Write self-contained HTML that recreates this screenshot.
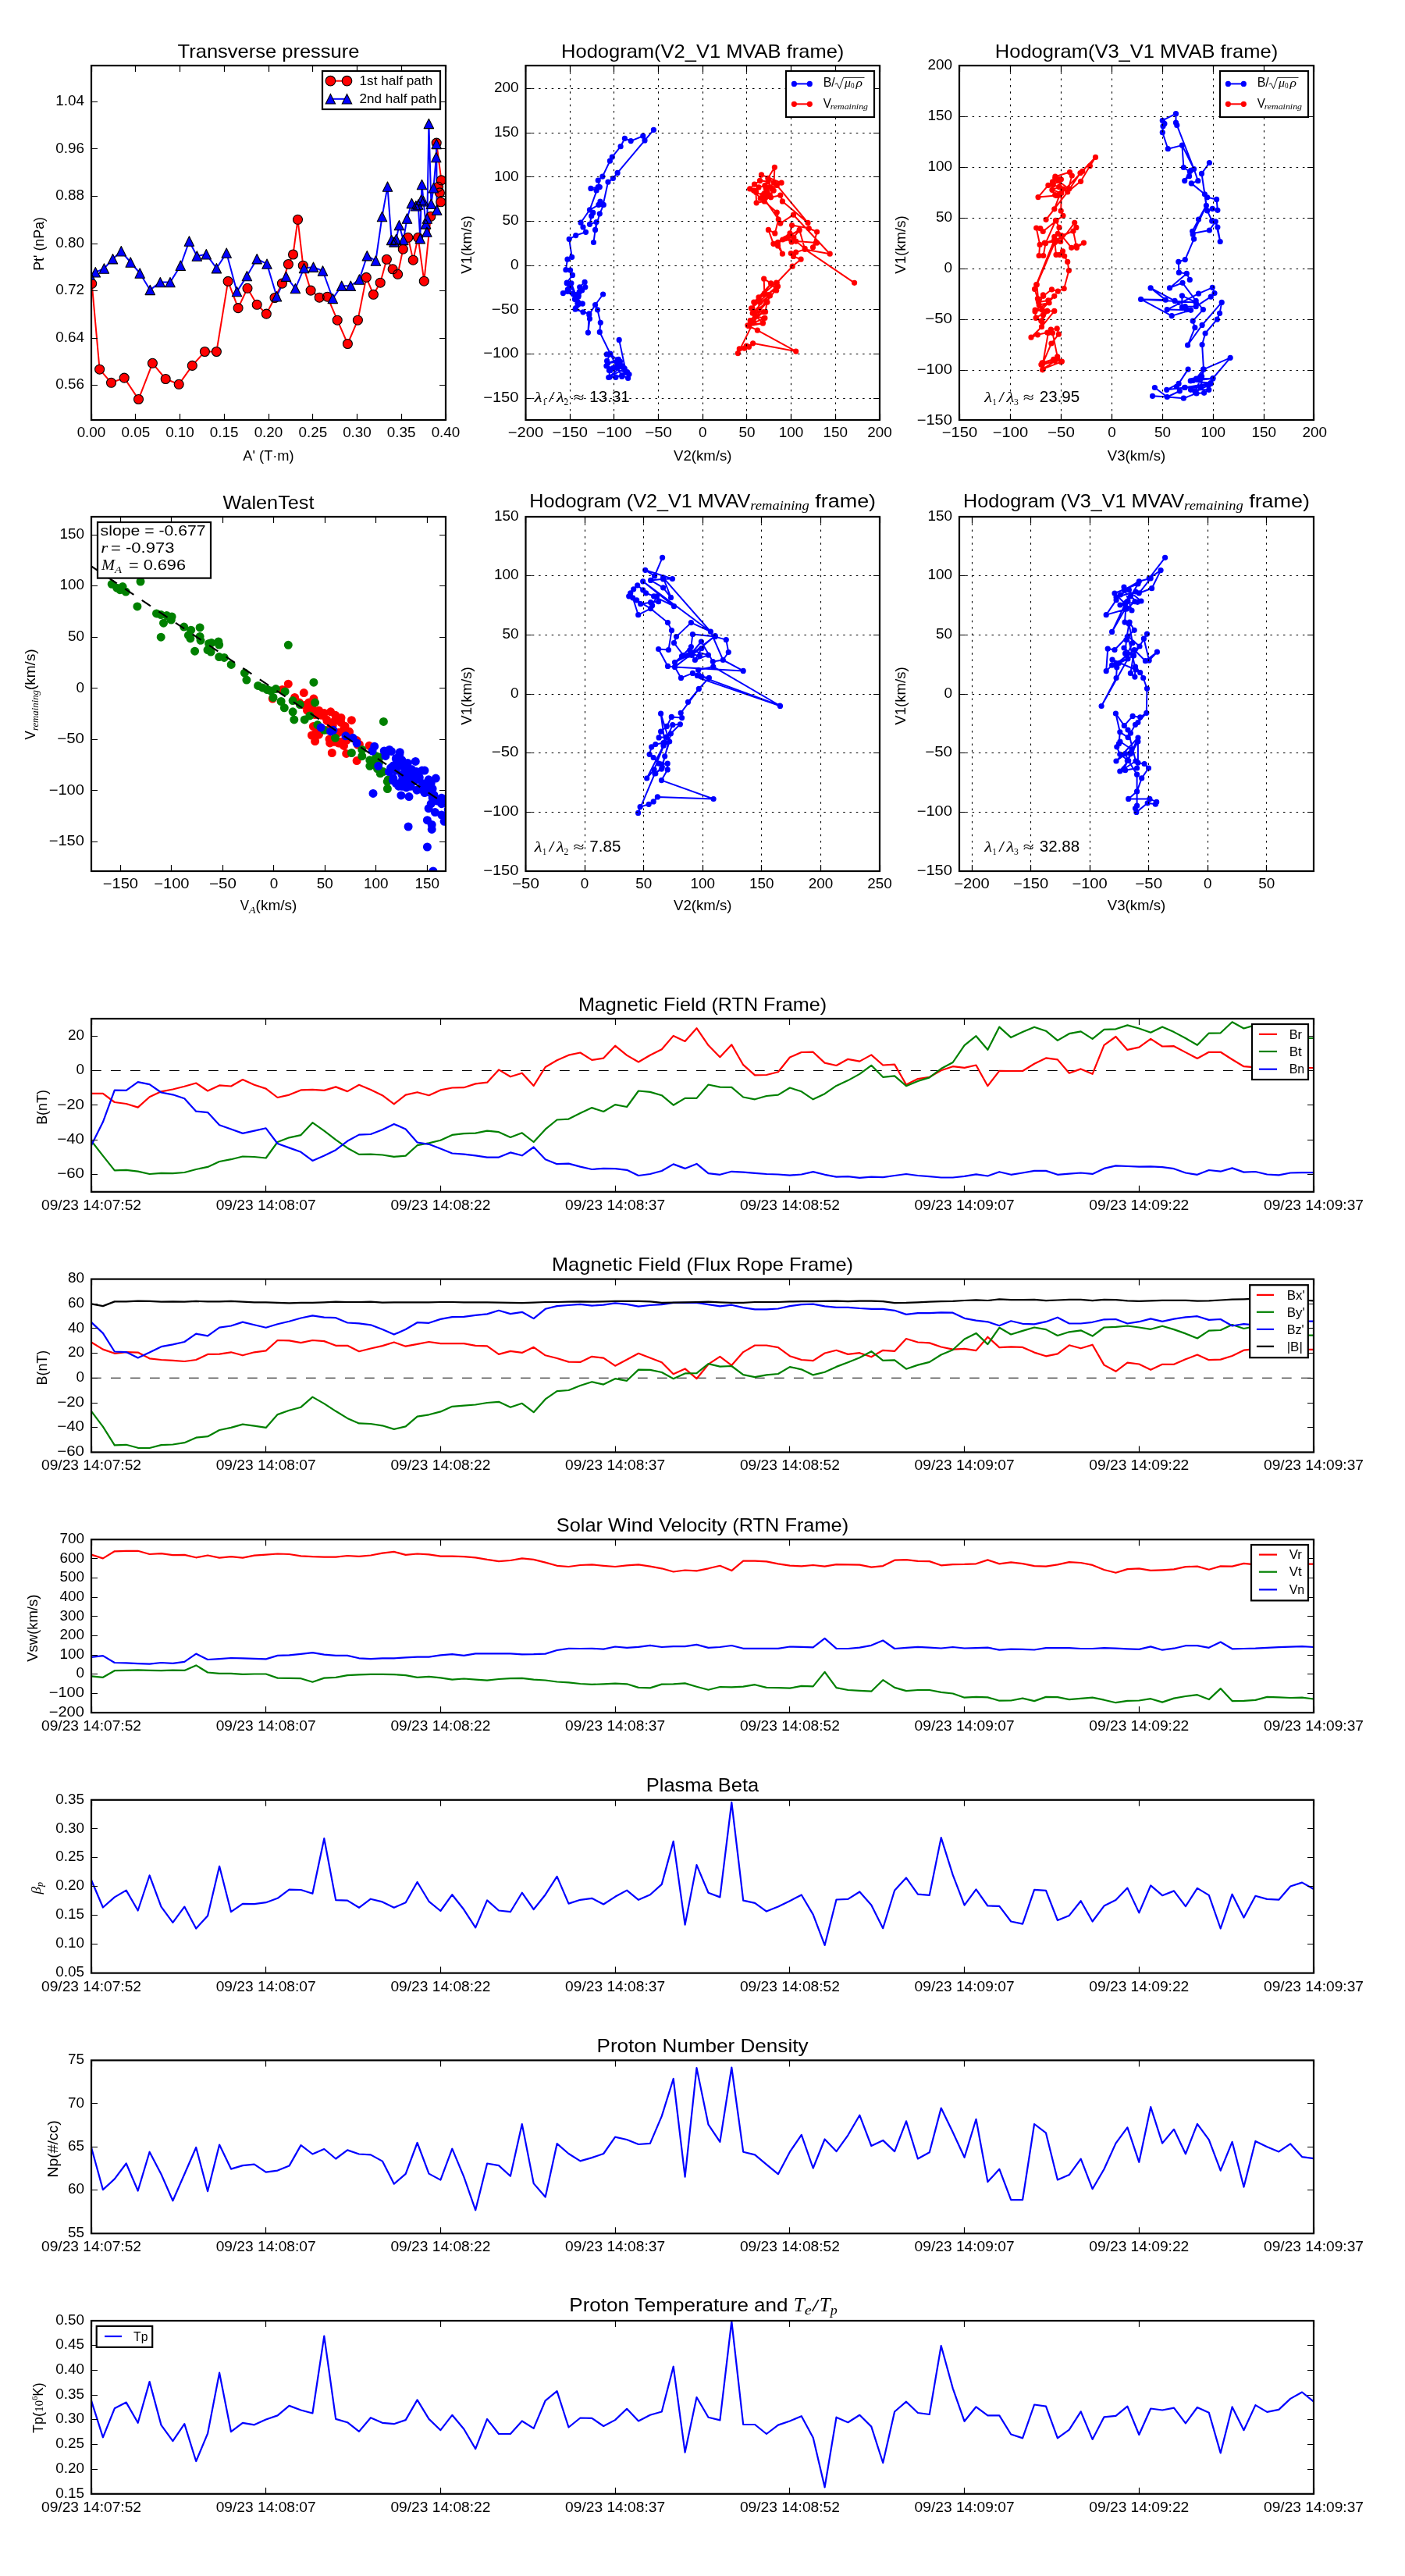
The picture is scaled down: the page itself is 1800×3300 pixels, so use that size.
<!DOCTYPE html>
<html><head><meta charset="utf-8"><style>html,body{margin:0;padding:0;background:#fff;}svg{display:block;will-change:transform}
</style></head><body>
<svg width="1800" height="3300" viewBox="0 0 1800 3300" font-family="Liberation Sans, sans-serif">
<rect width="1800" height="3300" fill="#fff"/>
<g stroke-linejoin="round" stroke-linecap="butt"><path d="M117 1371.5H1683" stroke="#000" stroke-width="1.1" stroke-dasharray="12.7 12.3" fill="none"/><path d="M117.0 1400.9 131.9 1400.9 146.8 1412.0 161.7 1414.0 176.7 1418.6 191.6 1405.2 206.5 1398.3 221.4 1395.5 236.3 1391.8 251.2 1387.5 266.1 1397.5 281.1 1390.4 296.0 1391.5 310.9 1383.0 325.8 1389.8 340.7 1394.6 355.6 1406.0 370.5 1402.6 385.5 1396.4 400.4 1395.8 415.3 1396.9 430.2 1392.4 445.1 1398.1 460.0 1389.8 474.9 1396.1 489.9 1403.2 504.8 1414.3 519.7 1402.6 534.6 1399.2 549.5 1403.2 564.4 1396.4 579.3 1393.5 594.3 1393.2 609.2 1388.4 624.1 1386.7 639.0 1370.4 653.9 1379.3 668.8 1374.7 683.7 1390.9 698.7 1367.0 713.6 1358.2 728.5 1351.7 743.4 1348.5 758.3 1357.9 773.2 1355.6 788.1 1339.7 803.1 1351.9 818.0 1360.5 832.9 1351.7 847.8 1344.3 862.7 1326.9 877.6 1334.0 892.5 1317.2 907.5 1339.1 922.4 1354.2 937.3 1338.3 952.2 1364.2 967.1 1377.3 982.0 1377.0 996.9 1373.3 1011.9 1354.5 1026.8 1348.0 1041.7 1347.7 1056.6 1361.6 1071.5 1365.0 1086.4 1356.8 1101.3 1359.6 1116.3 1351.4 1131.2 1364.5 1146.1 1363.6 1161.0 1389.5 1175.9 1382.1 1190.8 1379.8 1205.7 1371.3 1220.7 1366.2 1235.6 1367.9 1250.5 1364.5 1265.4 1391.2 1280.3 1371.8 1295.2 1372.0 1310.1 1372.0 1325.1 1362.7 1340.0 1355.4 1354.9 1357.4 1369.8 1374.7 1384.7 1369.4 1399.6 1375.8 1414.5 1338.8 1429.5 1328.0 1444.4 1344.9 1459.3 1341.7 1474.2 1330.9 1489.1 1340.5 1504.0 1340.2 1518.9 1348.1 1533.9 1356.0 1548.8 1347.8 1563.7 1347.8 1578.6 1357.2 1593.5 1366.2 1608.4 1367.4 1623.3 1368.0 1638.3 1369.4 1653.2 1368.0 1668.1 1368.0 1683.0 1368.0" fill="none" stroke="#ff0000" stroke-width="2.2"/><path d="M117.0 1461.5 131.9 1480.6 146.8 1499.4 161.7 1498.8 176.7 1500.6 191.6 1504.0 206.5 1502.8 221.4 1503.1 236.3 1502.0 251.2 1498.0 266.1 1494.9 281.1 1488.0 296.0 1485.2 310.9 1481.5 325.8 1482.0 340.7 1483.5 355.6 1463.0 370.5 1457.3 385.5 1454.1 400.4 1438.2 415.3 1448.7 430.2 1460.1 445.1 1470.7 460.0 1478.9 474.9 1478.6 489.9 1479.5 504.8 1481.8 519.7 1480.6 534.6 1467.2 549.5 1464.4 564.4 1460.7 579.3 1453.9 594.3 1452.2 609.2 1451.6 624.1 1448.7 639.0 1450.2 653.9 1457.0 668.8 1451.3 683.7 1463.0 698.7 1446.7 713.6 1434.5 728.5 1433.6 743.4 1426.0 758.3 1419.1 773.2 1424.0 788.1 1415.1 803.1 1418.0 818.0 1397.5 832.9 1398.9 847.8 1403.2 862.7 1415.7 877.6 1406.9 892.5 1406.9 907.5 1389.5 922.4 1392.7 937.3 1392.9 952.2 1405.5 967.1 1408.3 982.0 1404.0 996.9 1402.6 1011.9 1393.5 1026.8 1398.3 1041.7 1408.3 1056.6 1401.2 1071.5 1390.9 1086.4 1384.1 1101.3 1375.9 1116.3 1364.8 1131.2 1379.8 1146.1 1378.4 1161.0 1391.2 1175.9 1385.0 1190.8 1380.4 1205.7 1369.0 1220.7 1361.0 1235.6 1339.1 1250.5 1327.2 1265.4 1344.8 1280.3 1315.6 1295.2 1329.1 1310.1 1322.1 1325.1 1315.7 1340.0 1320.7 1354.9 1332.9 1369.8 1324.2 1384.7 1321.3 1399.6 1330.9 1414.5 1318.9 1429.5 1318.3 1444.4 1313.4 1459.3 1317.5 1474.2 1322.7 1489.1 1315.4 1504.0 1322.1 1518.9 1330.0 1533.9 1338.8 1548.8 1323.6 1563.7 1323.3 1578.6 1309.3 1593.5 1317.5 1608.4 1313.1 1623.3 1318.3 1638.3 1322.7 1653.2 1327.1 1668.1 1330.0 1683.0 1330.0" fill="none" stroke="#008000" stroke-width="2.2"/><path d="M117.0 1467.2 131.9 1437.3 146.8 1396.6 161.7 1396.9 176.7 1386.1 191.6 1389.2 206.5 1399.5 221.4 1402.3 236.3 1407.2 251.2 1423.7 266.1 1425.1 281.1 1441.3 296.0 1446.5 310.9 1451.9 325.8 1448.7 340.7 1445.3 355.6 1465.0 370.5 1470.4 385.5 1475.8 400.4 1486.9 415.3 1480.6 430.2 1473.2 445.1 1461.8 460.0 1453.6 474.9 1453.0 489.9 1447.3 504.8 1439.9 519.7 1446.5 534.6 1463.5 549.5 1465.8 564.4 1471.5 579.3 1477.5 594.3 1478.6 609.2 1480.3 624.1 1482.6 639.0 1482.6 653.9 1476.4 668.8 1480.3 683.7 1469.5 698.7 1485.2 713.6 1491.2 728.5 1490.6 743.4 1494.6 758.3 1498.0 773.2 1496.9 788.1 1497.1 803.1 1498.8 818.0 1506.0 832.9 1504.0 847.8 1500.0 862.7 1491.4 877.6 1496.9 892.5 1490.9 907.5 1503.1 922.4 1504.8 937.3 1500.8 952.2 1501.7 967.1 1502.8 982.0 1504.0 996.9 1504.5 1011.9 1505.7 1026.8 1504.5 1041.7 1501.1 1056.6 1504.8 1071.5 1507.7 1086.4 1507.1 1101.3 1508.8 1116.3 1507.7 1131.2 1508.2 1146.1 1506.0 1161.0 1504.0 1175.9 1506.0 1190.8 1507.1 1205.7 1508.5 1220.7 1508.5 1235.6 1506.8 1250.5 1504.3 1265.4 1506.5 1280.3 1501.2 1295.2 1504.8 1310.1 1502.5 1325.1 1499.9 1340.0 1499.9 1354.9 1504.8 1369.8 1503.6 1384.7 1502.5 1399.6 1503.9 1414.5 1496.9 1429.5 1493.4 1444.4 1494.0 1459.3 1494.6 1474.2 1494.3 1489.1 1495.2 1504.0 1497.2 1518.9 1502.5 1533.9 1504.8 1548.8 1499.0 1563.7 1500.7 1578.6 1496.4 1593.5 1501.6 1608.4 1501.0 1623.3 1504.5 1638.3 1505.4 1653.2 1502.5 1668.1 1502.2 1683.0 1502.2" fill="none" stroke="#0000ff" stroke-width="2.2"/><path d="M117 1765.3H1683" stroke="#000" stroke-width="1.1" stroke-dasharray="12.7 12.3" fill="none"/><path d="M117.0 1719.5 131.9 1728.6 146.8 1733.8 161.7 1732.1 176.7 1732.6 191.6 1740.3 206.5 1742.0 221.4 1742.9 236.3 1744.0 251.2 1742.0 266.1 1734.9 281.1 1734.6 296.0 1732.3 310.9 1736.3 325.8 1732.3 340.7 1730.4 355.6 1717.0 370.5 1717.3 385.5 1720.1 400.4 1717.0 415.3 1718.1 430.2 1723.8 445.1 1723.8 460.0 1731.2 474.9 1727.5 489.9 1724.1 504.8 1719.5 519.7 1724.7 534.6 1721.8 549.5 1719.0 564.4 1721.2 579.3 1721.2 594.3 1721.2 609.2 1723.8 624.1 1724.4 639.0 1734.9 653.9 1730.9 668.8 1732.9 683.7 1725.8 698.7 1736.3 713.6 1740.0 728.5 1744.6 743.4 1744.9 758.3 1737.8 773.2 1739.7 788.1 1749.7 803.1 1741.7 818.0 1733.8 832.9 1739.5 847.8 1745.2 862.7 1760.2 877.6 1753.4 892.5 1766.2 907.5 1747.7 922.4 1737.8 937.3 1749.1 952.2 1732.1 967.1 1723.5 982.0 1723.5 996.9 1726.1 1011.9 1737.2 1026.8 1742.0 1041.7 1743.2 1056.6 1733.5 1071.5 1729.8 1086.4 1734.9 1101.3 1733.2 1116.3 1738.3 1131.2 1729.8 1146.1 1730.9 1161.0 1715.0 1175.9 1719.5 1190.8 1720.4 1205.7 1725.5 1220.7 1728.6 1235.6 1727.8 1250.5 1730.1 1265.4 1712.7 1280.3 1726.1 1295.2 1725.3 1310.1 1725.9 1325.1 1732.6 1340.0 1737.3 1354.9 1734.3 1369.8 1723.3 1384.7 1727.3 1399.6 1722.7 1414.5 1748.6 1429.5 1756.8 1444.4 1745.7 1459.3 1747.5 1474.2 1754.8 1489.1 1747.8 1504.0 1747.8 1518.9 1741.3 1533.9 1735.5 1548.8 1742.2 1563.7 1741.6 1578.6 1737.0 1593.5 1729.7 1608.4 1728.2 1623.3 1728.2 1638.3 1728.8 1653.2 1728.8 1668.1 1728.8 1683.0 1728.8" fill="none" stroke="#ff0000" stroke-width="2.2"/><path d="M117.0 1807.8 131.9 1827.7 146.8 1851.3 161.7 1850.8 176.7 1854.8 191.6 1855.0 206.5 1851.1 221.4 1850.5 236.3 1848.2 251.2 1841.7 266.1 1840.2 281.1 1832.0 296.0 1828.9 310.9 1824.6 325.8 1826.6 340.7 1828.9 355.6 1812.1 370.5 1806.7 385.5 1802.7 400.4 1789.6 415.3 1798.1 430.2 1807.8 445.1 1816.9 460.0 1823.4 474.9 1824.0 489.9 1826.3 504.8 1830.9 519.7 1827.4 534.6 1814.6 549.5 1812.3 564.4 1808.4 579.3 1801.8 594.3 1800.7 609.2 1799.5 624.1 1797.0 639.0 1795.8 653.9 1802.7 668.8 1797.8 683.7 1809.2 698.7 1792.4 713.6 1782.2 728.5 1781.0 743.4 1775.0 758.3 1770.2 773.2 1773.6 788.1 1766.2 803.1 1768.8 818.0 1754.6 832.9 1754.8 847.8 1758.0 862.7 1766.2 877.6 1759.4 892.5 1759.1 907.5 1747.1 922.4 1750.6 937.3 1750.0 952.2 1761.1 967.1 1764.2 982.0 1761.4 996.9 1760.0 1011.9 1751.1 1026.8 1754.3 1041.7 1761.4 1056.6 1757.7 1071.5 1750.9 1086.4 1745.2 1101.3 1739.2 1116.3 1731.2 1131.2 1742.9 1146.1 1742.3 1161.0 1753.7 1175.9 1748.6 1190.8 1744.9 1205.7 1735.5 1220.7 1729.2 1235.6 1715.5 1250.5 1707.9 1265.4 1722.1 1280.3 1700.8 1295.2 1709.5 1310.1 1704.9 1325.1 1700.5 1340.0 1703.1 1354.9 1711.0 1369.8 1706.3 1384.7 1704.3 1399.6 1711.6 1414.5 1700.5 1429.5 1699.9 1444.4 1698.5 1459.3 1700.5 1474.2 1702.8 1489.1 1698.7 1504.0 1703.1 1518.9 1708.4 1533.9 1714.5 1548.8 1704.6 1563.7 1704.0 1578.6 1697.0 1593.5 1702.0 1608.4 1699.0 1623.3 1702.0 1638.3 1704.9 1653.2 1707.8 1668.1 1710.7 1683.0 1710.7" fill="none" stroke="#008000" stroke-width="2.2"/><path d="M117.0 1693.9 131.9 1707.9 146.8 1731.5 161.7 1732.1 176.7 1739.5 191.6 1732.6 206.5 1725.2 221.4 1722.4 236.3 1719.0 251.2 1708.7 266.1 1711.3 281.1 1700.7 296.0 1698.5 310.9 1693.6 325.8 1697.3 340.7 1700.7 355.6 1696.2 370.5 1692.8 385.5 1688.5 400.4 1685.4 415.3 1687.6 430.2 1688.2 445.1 1694.5 460.0 1695.3 474.9 1697.3 489.9 1703.0 504.8 1709.6 519.7 1703.0 534.6 1694.2 549.5 1694.8 564.4 1689.9 579.3 1687.1 594.3 1686.8 609.2 1684.8 624.1 1683.4 639.0 1678.8 653.9 1683.1 668.8 1680.8 683.7 1689.1 698.7 1676.8 713.6 1673.1 728.5 1672.0 743.4 1670.9 758.3 1672.6 773.2 1671.7 788.1 1669.4 803.1 1670.9 818.0 1673.7 832.9 1672.0 847.8 1671.1 862.7 1668.9 877.6 1668.9 892.5 1668.9 907.5 1671.1 922.4 1673.4 937.3 1671.7 952.2 1675.1 967.1 1677.4 982.0 1677.4 996.9 1676.5 1011.9 1673.1 1026.8 1671.1 1041.7 1670.6 1056.6 1673.4 1071.5 1674.8 1086.4 1674.8 1101.3 1676.0 1116.3 1676.8 1131.2 1676.8 1146.1 1678.8 1161.0 1683.9 1175.9 1682.2 1190.8 1682.2 1205.7 1681.4 1220.7 1681.7 1235.6 1688.8 1250.5 1691.6 1265.4 1693.3 1280.3 1698.2 1295.2 1692.3 1310.1 1695.8 1325.1 1696.4 1340.0 1693.2 1354.9 1687.7 1369.8 1695.5 1384.7 1695.5 1399.6 1693.8 1414.5 1690.3 1429.5 1690.0 1444.4 1695.5 1459.3 1693.2 1474.2 1689.4 1489.1 1692.9 1504.0 1689.7 1518.9 1687.4 1533.9 1686.2 1548.8 1690.9 1563.7 1690.0 1578.6 1698.5 1593.5 1696.1 1608.4 1697.6 1623.3 1696.1 1638.3 1694.7 1653.2 1693.2 1668.1 1692.6 1683.0 1692.6" fill="none" stroke="#0000ff" stroke-width="2.2"/><path d="M117.0 1670.3 131.9 1673.1 146.8 1667.4 161.7 1667.4 176.7 1666.6 191.6 1666.9 206.5 1667.7 221.4 1667.4 236.3 1667.7 251.2 1666.9 266.1 1667.4 281.1 1667.4 296.0 1666.9 310.9 1667.7 325.8 1668.3 340.7 1668.3 355.6 1668.9 370.5 1669.4 385.5 1668.9 400.4 1668.9 415.3 1668.3 430.2 1667.7 445.1 1668.0 460.0 1668.0 474.9 1667.7 489.9 1668.6 504.8 1668.3 519.7 1668.3 534.6 1668.3 549.5 1668.3 564.4 1668.0 579.3 1668.0 594.3 1668.3 609.2 1668.3 624.1 1668.3 639.0 1668.6 653.9 1668.9 668.8 1669.1 683.7 1668.6 698.7 1668.0 713.6 1668.0 728.5 1667.7 743.4 1667.4 758.3 1667.7 773.2 1667.4 788.1 1666.9 803.1 1666.9 818.0 1666.9 832.9 1667.4 847.8 1668.9 862.7 1668.6 877.6 1668.3 892.5 1668.0 907.5 1667.7 922.4 1668.3 937.3 1668.9 952.2 1668.9 967.1 1668.0 982.0 1668.0 996.9 1668.0 1011.9 1667.4 1026.8 1667.1 1041.7 1667.1 1056.6 1666.9 1071.5 1666.6 1086.4 1667.1 1101.3 1666.6 1116.3 1666.6 1131.2 1667.1 1146.1 1669.1 1161.0 1668.9 1175.9 1668.3 1190.8 1667.7 1205.7 1667.1 1220.7 1666.9 1235.6 1666.0 1250.5 1665.4 1265.4 1666.0 1280.3 1664.4 1295.2 1665.2 1310.1 1665.2 1325.1 1664.9 1340.0 1666.1 1354.9 1665.5 1369.8 1664.9 1384.7 1664.9 1399.6 1666.1 1414.5 1664.9 1429.5 1665.2 1444.4 1666.4 1459.3 1666.9 1474.2 1666.4 1489.1 1665.8 1504.0 1665.8 1518.9 1665.8 1533.9 1666.6 1548.8 1666.4 1563.7 1665.5 1578.6 1664.6 1593.5 1664.3 1608.4 1663.7 1623.3 1663.7 1638.3 1663.7 1653.2 1663.4 1668.1 1665.5 1683.0 1666.4" fill="none" stroke="#000000" stroke-width="2.2"/><path d="M117.0 1991.6 131.9 1996.4 146.8 1987.3 161.7 1986.8 176.7 1986.8 191.6 1991.0 206.5 1990.2 221.4 1992.2 236.3 1991.9 251.2 1995.3 266.1 1992.5 281.1 1995.6 296.0 1994.2 310.9 1995.6 325.8 1992.7 340.7 1991.6 355.6 1990.5 370.5 1991.0 385.5 1993.3 400.4 1994.2 415.3 1994.7 430.2 1994.7 445.1 1993.0 460.0 1993.9 474.9 1992.5 489.9 1989.6 504.8 1987.9 519.7 1991.9 534.6 1990.5 549.5 1991.3 564.4 1993.6 579.3 1993.6 594.3 1994.2 609.2 1995.3 624.1 1997.9 639.0 2000.1 653.9 1999.0 668.8 1996.4 683.7 1997.9 698.7 2001.6 713.6 2005.8 728.5 2007.0 743.4 2005.0 758.3 2004.4 773.2 2005.8 788.1 2007.0 803.1 2005.3 818.0 2004.4 832.9 2006.7 847.8 2009.3 862.7 2013.5 877.6 2011.5 892.5 2012.4 907.5 2009.3 922.4 2005.8 937.3 2012.1 952.2 1999.6 967.1 1999.6 982.0 2000.4 996.9 2003.3 1011.9 2005.6 1026.8 2006.4 1041.7 2005.0 1056.6 2006.7 1071.5 2004.1 1086.4 2004.4 1101.3 2004.7 1116.3 2007.6 1131.2 2006.1 1146.1 1998.7 1161.0 1998.2 1175.9 1999.9 1190.8 2000.1 1205.7 2005.3 1220.7 2004.1 1235.6 2003.9 1250.5 2003.3 1265.4 1998.4 1280.3 2003.4 1295.2 2001.4 1310.1 2003.1 1325.1 2006.1 1340.0 2006.6 1354.9 2004.3 1369.8 2001.1 1384.7 2002.0 1399.6 2004.9 1414.5 2011.0 1429.5 2014.8 1444.4 2010.1 1459.3 2009.3 1474.2 2011.9 1489.1 2011.3 1504.0 2010.4 1518.9 2007.2 1533.9 2006.6 1548.8 2010.7 1563.7 2006.4 1578.6 2006.6 1593.5 2002.9 1608.4 2004.3 1623.3 2004.3 1638.3 2004.3 1653.2 2004.3 1668.1 2003.7 1683.0 2003.7" fill="none" stroke="#ff0000" stroke-width="2.2"/><path d="M117.0 2147.3 131.9 2148.8 146.8 2140.2 161.7 2139.9 176.7 2139.4 191.6 2139.9 206.5 2140.2 221.4 2139.7 236.3 2139.9 251.2 2133.4 266.1 2142.5 281.1 2143.9 296.0 2143.9 310.9 2144.8 325.8 2144.5 340.7 2144.5 355.6 2149.6 370.5 2149.9 385.5 2150.2 400.4 2154.7 415.3 2149.6 430.2 2148.8 445.1 2146.2 460.0 2145.3 474.9 2144.8 489.9 2144.8 504.8 2145.1 519.7 2146.2 534.6 2148.8 549.5 2147.9 564.4 2149.3 579.3 2151.6 594.3 2150.5 609.2 2151.6 624.1 2152.7 639.0 2151.0 653.9 2150.2 668.8 2149.9 683.7 2151.6 698.7 2152.5 713.6 2154.5 728.5 2155.3 743.4 2157.0 758.3 2157.9 773.2 2157.3 788.1 2156.7 803.1 2157.3 818.0 2161.9 832.9 2162.4 847.8 2157.6 862.7 2157.3 877.6 2156.4 892.5 2160.7 907.5 2164.7 922.4 2161.0 937.3 2161.3 952.2 2160.7 967.1 2158.2 982.0 2161.9 996.9 2162.1 1011.9 2162.7 1026.8 2159.9 1041.7 2160.4 1056.6 2141.9 1071.5 2162.1 1086.4 2165.0 1101.3 2165.8 1116.3 2166.7 1131.2 2152.2 1146.1 2161.9 1161.0 2166.1 1175.9 2165.0 1190.8 2165.0 1205.7 2167.8 1220.7 2169.5 1235.6 2174.7 1250.5 2173.8 1265.4 2174.4 1280.3 2178.7 1295.2 2178.5 1310.1 2175.6 1325.1 2179.1 1340.0 2173.9 1354.9 2174.1 1369.8 2177.1 1384.7 2175.9 1399.6 2174.7 1414.5 2177.7 1429.5 2181.2 1444.4 2178.8 1459.3 2178.5 1474.2 2176.2 1489.1 2180.6 1504.0 2175.6 1518.9 2173.0 1533.9 2171.2 1548.8 2177.1 1563.7 2163.1 1578.6 2179.1 1593.5 2178.8 1608.4 2177.9 1623.3 2173.9 1638.3 2174.4 1653.2 2175.0 1668.1 2174.7 1683.0 2176.5" fill="none" stroke="#008000" stroke-width="2.2"/><path d="M117.0 2122.9 131.9 2121.1 146.8 2130.0 161.7 2130.3 176.7 2131.1 191.6 2131.7 206.5 2130.0 221.4 2130.8 236.3 2128.8 251.2 2118.6 266.1 2126.0 281.1 2125.1 296.0 2124.0 310.9 2124.3 325.8 2124.8 340.7 2125.4 355.6 2120.9 370.5 2120.3 385.5 2118.9 400.4 2117.2 415.3 2119.7 430.2 2120.9 445.1 2120.9 460.0 2124.3 474.9 2125.1 489.9 2124.3 504.8 2124.3 519.7 2123.4 534.6 2122.6 549.5 2122.6 564.4 2120.3 579.3 2119.2 594.3 2120.9 609.2 2118.3 624.1 2118.3 639.0 2118.3 653.9 2118.3 668.8 2119.4 683.7 2119.2 698.7 2118.6 713.6 2114.0 728.5 2111.8 743.4 2112.0 758.3 2111.8 773.2 2112.6 788.1 2109.5 803.1 2110.9 818.0 2109.8 832.9 2107.8 847.8 2110.0 862.7 2109.2 877.6 2109.2 892.5 2106.9 907.5 2110.9 922.4 2110.0 937.3 2108.0 952.2 2111.8 967.1 2111.8 982.0 2111.8 996.9 2111.8 1011.9 2109.5 1026.8 2109.8 1041.7 2110.3 1056.6 2098.9 1071.5 2111.8 1086.4 2112.0 1101.3 2110.6 1116.3 2107.8 1131.2 2101.5 1146.1 2112.0 1161.0 2110.9 1175.9 2109.8 1190.8 2110.6 1205.7 2111.5 1220.7 2110.0 1235.6 2111.5 1250.5 2111.2 1265.4 2110.6 1280.3 2113.6 1295.2 2112.6 1310.1 2112.9 1325.1 2113.5 1340.0 2111.1 1354.9 2111.1 1369.8 2111.1 1384.7 2112.0 1399.6 2112.0 1414.5 2111.1 1429.5 2111.7 1444.4 2112.3 1459.3 2112.9 1474.2 2109.4 1489.1 2113.7 1504.0 2111.7 1518.9 2108.2 1533.9 2108.2 1548.8 2110.8 1563.7 2103.5 1578.6 2112.3 1593.5 2112.0 1608.4 2111.7 1623.3 2110.8 1638.3 2110.2 1653.2 2109.7 1668.1 2109.1 1683.0 2110.0" fill="none" stroke="#0000ff" stroke-width="2.2"/><path d="M117.0 2408.5 131.9 2443.5 146.8 2430.4 161.7 2421.6 176.7 2447.5 191.6 2402.5 206.5 2442.6 221.4 2462.8 236.3 2442.6 251.2 2470.5 266.1 2454.3 281.1 2390.8 296.0 2449.2 310.9 2438.9 325.8 2439.2 340.7 2437.2 355.6 2431.8 370.5 2420.7 385.5 2421.0 400.4 2425.8 415.3 2355.2 430.2 2434.1 445.1 2434.6 460.0 2443.8 474.9 2432.7 489.9 2436.4 504.8 2443.8 519.7 2437.2 534.6 2411.0 549.5 2435.8 564.4 2448.0 579.3 2427.2 594.3 2446.3 609.2 2469.4 624.1 2434.4 639.0 2447.5 653.9 2449.2 668.8 2424.7 683.7 2446.0 698.7 2427.2 713.6 2403.9 728.5 2438.6 743.4 2433.8 758.3 2431.8 773.2 2439.5 788.1 2429.8 803.1 2421.6 818.0 2433.8 832.9 2427.2 847.8 2413.9 862.7 2358.9 877.6 2465.7 892.5 2389.1 907.5 2424.7 922.4 2430.4 937.3 2308.8 952.2 2434.6 967.1 2437.8 982.0 2448.6 996.9 2442.6 1011.9 2435.2 1026.8 2427.5 1041.7 2452.6 1056.6 2491.9 1071.5 2433.5 1086.4 2432.9 1101.3 2423.5 1116.3 2440.6 1131.2 2470.2 1146.1 2421.8 1161.0 2405.6 1175.9 2426.7 1190.8 2427.8 1205.7 2354.1 1220.7 2401.9 1235.6 2440.6 1250.5 2420.4 1265.4 2441.5 1280.3 2441.8 1295.2 2461.5 1310.1 2464.7 1325.1 2420.9 1340.0 2421.8 1354.9 2460.0 1369.8 2453.9 1384.7 2435.2 1399.6 2461.5 1414.5 2441.6 1429.5 2434.0 1444.4 2418.6 1459.3 2450.4 1474.2 2415.4 1489.1 2428.2 1504.0 2422.4 1518.9 2442.2 1533.9 2418.9 1548.8 2427.9 1563.7 2470.5 1578.6 2426.7 1593.5 2456.5 1608.4 2428.8 1623.3 2432.9 1638.3 2433.7 1653.2 2416.5 1668.1 2411.6 1683.0 2420.0" fill="none" stroke="#0000ff" stroke-width="2.2"/><path d="M117.0 2751.0 131.9 2805.1 146.8 2791.4 161.7 2771.5 176.7 2806.5 191.6 2756.7 206.5 2785.2 221.4 2819.3 236.3 2785.2 251.2 2751.0 266.1 2807.1 281.1 2747.6 296.0 2778.6 310.9 2774.1 325.8 2772.6 340.7 2782.6 355.6 2780.6 370.5 2774.6 385.5 2748.1 400.4 2759.5 415.3 2753.0 430.2 2765.5 445.1 2754.4 460.0 2759.5 474.9 2760.4 489.9 2768.6 504.8 2797.7 519.7 2784.9 534.6 2745.0 549.5 2784.6 564.4 2792.6 579.3 2752.7 594.3 2788.6 609.2 2831.3 624.1 2771.5 639.0 2774.1 653.9 2787.7 668.8 2721.1 683.7 2797.1 698.7 2814.5 713.6 2746.2 728.5 2759.0 743.4 2768.4 758.3 2764.1 773.2 2759.0 788.1 2737.6 803.1 2741.0 818.0 2747.0 832.9 2745.9 847.8 2710.9 862.7 2663.0 877.6 2788.6 892.5 2649.1 907.5 2721.7 922.4 2743.9 937.3 2648.5 952.2 2756.7 967.1 2760.4 982.0 2772.9 996.9 2785.2 1011.9 2756.7 1026.8 2734.8 1041.7 2777.5 1056.6 2740.5 1071.5 2756.1 1086.4 2735.3 1101.3 2709.7 1116.3 2749.0 1131.2 2741.9 1146.1 2756.1 1161.0 2717.4 1175.9 2765.5 1190.8 2757.3 1205.7 2700.6 1220.7 2731.6 1235.6 2763.8 1250.5 2714.8 1265.4 2795.1 1280.3 2778.7 1295.2 2818.2 1310.1 2818.2 1325.1 2721.0 1340.0 2732.4 1354.9 2792.5 1369.8 2786.1 1384.7 2765.7 1399.6 2804.2 1414.5 2778.8 1429.5 2745.6 1444.4 2725.4 1459.3 2769.8 1474.2 2699.2 1489.1 2745.6 1504.0 2727.8 1518.9 2759.3 1533.9 2720.8 1548.8 2741.2 1563.7 2780.6 1578.6 2743.8 1593.5 2801.6 1608.4 2742.9 1623.3 2750.2 1638.3 2756.4 1653.2 2746.4 1668.1 2763.1 1683.0 2765.1" fill="none" stroke="#0000ff" stroke-width="2.2"/><path d="M117.0 3075.3 131.9 3122.3 146.8 3085.3 161.7 3077.6 176.7 3103.8 191.6 3051.1 206.5 3106.6 221.4 3127.1 236.3 3105.2 251.2 3153.0 266.1 3117.4 281.1 3039.7 296.0 3115.2 310.9 3103.8 325.8 3106.3 340.7 3099.5 355.6 3094.4 370.5 3081.9 385.5 3087.5 400.4 3091.5 415.3 2992.7 430.2 3098.9 445.1 3103.2 460.0 3114.9 474.9 3097.2 489.9 3103.8 504.8 3105.2 519.7 3100.1 534.6 3074.4 549.5 3098.9 564.4 3113.2 579.3 3093.8 594.3 3111.7 609.2 3137.1 624.1 3098.9 639.0 3118.0 653.9 3118.0 668.8 3101.5 683.7 3110.9 698.7 3075.3 713.6 3063.1 728.5 3109.5 743.4 3097.5 758.3 3097.8 773.2 3108.0 788.1 3100.1 803.1 3085.8 818.0 3101.5 832.9 3093.8 847.8 3089.5 862.7 3031.7 877.6 3141.6 892.5 3071.0 907.5 3096.7 922.4 3100.4 937.3 2973.7 952.2 3106.0 967.1 3106.0 982.0 3118.0 996.9 3106.6 1011.9 3101.5 1026.8 3095.2 1041.7 3122.8 1056.6 3186.3 1071.5 3096.7 1086.4 3103.2 1101.3 3093.8 1116.3 3108.6 1131.2 3155.0 1146.1 3089.5 1161.0 3076.7 1175.9 3091.0 1190.8 3093.0 1205.7 3005.0 1220.7 3059.6 1235.6 3101.8 1250.5 3083.3 1265.4 3094.4 1280.3 3094.3 1295.2 3118.5 1310.1 3123.4 1325.1 3080.5 1340.0 3082.6 1354.9 3123.4 1369.8 3112.6 1384.7 3089.3 1399.6 3124.9 1414.5 3096.3 1429.5 3094.8 1444.4 3082.6 1459.3 3119.0 1474.2 3085.5 1489.1 3087.5 1504.0 3084.6 1518.9 3104.4 1533.9 3084.0 1548.8 3090.7 1563.7 3142.4 1578.6 3083.4 1593.5 3113.2 1608.4 3081.1 1623.3 3089.9 1638.3 3086.9 1653.2 3072.9 1668.1 3064.5 1683.0 3076.7" fill="none" stroke="#0000ff" stroke-width="2.2"/><clipPath id="cA"><rect x="117" y="84" width="454" height="454"/></clipPath><g clip-path="url(#cA)"><path d="M117.7 363.3 127.6 473.2 142.5 490.3 159.2 484.1 177.5 511.5 195.4 465.3 212.2 485.5 229.2 492.3 246.3 468.4 262.4 450.5 277.4 450.5 292.1 360.4 305.1 394.6 317.0 369.3 329.2 390.3 341.3 402.1 352.0 381.5 361.4 363.1 369.4 338.5 375.5 326.0 381.5 281.3 388.3 340.2 398.1 372.1 409.2 381.2 419.4 380.2 432.2 410.2 445.4 440.5 458.4 410.2 469.3 355.4 478.4 377.3 487.2 362.2 495.4 332.3 503.1 344.8 509.6 351.3 516.3 319.2 522.8 304.3 529.3 333.2 535.6 304.3 543.3 360.2 551.8 277.3 564.8 258.8 563.4 246.9 561.6 239.3 565.4 230.9 559.2 183.1" fill="none" stroke="#ff0000" stroke-width="2.0"/><path d="M115.0 352.0 122.3 348.8 133.4 344.0 144.5 331.7 155.3 321.8 167.2 336.0 179.2 350.0 192.3 371.4 205.3 361.6 218.0 361.6 231.3 340.3 242.4 309.0 252.3 328.0 264.3 325.8 277.4 343.7 290.2 324.1 303.5 373.6 316.4 353.6 329.2 331.7 342.0 338.1 354.5 379.8 366.5 354.2 378.4 369.6 389.5 343.6 401.5 342.2 413.5 347.0 426.3 382.4 437.7 366.2 449.3 366.2 460.4 358.0 470.3 327.7 481.4 334.0 489.5 277.5 496.5 239.1 501.6 307.4 505.0 309.9 507.6 306.5 511.4 288.6 516.8 307.4 521.5 280.0 527.4 260.4 532.8 263.8 535.8 262.1 538.3 305.7 539.6 256.1 540.5 236.5 542.6 257.8 545.6 286.9 546.9 297.1 547.3 280.0 549.4 158.4 552.4 261.3 555.4 240.8 558.8 201.5 559.2 184.4 559.7 269.0" fill="none" stroke="#0000ff" stroke-width="2.0"/><path d="M111.7 363.3a6.0 6.0 0 1 0 12.0 0a6.0 6.0 0 1 0 -12.0 0M121.6 473.2a6.0 6.0 0 1 0 12.0 0a6.0 6.0 0 1 0 -12.0 0M136.5 490.3a6.0 6.0 0 1 0 12.0 0a6.0 6.0 0 1 0 -12.0 0M153.2 484.1a6.0 6.0 0 1 0 12.0 0a6.0 6.0 0 1 0 -12.0 0M171.5 511.5a6.0 6.0 0 1 0 12.0 0a6.0 6.0 0 1 0 -12.0 0M189.4 465.3a6.0 6.0 0 1 0 12.0 0a6.0 6.0 0 1 0 -12.0 0M206.2 485.5a6.0 6.0 0 1 0 12.0 0a6.0 6.0 0 1 0 -12.0 0M223.2 492.3a6.0 6.0 0 1 0 12.0 0a6.0 6.0 0 1 0 -12.0 0M240.3 468.4a6.0 6.0 0 1 0 12.0 0a6.0 6.0 0 1 0 -12.0 0M256.4 450.5a6.0 6.0 0 1 0 12.0 0a6.0 6.0 0 1 0 -12.0 0M271.4 450.5a6.0 6.0 0 1 0 12.0 0a6.0 6.0 0 1 0 -12.0 0M286.1 360.4a6.0 6.0 0 1 0 12.0 0a6.0 6.0 0 1 0 -12.0 0M299.1 394.6a6.0 6.0 0 1 0 12.0 0a6.0 6.0 0 1 0 -12.0 0M311.0 369.3a6.0 6.0 0 1 0 12.0 0a6.0 6.0 0 1 0 -12.0 0M323.2 390.3a6.0 6.0 0 1 0 12.0 0a6.0 6.0 0 1 0 -12.0 0M335.3 402.1a6.0 6.0 0 1 0 12.0 0a6.0 6.0 0 1 0 -12.0 0M346.0 381.5a6.0 6.0 0 1 0 12.0 0a6.0 6.0 0 1 0 -12.0 0M355.4 363.1a6.0 6.0 0 1 0 12.0 0a6.0 6.0 0 1 0 -12.0 0M363.4 338.5a6.0 6.0 0 1 0 12.0 0a6.0 6.0 0 1 0 -12.0 0M369.5 326.0a6.0 6.0 0 1 0 12.0 0a6.0 6.0 0 1 0 -12.0 0M375.5 281.3a6.0 6.0 0 1 0 12.0 0a6.0 6.0 0 1 0 -12.0 0M382.3 340.2a6.0 6.0 0 1 0 12.0 0a6.0 6.0 0 1 0 -12.0 0M392.1 372.1a6.0 6.0 0 1 0 12.0 0a6.0 6.0 0 1 0 -12.0 0M403.2 381.2a6.0 6.0 0 1 0 12.0 0a6.0 6.0 0 1 0 -12.0 0M413.4 380.2a6.0 6.0 0 1 0 12.0 0a6.0 6.0 0 1 0 -12.0 0M426.2 410.2a6.0 6.0 0 1 0 12.0 0a6.0 6.0 0 1 0 -12.0 0M439.4 440.5a6.0 6.0 0 1 0 12.0 0a6.0 6.0 0 1 0 -12.0 0M452.4 410.2a6.0 6.0 0 1 0 12.0 0a6.0 6.0 0 1 0 -12.0 0M463.3 355.4a6.0 6.0 0 1 0 12.0 0a6.0 6.0 0 1 0 -12.0 0M472.4 377.3a6.0 6.0 0 1 0 12.0 0a6.0 6.0 0 1 0 -12.0 0M481.2 362.2a6.0 6.0 0 1 0 12.0 0a6.0 6.0 0 1 0 -12.0 0M489.4 332.3a6.0 6.0 0 1 0 12.0 0a6.0 6.0 0 1 0 -12.0 0M497.1 344.8a6.0 6.0 0 1 0 12.0 0a6.0 6.0 0 1 0 -12.0 0M503.6 351.3a6.0 6.0 0 1 0 12.0 0a6.0 6.0 0 1 0 -12.0 0M510.3 319.2a6.0 6.0 0 1 0 12.0 0a6.0 6.0 0 1 0 -12.0 0M516.8 304.3a6.0 6.0 0 1 0 12.0 0a6.0 6.0 0 1 0 -12.0 0M523.3 333.2a6.0 6.0 0 1 0 12.0 0a6.0 6.0 0 1 0 -12.0 0M529.6 304.3a6.0 6.0 0 1 0 12.0 0a6.0 6.0 0 1 0 -12.0 0M537.3 360.2a6.0 6.0 0 1 0 12.0 0a6.0 6.0 0 1 0 -12.0 0M545.8 277.3a6.0 6.0 0 1 0 12.0 0a6.0 6.0 0 1 0 -12.0 0M558.8 258.8a6.0 6.0 0 1 0 12.0 0a6.0 6.0 0 1 0 -12.0 0M557.4 246.9a6.0 6.0 0 1 0 12.0 0a6.0 6.0 0 1 0 -12.0 0M555.6 239.3a6.0 6.0 0 1 0 12.0 0a6.0 6.0 0 1 0 -12.0 0M559.4 230.9a6.0 6.0 0 1 0 12.0 0a6.0 6.0 0 1 0 -12.0 0M553.2 183.1a6.0 6.0 0 1 0 12.0 0a6.0 6.0 0 1 0 -12.0 0" fill="#ff0000" stroke="#000" stroke-width="1.1"/><path d="M115.0 345.8L108.8 358.2L121.2 358.2ZM122.3 342.6L116.1 355.0L128.5 355.0ZM133.4 337.8L127.2 350.2L139.6 350.2ZM144.5 325.5L138.3 337.9L150.7 337.9ZM155.3 315.6L149.1 328.0L161.5 328.0ZM167.2 329.8L161.0 342.2L173.4 342.2ZM179.2 343.8L173.0 356.2L185.4 356.2ZM192.3 365.2L186.1 377.6L198.5 377.6ZM205.3 355.4L199.1 367.8L211.5 367.8ZM218.0 355.4L211.8 367.8L224.2 367.8ZM231.3 334.1L225.1 346.5L237.5 346.5ZM242.4 302.8L236.2 315.2L248.6 315.2ZM252.3 321.8L246.1 334.2L258.5 334.2ZM264.3 319.6L258.1 332.0L270.5 332.0ZM277.4 337.5L271.2 349.9L283.6 349.9ZM290.2 317.9L284.0 330.3L296.4 330.3ZM303.5 367.4L297.3 379.8L309.7 379.8ZM316.4 347.4L310.2 359.8L322.6 359.8ZM329.2 325.5L323.0 337.9L335.4 337.9ZM342.0 331.9L335.8 344.3L348.2 344.3ZM354.5 373.6L348.3 386.0L360.7 386.0ZM366.5 348.0L360.3 360.4L372.7 360.4ZM378.4 363.4L372.2 375.8L384.6 375.8ZM389.5 337.4L383.3 349.8L395.7 349.8ZM401.5 336.0L395.3 348.4L407.7 348.4ZM413.5 340.8L407.3 353.2L419.7 353.2ZM426.3 376.2L420.1 388.6L432.5 388.6ZM437.7 360.0L431.5 372.4L443.9 372.4ZM449.3 360.0L443.1 372.4L455.5 372.4ZM460.4 351.8L454.2 364.2L466.6 364.2ZM470.3 321.5L464.1 333.9L476.5 333.9ZM481.4 327.8L475.2 340.2L487.6 340.2ZM489.5 271.3L483.3 283.7L495.7 283.7ZM496.5 232.9L490.3 245.3L502.7 245.3ZM501.6 301.2L495.4 313.6L507.8 313.6ZM505.0 303.7L498.8 316.1L511.2 316.1ZM507.6 300.3L501.4 312.7L513.8 312.7ZM511.4 282.4L505.2 294.8L517.6 294.8ZM516.8 301.2L510.6 313.6L523.0 313.6ZM521.5 273.8L515.3 286.2L527.7 286.2ZM527.4 254.2L521.2 266.6L533.6 266.6ZM532.8 257.6L526.6 270.0L539.0 270.0ZM535.8 255.9L529.6 268.3L542.0 268.3ZM538.3 299.5L532.1 311.9L544.5 311.9ZM539.6 249.9L533.4 262.3L545.8 262.3ZM540.5 230.3L534.3 242.7L546.7 242.7ZM542.6 251.6L536.4 264.0L548.8 264.0ZM545.6 280.7L539.4 293.1L551.8 293.1ZM546.9 290.9L540.7 303.3L553.1 303.3ZM547.3 273.8L541.1 286.2L553.5 286.2ZM549.4 152.2L543.2 164.6L555.6 164.6ZM552.4 255.1L546.2 267.5L558.6 267.5ZM555.4 234.6L549.2 247.0L561.6 247.0ZM558.8 195.3L552.6 207.7L565.0 207.7ZM559.2 178.2L553.0 190.6L565.4 190.6ZM559.7 262.8L553.5 275.2L565.9 275.2Z" fill="#0000ff" stroke="#000" stroke-width="1.1"/></g><path d="M793.2 435.4 801.8 475.9 806.0 479.5 804.6 484.5 796.8 480.9 789.0 483.1 781.1 483.1 780.4 474.5 791.1 466.0 792.5 460.3 799.6 471.7 802.5 477.4 785.4 471.7 776.9 468.8 777.6 462.4 781.9 453.2 768.3 425.4 769.3 413.3 765.5 396.9 762.6 390.5 772.6 377.0 762.6 390.5 754.8 403.3 755.5 408.3 753.4 426.1 754.8 401.9 747.0 399.8 737.0 396.2 746.3 389.1 739.9 388.4 741.3 379.1 745.6 372.0 749.8 367.8 749.1 361.4 742.7 367.8 737.0 382.0 727.0 373.5 721.4 375.6 729.9 367.8 726.3 362.1 733.5 352.4 730.6 346.1 724.9 345.7 727.0 332.2 732.7 329.3 729.2 306.3 737.7 301.6 750.5 297.3 747.0 290.9 744.1 285.2 755.5 268.8 759.8 272.4 757.7 276.7 755.5 287.3 764.1 284.5 762.6 294.4 760.5 310.5 762.6 294.4 768.3 273.8 773.3 262.4 769.0 258.1 766.9 262.4 755.5 268.8 766.2 239.6 756.9 241.4 764.1 243.9 768.3 239.6 766.2 231.1 771.9 226.1 781.4 206.2 784.3 201.2 795.1 187.7 800.4 177.3 808.2 180.6 823.8 174.2 826.0 179.9 837.4 166.3 791.1 221.4 785.4 228.5 779.0 233.2 772.6 262.4" fill="none" stroke="#0000ff" stroke-width="2.0"/><path d="M777.4 453.9 782.0 453.9 791.1 460.7 778.6 465.3 794.5 463.0 782.0 474.4 796.8 468.7 779.7 483.5 800.2 472.1 786.6 471.0 788.8 483.5 803.6 476.7 796.8 482.4 791.1 471.0 782.0 453.9" fill="none" stroke="#0000ff" stroke-width="2.0"/><path d="M727.3 370.8 737.6 377.6 731.9 362.8 741.0 387.8 734.2 376.4 745.6 389.0 737.6 394.7 741.0 379.9 726.2 362.8 736.4 383.3 742.1 374.2" fill="none" stroke="#0000ff" stroke-width="2.0"/><path d="M789.6 435.4a3.6 3.6 0 1 0 7.2 0a3.6 3.6 0 1 0 -7.2 0M798.2 475.9a3.6 3.6 0 1 0 7.2 0a3.6 3.6 0 1 0 -7.2 0M802.4 479.5a3.6 3.6 0 1 0 7.2 0a3.6 3.6 0 1 0 -7.2 0M801.0 484.5a3.6 3.6 0 1 0 7.2 0a3.6 3.6 0 1 0 -7.2 0M793.2 480.9a3.6 3.6 0 1 0 7.2 0a3.6 3.6 0 1 0 -7.2 0M785.4 483.1a3.6 3.6 0 1 0 7.2 0a3.6 3.6 0 1 0 -7.2 0M777.5 483.1a3.6 3.6 0 1 0 7.2 0a3.6 3.6 0 1 0 -7.2 0M776.8 474.5a3.6 3.6 0 1 0 7.2 0a3.6 3.6 0 1 0 -7.2 0M787.5 466.0a3.6 3.6 0 1 0 7.2 0a3.6 3.6 0 1 0 -7.2 0M788.9 460.3a3.6 3.6 0 1 0 7.2 0a3.6 3.6 0 1 0 -7.2 0M796.0 471.7a3.6 3.6 0 1 0 7.2 0a3.6 3.6 0 1 0 -7.2 0M798.9 477.4a3.6 3.6 0 1 0 7.2 0a3.6 3.6 0 1 0 -7.2 0M781.8 471.7a3.6 3.6 0 1 0 7.2 0a3.6 3.6 0 1 0 -7.2 0M773.3 468.8a3.6 3.6 0 1 0 7.2 0a3.6 3.6 0 1 0 -7.2 0M774.0 462.4a3.6 3.6 0 1 0 7.2 0a3.6 3.6 0 1 0 -7.2 0M778.3 453.2a3.6 3.6 0 1 0 7.2 0a3.6 3.6 0 1 0 -7.2 0M764.7 425.4a3.6 3.6 0 1 0 7.2 0a3.6 3.6 0 1 0 -7.2 0M765.7 413.3a3.6 3.6 0 1 0 7.2 0a3.6 3.6 0 1 0 -7.2 0M761.9 396.9a3.6 3.6 0 1 0 7.2 0a3.6 3.6 0 1 0 -7.2 0M759.0 390.5a3.6 3.6 0 1 0 7.2 0a3.6 3.6 0 1 0 -7.2 0M769.0 377.0a3.6 3.6 0 1 0 7.2 0a3.6 3.6 0 1 0 -7.2 0M759.0 390.5a3.6 3.6 0 1 0 7.2 0a3.6 3.6 0 1 0 -7.2 0M751.2 403.3a3.6 3.6 0 1 0 7.2 0a3.6 3.6 0 1 0 -7.2 0M751.9 408.3a3.6 3.6 0 1 0 7.2 0a3.6 3.6 0 1 0 -7.2 0M749.8 426.1a3.6 3.6 0 1 0 7.2 0a3.6 3.6 0 1 0 -7.2 0M751.2 401.9a3.6 3.6 0 1 0 7.2 0a3.6 3.6 0 1 0 -7.2 0M743.4 399.8a3.6 3.6 0 1 0 7.2 0a3.6 3.6 0 1 0 -7.2 0M733.4 396.2a3.6 3.6 0 1 0 7.2 0a3.6 3.6 0 1 0 -7.2 0M742.7 389.1a3.6 3.6 0 1 0 7.2 0a3.6 3.6 0 1 0 -7.2 0M736.3 388.4a3.6 3.6 0 1 0 7.2 0a3.6 3.6 0 1 0 -7.2 0M737.7 379.1a3.6 3.6 0 1 0 7.2 0a3.6 3.6 0 1 0 -7.2 0M742.0 372.0a3.6 3.6 0 1 0 7.2 0a3.6 3.6 0 1 0 -7.2 0M746.2 367.8a3.6 3.6 0 1 0 7.2 0a3.6 3.6 0 1 0 -7.2 0M745.5 361.4a3.6 3.6 0 1 0 7.2 0a3.6 3.6 0 1 0 -7.2 0M739.1 367.8a3.6 3.6 0 1 0 7.2 0a3.6 3.6 0 1 0 -7.2 0M733.4 382.0a3.6 3.6 0 1 0 7.2 0a3.6 3.6 0 1 0 -7.2 0M723.4 373.5a3.6 3.6 0 1 0 7.2 0a3.6 3.6 0 1 0 -7.2 0M717.8 375.6a3.6 3.6 0 1 0 7.2 0a3.6 3.6 0 1 0 -7.2 0M726.3 367.8a3.6 3.6 0 1 0 7.2 0a3.6 3.6 0 1 0 -7.2 0M722.7 362.1a3.6 3.6 0 1 0 7.2 0a3.6 3.6 0 1 0 -7.2 0M729.9 352.4a3.6 3.6 0 1 0 7.2 0a3.6 3.6 0 1 0 -7.2 0M727.0 346.1a3.6 3.6 0 1 0 7.2 0a3.6 3.6 0 1 0 -7.2 0M721.3 345.7a3.6 3.6 0 1 0 7.2 0a3.6 3.6 0 1 0 -7.2 0M723.4 332.2a3.6 3.6 0 1 0 7.2 0a3.6 3.6 0 1 0 -7.2 0M729.1 329.3a3.6 3.6 0 1 0 7.2 0a3.6 3.6 0 1 0 -7.2 0M725.6 306.3a3.6 3.6 0 1 0 7.2 0a3.6 3.6 0 1 0 -7.2 0M734.1 301.6a3.6 3.6 0 1 0 7.2 0a3.6 3.6 0 1 0 -7.2 0M746.9 297.3a3.6 3.6 0 1 0 7.2 0a3.6 3.6 0 1 0 -7.2 0M743.4 290.9a3.6 3.6 0 1 0 7.2 0a3.6 3.6 0 1 0 -7.2 0M740.5 285.2a3.6 3.6 0 1 0 7.2 0a3.6 3.6 0 1 0 -7.2 0M751.9 268.8a3.6 3.6 0 1 0 7.2 0a3.6 3.6 0 1 0 -7.2 0M756.2 272.4a3.6 3.6 0 1 0 7.2 0a3.6 3.6 0 1 0 -7.2 0M754.1 276.7a3.6 3.6 0 1 0 7.2 0a3.6 3.6 0 1 0 -7.2 0M751.9 287.3a3.6 3.6 0 1 0 7.2 0a3.6 3.6 0 1 0 -7.2 0M760.5 284.5a3.6 3.6 0 1 0 7.2 0a3.6 3.6 0 1 0 -7.2 0M759.0 294.4a3.6 3.6 0 1 0 7.2 0a3.6 3.6 0 1 0 -7.2 0M756.9 310.5a3.6 3.6 0 1 0 7.2 0a3.6 3.6 0 1 0 -7.2 0M759.0 294.4a3.6 3.6 0 1 0 7.2 0a3.6 3.6 0 1 0 -7.2 0M764.7 273.8a3.6 3.6 0 1 0 7.2 0a3.6 3.6 0 1 0 -7.2 0M769.7 262.4a3.6 3.6 0 1 0 7.2 0a3.6 3.6 0 1 0 -7.2 0M765.4 258.1a3.6 3.6 0 1 0 7.2 0a3.6 3.6 0 1 0 -7.2 0M763.3 262.4a3.6 3.6 0 1 0 7.2 0a3.6 3.6 0 1 0 -7.2 0M751.9 268.8a3.6 3.6 0 1 0 7.2 0a3.6 3.6 0 1 0 -7.2 0M762.6 239.6a3.6 3.6 0 1 0 7.2 0a3.6 3.6 0 1 0 -7.2 0M753.3 241.4a3.6 3.6 0 1 0 7.2 0a3.6 3.6 0 1 0 -7.2 0M760.5 243.9a3.6 3.6 0 1 0 7.2 0a3.6 3.6 0 1 0 -7.2 0M764.7 239.6a3.6 3.6 0 1 0 7.2 0a3.6 3.6 0 1 0 -7.2 0M762.6 231.1a3.6 3.6 0 1 0 7.2 0a3.6 3.6 0 1 0 -7.2 0M768.3 226.1a3.6 3.6 0 1 0 7.2 0a3.6 3.6 0 1 0 -7.2 0M777.8 206.2a3.6 3.6 0 1 0 7.2 0a3.6 3.6 0 1 0 -7.2 0M780.7 201.2a3.6 3.6 0 1 0 7.2 0a3.6 3.6 0 1 0 -7.2 0M791.5 187.7a3.6 3.6 0 1 0 7.2 0a3.6 3.6 0 1 0 -7.2 0M796.8 177.3a3.6 3.6 0 1 0 7.2 0a3.6 3.6 0 1 0 -7.2 0M804.6 180.6a3.6 3.6 0 1 0 7.2 0a3.6 3.6 0 1 0 -7.2 0M820.2 174.2a3.6 3.6 0 1 0 7.2 0a3.6 3.6 0 1 0 -7.2 0M822.4 179.9a3.6 3.6 0 1 0 7.2 0a3.6 3.6 0 1 0 -7.2 0M833.8 166.3a3.6 3.6 0 1 0 7.2 0a3.6 3.6 0 1 0 -7.2 0M787.5 221.4a3.6 3.6 0 1 0 7.2 0a3.6 3.6 0 1 0 -7.2 0M781.8 228.5a3.6 3.6 0 1 0 7.2 0a3.6 3.6 0 1 0 -7.2 0M775.4 233.2a3.6 3.6 0 1 0 7.2 0a3.6 3.6 0 1 0 -7.2 0M769.0 262.4a3.6 3.6 0 1 0 7.2 0a3.6 3.6 0 1 0 -7.2 0M773.8 453.9a3.6 3.6 0 1 0 7.2 0a3.6 3.6 0 1 0 -7.2 0M778.4 453.9a3.6 3.6 0 1 0 7.2 0a3.6 3.6 0 1 0 -7.2 0M787.5 460.7a3.6 3.6 0 1 0 7.2 0a3.6 3.6 0 1 0 -7.2 0M775.0 465.3a3.6 3.6 0 1 0 7.2 0a3.6 3.6 0 1 0 -7.2 0M790.9 463.0a3.6 3.6 0 1 0 7.2 0a3.6 3.6 0 1 0 -7.2 0M778.4 474.4a3.6 3.6 0 1 0 7.2 0a3.6 3.6 0 1 0 -7.2 0M793.2 468.7a3.6 3.6 0 1 0 7.2 0a3.6 3.6 0 1 0 -7.2 0M776.1 483.5a3.6 3.6 0 1 0 7.2 0a3.6 3.6 0 1 0 -7.2 0M796.6 472.1a3.6 3.6 0 1 0 7.2 0a3.6 3.6 0 1 0 -7.2 0M783.0 471.0a3.6 3.6 0 1 0 7.2 0a3.6 3.6 0 1 0 -7.2 0M785.2 483.5a3.6 3.6 0 1 0 7.2 0a3.6 3.6 0 1 0 -7.2 0M800.0 476.7a3.6 3.6 0 1 0 7.2 0a3.6 3.6 0 1 0 -7.2 0M793.2 482.4a3.6 3.6 0 1 0 7.2 0a3.6 3.6 0 1 0 -7.2 0M787.5 471.0a3.6 3.6 0 1 0 7.2 0a3.6 3.6 0 1 0 -7.2 0M778.4 453.9a3.6 3.6 0 1 0 7.2 0a3.6 3.6 0 1 0 -7.2 0M723.7 370.8a3.6 3.6 0 1 0 7.2 0a3.6 3.6 0 1 0 -7.2 0M734.0 377.6a3.6 3.6 0 1 0 7.2 0a3.6 3.6 0 1 0 -7.2 0M728.3 362.8a3.6 3.6 0 1 0 7.2 0a3.6 3.6 0 1 0 -7.2 0M737.4 387.8a3.6 3.6 0 1 0 7.2 0a3.6 3.6 0 1 0 -7.2 0M730.6 376.4a3.6 3.6 0 1 0 7.2 0a3.6 3.6 0 1 0 -7.2 0M742.0 389.0a3.6 3.6 0 1 0 7.2 0a3.6 3.6 0 1 0 -7.2 0M734.0 394.7a3.6 3.6 0 1 0 7.2 0a3.6 3.6 0 1 0 -7.2 0M737.4 379.9a3.6 3.6 0 1 0 7.2 0a3.6 3.6 0 1 0 -7.2 0M722.6 362.8a3.6 3.6 0 1 0 7.2 0a3.6 3.6 0 1 0 -7.2 0M732.8 383.3a3.6 3.6 0 1 0 7.2 0a3.6 3.6 0 1 0 -7.2 0M738.5 374.2a3.6 3.6 0 1 0 7.2 0a3.6 3.6 0 1 0 -7.2 0" fill="#0000ff"/><path d="M1094.6 362.3 1031.2 319.4 1063.2 325.2 1016.5 275.2 999.8 286.1 997.3 281.0 995.3 272.0 979.3 257.9 969.1 259.8 968.4 245.1 960.7 241.9 966.5 236.1 973.6 231.6 975.5 223.9 1001.1 234.2 991.5 234.2 983.8 228.4 992.4 214.3 991.5 234.2 979.3 247.6 987.6 252.8 999.8 250.2 1002.4 257.9 1035.0 285.4 995.3 237.4 981.2 241.2 978.7 254.1 997.3 281.0 992.8 298.9 984.4 294.4 990.9 312.3 996.6 314.9 1002.4 325.2 996.6 310.4 1012.0 298.9 1014.6 288.6 1036.3 292.5 1046.6 297.0 1041.5 316.8 1046.6 311.1 1019.7 309.1 1006.9 305.3 1024.2 294.4 1031.2 319.4 1094.6 362.3 1031.2 319.4 1019.7 323.2 1013.3 324.5 1016.5 328.4 1026.1 332.2 1015.2 341.2 995.3 362.3 996.6 366.8 994.7 371.9 987.6 362.9 978.7 357.2 979.3 375.8 972.3 382.2 966.5 387.9 963.9 395.0 965.9 400.1 980.6 399.5 982.5 387.3 986.4 379.0 973.6 387.3 968.4 405.2 978.7 407.8 977.4 414.2 958.8 417.4 970.4 423.2 1019.7 450.1 964.6 439.8 959.5 444.3 956.3 443.0 953.7 446.2 947.3 446.9 945.4 452.6 965.2 412.9" fill="none" stroke="#ff0000" stroke-width="2.0"/><path d="M1002.7 307.0 1011.2 302.0 1024.1 294.9 1016.9 304.2 1006.3 305.6 1014.1 309.9 1019.8 309.1 1031.2 318.4" fill="none" stroke="#ff0000" stroke-width="2.0"/><path d="M960.6 242.0 968.5 246.3 977.0 249.8 982.7 246.3 989.8 242.7 985.6 239.9 979.9 237.7 972.0 239.9 965.6 244.1 974.2 254.1 981.3 252.7 986.3 249.8 991.2 244.1 984.1 232.7 973.5 231.3" fill="none" stroke="#ff0000" stroke-width="2.0"/><path d="M994.7 362.0 965.8 387.1 987.7 363.6 962.6 394.9 995.5 366.7 964.2 401.2 983.0 387.1 961.1 410.5 978.3 399.6 957.9 416.8 979.9 407.4 965.8 413.7 984.6 377.7 972.0 380.8 994.0 371.4 967.3 404.3 977.5 413.7 959.5 416.8" fill="none" stroke="#ff0000" stroke-width="2.0"/><path d="M1091.0 362.3a3.6 3.6 0 1 0 7.2 0a3.6 3.6 0 1 0 -7.2 0M1027.6 319.4a3.6 3.6 0 1 0 7.2 0a3.6 3.6 0 1 0 -7.2 0M1059.6 325.2a3.6 3.6 0 1 0 7.2 0a3.6 3.6 0 1 0 -7.2 0M1012.9 275.2a3.6 3.6 0 1 0 7.2 0a3.6 3.6 0 1 0 -7.2 0M996.2 286.1a3.6 3.6 0 1 0 7.2 0a3.6 3.6 0 1 0 -7.2 0M993.7 281.0a3.6 3.6 0 1 0 7.2 0a3.6 3.6 0 1 0 -7.2 0M991.7 272.0a3.6 3.6 0 1 0 7.2 0a3.6 3.6 0 1 0 -7.2 0M975.7 257.9a3.6 3.6 0 1 0 7.2 0a3.6 3.6 0 1 0 -7.2 0M965.5 259.8a3.6 3.6 0 1 0 7.2 0a3.6 3.6 0 1 0 -7.2 0M964.8 245.1a3.6 3.6 0 1 0 7.2 0a3.6 3.6 0 1 0 -7.2 0M957.1 241.9a3.6 3.6 0 1 0 7.2 0a3.6 3.6 0 1 0 -7.2 0M962.9 236.1a3.6 3.6 0 1 0 7.2 0a3.6 3.6 0 1 0 -7.2 0M970.0 231.6a3.6 3.6 0 1 0 7.2 0a3.6 3.6 0 1 0 -7.2 0M971.9 223.9a3.6 3.6 0 1 0 7.2 0a3.6 3.6 0 1 0 -7.2 0M997.5 234.2a3.6 3.6 0 1 0 7.2 0a3.6 3.6 0 1 0 -7.2 0M987.9 234.2a3.6 3.6 0 1 0 7.2 0a3.6 3.6 0 1 0 -7.2 0M980.2 228.4a3.6 3.6 0 1 0 7.2 0a3.6 3.6 0 1 0 -7.2 0M988.8 214.3a3.6 3.6 0 1 0 7.2 0a3.6 3.6 0 1 0 -7.2 0M987.9 234.2a3.6 3.6 0 1 0 7.2 0a3.6 3.6 0 1 0 -7.2 0M975.7 247.6a3.6 3.6 0 1 0 7.2 0a3.6 3.6 0 1 0 -7.2 0M984.0 252.8a3.6 3.6 0 1 0 7.2 0a3.6 3.6 0 1 0 -7.2 0M996.2 250.2a3.6 3.6 0 1 0 7.2 0a3.6 3.6 0 1 0 -7.2 0M998.8 257.9a3.6 3.6 0 1 0 7.2 0a3.6 3.6 0 1 0 -7.2 0M1031.4 285.4a3.6 3.6 0 1 0 7.2 0a3.6 3.6 0 1 0 -7.2 0M991.7 237.4a3.6 3.6 0 1 0 7.2 0a3.6 3.6 0 1 0 -7.2 0M977.6 241.2a3.6 3.6 0 1 0 7.2 0a3.6 3.6 0 1 0 -7.2 0M975.1 254.1a3.6 3.6 0 1 0 7.2 0a3.6 3.6 0 1 0 -7.2 0M993.7 281.0a3.6 3.6 0 1 0 7.2 0a3.6 3.6 0 1 0 -7.2 0M989.2 298.9a3.6 3.6 0 1 0 7.2 0a3.6 3.6 0 1 0 -7.2 0M980.8 294.4a3.6 3.6 0 1 0 7.2 0a3.6 3.6 0 1 0 -7.2 0M987.3 312.3a3.6 3.6 0 1 0 7.2 0a3.6 3.6 0 1 0 -7.2 0M993.0 314.9a3.6 3.6 0 1 0 7.2 0a3.6 3.6 0 1 0 -7.2 0M998.8 325.2a3.6 3.6 0 1 0 7.2 0a3.6 3.6 0 1 0 -7.2 0M993.0 310.4a3.6 3.6 0 1 0 7.2 0a3.6 3.6 0 1 0 -7.2 0M1008.4 298.9a3.6 3.6 0 1 0 7.2 0a3.6 3.6 0 1 0 -7.2 0M1011.0 288.6a3.6 3.6 0 1 0 7.2 0a3.6 3.6 0 1 0 -7.2 0M1032.7 292.5a3.6 3.6 0 1 0 7.2 0a3.6 3.6 0 1 0 -7.2 0M1043.0 297.0a3.6 3.6 0 1 0 7.2 0a3.6 3.6 0 1 0 -7.2 0M1037.9 316.8a3.6 3.6 0 1 0 7.2 0a3.6 3.6 0 1 0 -7.2 0M1043.0 311.1a3.6 3.6 0 1 0 7.2 0a3.6 3.6 0 1 0 -7.2 0M1016.1 309.1a3.6 3.6 0 1 0 7.2 0a3.6 3.6 0 1 0 -7.2 0M1003.3 305.3a3.6 3.6 0 1 0 7.2 0a3.6 3.6 0 1 0 -7.2 0M1020.6 294.4a3.6 3.6 0 1 0 7.2 0a3.6 3.6 0 1 0 -7.2 0M1027.6 319.4a3.6 3.6 0 1 0 7.2 0a3.6 3.6 0 1 0 -7.2 0M1091.0 362.3a3.6 3.6 0 1 0 7.2 0a3.6 3.6 0 1 0 -7.2 0M1027.6 319.4a3.6 3.6 0 1 0 7.2 0a3.6 3.6 0 1 0 -7.2 0M1016.1 323.2a3.6 3.6 0 1 0 7.2 0a3.6 3.6 0 1 0 -7.2 0M1009.7 324.5a3.6 3.6 0 1 0 7.2 0a3.6 3.6 0 1 0 -7.2 0M1012.9 328.4a3.6 3.6 0 1 0 7.2 0a3.6 3.6 0 1 0 -7.2 0M1022.5 332.2a3.6 3.6 0 1 0 7.2 0a3.6 3.6 0 1 0 -7.2 0M1011.6 341.2a3.6 3.6 0 1 0 7.2 0a3.6 3.6 0 1 0 -7.2 0M991.7 362.3a3.6 3.6 0 1 0 7.2 0a3.6 3.6 0 1 0 -7.2 0M993.0 366.8a3.6 3.6 0 1 0 7.2 0a3.6 3.6 0 1 0 -7.2 0M991.1 371.9a3.6 3.6 0 1 0 7.2 0a3.6 3.6 0 1 0 -7.2 0M984.0 362.9a3.6 3.6 0 1 0 7.2 0a3.6 3.6 0 1 0 -7.2 0M975.1 357.2a3.6 3.6 0 1 0 7.2 0a3.6 3.6 0 1 0 -7.2 0M975.7 375.8a3.6 3.6 0 1 0 7.2 0a3.6 3.6 0 1 0 -7.2 0M968.7 382.2a3.6 3.6 0 1 0 7.2 0a3.6 3.6 0 1 0 -7.2 0M962.9 387.9a3.6 3.6 0 1 0 7.2 0a3.6 3.6 0 1 0 -7.2 0M960.3 395.0a3.6 3.6 0 1 0 7.2 0a3.6 3.6 0 1 0 -7.2 0M962.3 400.1a3.6 3.6 0 1 0 7.2 0a3.6 3.6 0 1 0 -7.2 0M977.0 399.5a3.6 3.6 0 1 0 7.2 0a3.6 3.6 0 1 0 -7.2 0M978.9 387.3a3.6 3.6 0 1 0 7.2 0a3.6 3.6 0 1 0 -7.2 0M982.8 379.0a3.6 3.6 0 1 0 7.2 0a3.6 3.6 0 1 0 -7.2 0M970.0 387.3a3.6 3.6 0 1 0 7.2 0a3.6 3.6 0 1 0 -7.2 0M964.8 405.2a3.6 3.6 0 1 0 7.2 0a3.6 3.6 0 1 0 -7.2 0M975.1 407.8a3.6 3.6 0 1 0 7.2 0a3.6 3.6 0 1 0 -7.2 0M973.8 414.2a3.6 3.6 0 1 0 7.2 0a3.6 3.6 0 1 0 -7.2 0M955.2 417.4a3.6 3.6 0 1 0 7.2 0a3.6 3.6 0 1 0 -7.2 0M966.8 423.2a3.6 3.6 0 1 0 7.2 0a3.6 3.6 0 1 0 -7.2 0M1016.1 450.1a3.6 3.6 0 1 0 7.2 0a3.6 3.6 0 1 0 -7.2 0M961.0 439.8a3.6 3.6 0 1 0 7.2 0a3.6 3.6 0 1 0 -7.2 0M955.9 444.3a3.6 3.6 0 1 0 7.2 0a3.6 3.6 0 1 0 -7.2 0M952.7 443.0a3.6 3.6 0 1 0 7.2 0a3.6 3.6 0 1 0 -7.2 0M950.1 446.2a3.6 3.6 0 1 0 7.2 0a3.6 3.6 0 1 0 -7.2 0M943.7 446.9a3.6 3.6 0 1 0 7.2 0a3.6 3.6 0 1 0 -7.2 0M941.8 452.6a3.6 3.6 0 1 0 7.2 0a3.6 3.6 0 1 0 -7.2 0M961.6 412.9a3.6 3.6 0 1 0 7.2 0a3.6 3.6 0 1 0 -7.2 0M999.1 307.0a3.6 3.6 0 1 0 7.2 0a3.6 3.6 0 1 0 -7.2 0M1007.6 302.0a3.6 3.6 0 1 0 7.2 0a3.6 3.6 0 1 0 -7.2 0M1020.5 294.9a3.6 3.6 0 1 0 7.2 0a3.6 3.6 0 1 0 -7.2 0M1013.3 304.2a3.6 3.6 0 1 0 7.2 0a3.6 3.6 0 1 0 -7.2 0M1002.7 305.6a3.6 3.6 0 1 0 7.2 0a3.6 3.6 0 1 0 -7.2 0M1010.5 309.9a3.6 3.6 0 1 0 7.2 0a3.6 3.6 0 1 0 -7.2 0M1016.2 309.1a3.6 3.6 0 1 0 7.2 0a3.6 3.6 0 1 0 -7.2 0M1027.6 318.4a3.6 3.6 0 1 0 7.2 0a3.6 3.6 0 1 0 -7.2 0M957.0 242.0a3.6 3.6 0 1 0 7.2 0a3.6 3.6 0 1 0 -7.2 0M964.9 246.3a3.6 3.6 0 1 0 7.2 0a3.6 3.6 0 1 0 -7.2 0M973.4 249.8a3.6 3.6 0 1 0 7.2 0a3.6 3.6 0 1 0 -7.2 0M979.1 246.3a3.6 3.6 0 1 0 7.2 0a3.6 3.6 0 1 0 -7.2 0M986.2 242.7a3.6 3.6 0 1 0 7.2 0a3.6 3.6 0 1 0 -7.2 0M982.0 239.9a3.6 3.6 0 1 0 7.2 0a3.6 3.6 0 1 0 -7.2 0M976.3 237.7a3.6 3.6 0 1 0 7.2 0a3.6 3.6 0 1 0 -7.2 0M968.4 239.9a3.6 3.6 0 1 0 7.2 0a3.6 3.6 0 1 0 -7.2 0M962.0 244.1a3.6 3.6 0 1 0 7.2 0a3.6 3.6 0 1 0 -7.2 0M970.6 254.1a3.6 3.6 0 1 0 7.2 0a3.6 3.6 0 1 0 -7.2 0M977.7 252.7a3.6 3.6 0 1 0 7.2 0a3.6 3.6 0 1 0 -7.2 0M982.7 249.8a3.6 3.6 0 1 0 7.2 0a3.6 3.6 0 1 0 -7.2 0M987.6 244.1a3.6 3.6 0 1 0 7.2 0a3.6 3.6 0 1 0 -7.2 0M980.5 232.7a3.6 3.6 0 1 0 7.2 0a3.6 3.6 0 1 0 -7.2 0M969.9 231.3a3.6 3.6 0 1 0 7.2 0a3.6 3.6 0 1 0 -7.2 0M991.1 362.0a3.6 3.6 0 1 0 7.2 0a3.6 3.6 0 1 0 -7.2 0M962.2 387.1a3.6 3.6 0 1 0 7.2 0a3.6 3.6 0 1 0 -7.2 0M984.1 363.6a3.6 3.6 0 1 0 7.2 0a3.6 3.6 0 1 0 -7.2 0M959.0 394.9a3.6 3.6 0 1 0 7.2 0a3.6 3.6 0 1 0 -7.2 0M991.9 366.7a3.6 3.6 0 1 0 7.2 0a3.6 3.6 0 1 0 -7.2 0M960.6 401.2a3.6 3.6 0 1 0 7.2 0a3.6 3.6 0 1 0 -7.2 0M979.4 387.1a3.6 3.6 0 1 0 7.2 0a3.6 3.6 0 1 0 -7.2 0M957.5 410.5a3.6 3.6 0 1 0 7.2 0a3.6 3.6 0 1 0 -7.2 0M974.7 399.6a3.6 3.6 0 1 0 7.2 0a3.6 3.6 0 1 0 -7.2 0M954.3 416.8a3.6 3.6 0 1 0 7.2 0a3.6 3.6 0 1 0 -7.2 0M976.3 407.4a3.6 3.6 0 1 0 7.2 0a3.6 3.6 0 1 0 -7.2 0M962.2 413.7a3.6 3.6 0 1 0 7.2 0a3.6 3.6 0 1 0 -7.2 0M981.0 377.7a3.6 3.6 0 1 0 7.2 0a3.6 3.6 0 1 0 -7.2 0M968.4 380.8a3.6 3.6 0 1 0 7.2 0a3.6 3.6 0 1 0 -7.2 0M990.4 371.4a3.6 3.6 0 1 0 7.2 0a3.6 3.6 0 1 0 -7.2 0M963.7 404.3a3.6 3.6 0 1 0 7.2 0a3.6 3.6 0 1 0 -7.2 0M973.9 413.7a3.6 3.6 0 1 0 7.2 0a3.6 3.6 0 1 0 -7.2 0M955.9 416.8a3.6 3.6 0 1 0 7.2 0a3.6 3.6 0 1 0 -7.2 0" fill="#ff0000"/><path d="M1541.7 473.0 1532.5 485.1 1553.8 485.1 1525.3 487.9 1551.0 490.7 1518.2 496.4 1548.1 493.6 1531.0 502.1 1539.6 482.2 1538.1 496.4" fill="none" stroke="#0000ff" stroke-width="2.0"/><path d="M1538.1 473.0a3.6 3.6 0 1 0 7.2 0a3.6 3.6 0 1 0 -7.2 0M1528.9 485.1a3.6 3.6 0 1 0 7.2 0a3.6 3.6 0 1 0 -7.2 0M1550.2 485.1a3.6 3.6 0 1 0 7.2 0a3.6 3.6 0 1 0 -7.2 0M1521.7 487.9a3.6 3.6 0 1 0 7.2 0a3.6 3.6 0 1 0 -7.2 0M1547.4 490.7a3.6 3.6 0 1 0 7.2 0a3.6 3.6 0 1 0 -7.2 0M1514.6 496.4a3.6 3.6 0 1 0 7.2 0a3.6 3.6 0 1 0 -7.2 0M1544.5 493.6a3.6 3.6 0 1 0 7.2 0a3.6 3.6 0 1 0 -7.2 0M1527.4 502.1a3.6 3.6 0 1 0 7.2 0a3.6 3.6 0 1 0 -7.2 0M1536.0 482.2a3.6 3.6 0 1 0 7.2 0a3.6 3.6 0 1 0 -7.2 0M1534.5 496.4a3.6 3.6 0 1 0 7.2 0a3.6 3.6 0 1 0 -7.2 0" fill="#0000ff"/><path d="M1403.5 201.4 1396.4 212.6 1384.6 232.3 1367.7 245.9 1373.3 225.0 1370.5 220.5 1351.9 226.2 1357.5 229.5 1348.5 232.9 1342.9 237.4 1330.0 252.6 1353.0 250.4 1357.5 249.8 1350.8 267.8 1340.1 281.3 1367.7 245.9 1384.0 221.7 1403.5 201.4 1386.8 219.4 1359.8 247.5 1359.2 270.1 1362.0 276.3 1353.0 283.0 1336.2 296.5 1332.8 292.6 1327.7 292.0 1332.2 313.4 1331.1 327.5 1336.7 327.5 1339.5 311.7 1352.5 282.4 1357.0 291.4 1355.3 299.3 1350.8 303.3 1358.7 309.5 1376.7 285.3 1378.9 291.4 1375.0 296.0 1359.8 301.6 1372.7 317.3 1379.5 317.3 1388.5 311.1 1378.9 315.1 1375.0 296.0 1359.8 302.7 1352.5 309.5 1338.4 311.1 1350.8 307.2 1327.7 364.6 1325.5 370.3 1329.4 382.6 1336.7 379.3 1347.4 370.8 1355.3 373.1 1363.2 369.7 1369.4 346.6 1367.7 335.4 1363.7 328.0 1361.5 321.8 1357.5 326.3 1353.0 326.3 1351.4 310.6 1328.3 364.6 1330.5 387.1 1342.9 384.9 1350.8 379.3 1335.0 396.7 1326.0 399.0 1327.1 407.4 1335.0 411.9 1341.8 398.4 1350.8 398.4 1334.5 418.7 1321.0 432.2 1329.4 428.8 1341.8 426.0 1346.3 422.0 1354.2 420.9 1356.4 428.2 1346.9 440.0 1336.2 464.8 1342.9 426.5 1348.5 426.5 1354.7 456.9 1360.4 463.1 1349.7 460.3 1333.9 467.1 1335.6 473.8" fill="none" stroke="#ff0000" stroke-width="2.0"/><path d="M1351.7 227.9 1359.4 229.8 1349.2 236.9 1356.9 239.4 1347.9 243.3 1359.4 247.1 1351.7 249.7 1362.0 242.0 1355.6 231.7 1369.7 242.0" fill="none" stroke="#ff0000" stroke-width="2.0"/><path d="M1330.0 384.2 1336.4 377.8 1331.2 390.6 1344.1 388.0 1326.1 397.0 1335.1 397.0 1341.5 398.3 1327.4 407.2 1333.8 411.1 1336.4 403.4" fill="none" stroke="#ff0000" stroke-width="2.0"/><path d="M1335.1 464.9 1354.3 458.5 1359.4 463.6 1336.4 472.6 1351.7 462.3 1335.1 467.5" fill="none" stroke="#ff0000" stroke-width="2.0"/><path d="M1399.9 201.4a3.6 3.6 0 1 0 7.2 0a3.6 3.6 0 1 0 -7.2 0M1392.8 212.6a3.6 3.6 0 1 0 7.2 0a3.6 3.6 0 1 0 -7.2 0M1381.0 232.3a3.6 3.6 0 1 0 7.2 0a3.6 3.6 0 1 0 -7.2 0M1364.1 245.9a3.6 3.6 0 1 0 7.2 0a3.6 3.6 0 1 0 -7.2 0M1369.7 225.0a3.6 3.6 0 1 0 7.2 0a3.6 3.6 0 1 0 -7.2 0M1366.9 220.5a3.6 3.6 0 1 0 7.2 0a3.6 3.6 0 1 0 -7.2 0M1348.3 226.2a3.6 3.6 0 1 0 7.2 0a3.6 3.6 0 1 0 -7.2 0M1353.9 229.5a3.6 3.6 0 1 0 7.2 0a3.6 3.6 0 1 0 -7.2 0M1344.9 232.9a3.6 3.6 0 1 0 7.2 0a3.6 3.6 0 1 0 -7.2 0M1339.3 237.4a3.6 3.6 0 1 0 7.2 0a3.6 3.6 0 1 0 -7.2 0M1326.4 252.6a3.6 3.6 0 1 0 7.2 0a3.6 3.6 0 1 0 -7.2 0M1349.4 250.4a3.6 3.6 0 1 0 7.2 0a3.6 3.6 0 1 0 -7.2 0M1353.9 249.8a3.6 3.6 0 1 0 7.2 0a3.6 3.6 0 1 0 -7.2 0M1347.2 267.8a3.6 3.6 0 1 0 7.2 0a3.6 3.6 0 1 0 -7.2 0M1336.5 281.3a3.6 3.6 0 1 0 7.2 0a3.6 3.6 0 1 0 -7.2 0M1364.1 245.9a3.6 3.6 0 1 0 7.2 0a3.6 3.6 0 1 0 -7.2 0M1380.4 221.7a3.6 3.6 0 1 0 7.2 0a3.6 3.6 0 1 0 -7.2 0M1399.9 201.4a3.6 3.6 0 1 0 7.2 0a3.6 3.6 0 1 0 -7.2 0M1383.2 219.4a3.6 3.6 0 1 0 7.2 0a3.6 3.6 0 1 0 -7.2 0M1356.2 247.5a3.6 3.6 0 1 0 7.2 0a3.6 3.6 0 1 0 -7.2 0M1355.6 270.1a3.6 3.6 0 1 0 7.2 0a3.6 3.6 0 1 0 -7.2 0M1358.4 276.3a3.6 3.6 0 1 0 7.2 0a3.6 3.6 0 1 0 -7.2 0M1349.4 283.0a3.6 3.6 0 1 0 7.2 0a3.6 3.6 0 1 0 -7.2 0M1332.6 296.5a3.6 3.6 0 1 0 7.2 0a3.6 3.6 0 1 0 -7.2 0M1329.2 292.6a3.6 3.6 0 1 0 7.2 0a3.6 3.6 0 1 0 -7.2 0M1324.1 292.0a3.6 3.6 0 1 0 7.2 0a3.6 3.6 0 1 0 -7.2 0M1328.6 313.4a3.6 3.6 0 1 0 7.2 0a3.6 3.6 0 1 0 -7.2 0M1327.5 327.5a3.6 3.6 0 1 0 7.2 0a3.6 3.6 0 1 0 -7.2 0M1333.1 327.5a3.6 3.6 0 1 0 7.2 0a3.6 3.6 0 1 0 -7.2 0M1335.9 311.7a3.6 3.6 0 1 0 7.2 0a3.6 3.6 0 1 0 -7.2 0M1348.9 282.4a3.6 3.6 0 1 0 7.2 0a3.6 3.6 0 1 0 -7.2 0M1353.4 291.4a3.6 3.6 0 1 0 7.2 0a3.6 3.6 0 1 0 -7.2 0M1351.7 299.3a3.6 3.6 0 1 0 7.2 0a3.6 3.6 0 1 0 -7.2 0M1347.2 303.3a3.6 3.6 0 1 0 7.2 0a3.6 3.6 0 1 0 -7.2 0M1355.1 309.5a3.6 3.6 0 1 0 7.2 0a3.6 3.6 0 1 0 -7.2 0M1373.1 285.3a3.6 3.6 0 1 0 7.2 0a3.6 3.6 0 1 0 -7.2 0M1375.3 291.4a3.6 3.6 0 1 0 7.2 0a3.6 3.6 0 1 0 -7.2 0M1371.4 296.0a3.6 3.6 0 1 0 7.2 0a3.6 3.6 0 1 0 -7.2 0M1356.2 301.6a3.6 3.6 0 1 0 7.2 0a3.6 3.6 0 1 0 -7.2 0M1369.1 317.3a3.6 3.6 0 1 0 7.2 0a3.6 3.6 0 1 0 -7.2 0M1375.9 317.3a3.6 3.6 0 1 0 7.2 0a3.6 3.6 0 1 0 -7.2 0M1384.9 311.1a3.6 3.6 0 1 0 7.2 0a3.6 3.6 0 1 0 -7.2 0M1375.3 315.1a3.6 3.6 0 1 0 7.2 0a3.6 3.6 0 1 0 -7.2 0M1371.4 296.0a3.6 3.6 0 1 0 7.2 0a3.6 3.6 0 1 0 -7.2 0M1356.2 302.7a3.6 3.6 0 1 0 7.2 0a3.6 3.6 0 1 0 -7.2 0M1348.9 309.5a3.6 3.6 0 1 0 7.2 0a3.6 3.6 0 1 0 -7.2 0M1334.8 311.1a3.6 3.6 0 1 0 7.2 0a3.6 3.6 0 1 0 -7.2 0M1347.2 307.2a3.6 3.6 0 1 0 7.2 0a3.6 3.6 0 1 0 -7.2 0M1324.1 364.6a3.6 3.6 0 1 0 7.2 0a3.6 3.6 0 1 0 -7.2 0M1321.9 370.3a3.6 3.6 0 1 0 7.2 0a3.6 3.6 0 1 0 -7.2 0M1325.8 382.6a3.6 3.6 0 1 0 7.2 0a3.6 3.6 0 1 0 -7.2 0M1333.1 379.3a3.6 3.6 0 1 0 7.2 0a3.6 3.6 0 1 0 -7.2 0M1343.8 370.8a3.6 3.6 0 1 0 7.2 0a3.6 3.6 0 1 0 -7.2 0M1351.7 373.1a3.6 3.6 0 1 0 7.2 0a3.6 3.6 0 1 0 -7.2 0M1359.6 369.7a3.6 3.6 0 1 0 7.2 0a3.6 3.6 0 1 0 -7.2 0M1365.8 346.6a3.6 3.6 0 1 0 7.2 0a3.6 3.6 0 1 0 -7.2 0M1364.1 335.4a3.6 3.6 0 1 0 7.2 0a3.6 3.6 0 1 0 -7.2 0M1360.1 328.0a3.6 3.6 0 1 0 7.2 0a3.6 3.6 0 1 0 -7.2 0M1357.9 321.8a3.6 3.6 0 1 0 7.2 0a3.6 3.6 0 1 0 -7.2 0M1353.9 326.3a3.6 3.6 0 1 0 7.2 0a3.6 3.6 0 1 0 -7.2 0M1349.4 326.3a3.6 3.6 0 1 0 7.2 0a3.6 3.6 0 1 0 -7.2 0M1347.8 310.6a3.6 3.6 0 1 0 7.2 0a3.6 3.6 0 1 0 -7.2 0M1324.7 364.6a3.6 3.6 0 1 0 7.2 0a3.6 3.6 0 1 0 -7.2 0M1326.9 387.1a3.6 3.6 0 1 0 7.2 0a3.6 3.6 0 1 0 -7.2 0M1339.3 384.9a3.6 3.6 0 1 0 7.2 0a3.6 3.6 0 1 0 -7.2 0M1347.2 379.3a3.6 3.6 0 1 0 7.2 0a3.6 3.6 0 1 0 -7.2 0M1331.4 396.7a3.6 3.6 0 1 0 7.2 0a3.6 3.6 0 1 0 -7.2 0M1322.4 399.0a3.6 3.6 0 1 0 7.2 0a3.6 3.6 0 1 0 -7.2 0M1323.5 407.4a3.6 3.6 0 1 0 7.2 0a3.6 3.6 0 1 0 -7.2 0M1331.4 411.9a3.6 3.6 0 1 0 7.2 0a3.6 3.6 0 1 0 -7.2 0M1338.2 398.4a3.6 3.6 0 1 0 7.2 0a3.6 3.6 0 1 0 -7.2 0M1347.2 398.4a3.6 3.6 0 1 0 7.2 0a3.6 3.6 0 1 0 -7.2 0M1330.9 418.7a3.6 3.6 0 1 0 7.2 0a3.6 3.6 0 1 0 -7.2 0M1317.4 432.2a3.6 3.6 0 1 0 7.2 0a3.6 3.6 0 1 0 -7.2 0M1325.8 428.8a3.6 3.6 0 1 0 7.2 0a3.6 3.6 0 1 0 -7.2 0M1338.2 426.0a3.6 3.6 0 1 0 7.2 0a3.6 3.6 0 1 0 -7.2 0M1342.7 422.0a3.6 3.6 0 1 0 7.2 0a3.6 3.6 0 1 0 -7.2 0M1350.6 420.9a3.6 3.6 0 1 0 7.2 0a3.6 3.6 0 1 0 -7.2 0M1352.8 428.2a3.6 3.6 0 1 0 7.2 0a3.6 3.6 0 1 0 -7.2 0M1343.3 440.0a3.6 3.6 0 1 0 7.2 0a3.6 3.6 0 1 0 -7.2 0M1332.6 464.8a3.6 3.6 0 1 0 7.2 0a3.6 3.6 0 1 0 -7.2 0M1339.3 426.5a3.6 3.6 0 1 0 7.2 0a3.6 3.6 0 1 0 -7.2 0M1344.9 426.5a3.6 3.6 0 1 0 7.2 0a3.6 3.6 0 1 0 -7.2 0M1351.1 456.9a3.6 3.6 0 1 0 7.2 0a3.6 3.6 0 1 0 -7.2 0M1356.8 463.1a3.6 3.6 0 1 0 7.2 0a3.6 3.6 0 1 0 -7.2 0M1346.1 460.3a3.6 3.6 0 1 0 7.2 0a3.6 3.6 0 1 0 -7.2 0M1330.3 467.1a3.6 3.6 0 1 0 7.2 0a3.6 3.6 0 1 0 -7.2 0M1332.0 473.8a3.6 3.6 0 1 0 7.2 0a3.6 3.6 0 1 0 -7.2 0M1348.1 227.9a3.6 3.6 0 1 0 7.2 0a3.6 3.6 0 1 0 -7.2 0M1355.8 229.8a3.6 3.6 0 1 0 7.2 0a3.6 3.6 0 1 0 -7.2 0M1345.6 236.9a3.6 3.6 0 1 0 7.2 0a3.6 3.6 0 1 0 -7.2 0M1353.3 239.4a3.6 3.6 0 1 0 7.2 0a3.6 3.6 0 1 0 -7.2 0M1344.3 243.3a3.6 3.6 0 1 0 7.2 0a3.6 3.6 0 1 0 -7.2 0M1355.8 247.1a3.6 3.6 0 1 0 7.2 0a3.6 3.6 0 1 0 -7.2 0M1348.1 249.7a3.6 3.6 0 1 0 7.2 0a3.6 3.6 0 1 0 -7.2 0M1358.4 242.0a3.6 3.6 0 1 0 7.2 0a3.6 3.6 0 1 0 -7.2 0M1352.0 231.7a3.6 3.6 0 1 0 7.2 0a3.6 3.6 0 1 0 -7.2 0M1366.1 242.0a3.6 3.6 0 1 0 7.2 0a3.6 3.6 0 1 0 -7.2 0M1326.4 384.2a3.6 3.6 0 1 0 7.2 0a3.6 3.6 0 1 0 -7.2 0M1332.8 377.8a3.6 3.6 0 1 0 7.2 0a3.6 3.6 0 1 0 -7.2 0M1327.6 390.6a3.6 3.6 0 1 0 7.2 0a3.6 3.6 0 1 0 -7.2 0M1340.5 388.0a3.6 3.6 0 1 0 7.2 0a3.6 3.6 0 1 0 -7.2 0M1322.5 397.0a3.6 3.6 0 1 0 7.2 0a3.6 3.6 0 1 0 -7.2 0M1331.5 397.0a3.6 3.6 0 1 0 7.2 0a3.6 3.6 0 1 0 -7.2 0M1337.9 398.3a3.6 3.6 0 1 0 7.2 0a3.6 3.6 0 1 0 -7.2 0M1323.8 407.2a3.6 3.6 0 1 0 7.2 0a3.6 3.6 0 1 0 -7.2 0M1330.2 411.1a3.6 3.6 0 1 0 7.2 0a3.6 3.6 0 1 0 -7.2 0M1332.8 403.4a3.6 3.6 0 1 0 7.2 0a3.6 3.6 0 1 0 -7.2 0M1331.5 464.9a3.6 3.6 0 1 0 7.2 0a3.6 3.6 0 1 0 -7.2 0M1350.7 458.5a3.6 3.6 0 1 0 7.2 0a3.6 3.6 0 1 0 -7.2 0M1355.8 463.6a3.6 3.6 0 1 0 7.2 0a3.6 3.6 0 1 0 -7.2 0M1332.8 472.6a3.6 3.6 0 1 0 7.2 0a3.6 3.6 0 1 0 -7.2 0M1348.1 462.3a3.6 3.6 0 1 0 7.2 0a3.6 3.6 0 1 0 -7.2 0M1331.5 467.5a3.6 3.6 0 1 0 7.2 0a3.6 3.6 0 1 0 -7.2 0" fill="#ff0000"/><path d="M1496.3 190.7 1489.3 169.6 1490.0 161.7 1491.9 158.4 1489.3 154.4 1506.5 145.6 1506.5 157.1 1507.8 160.4 1529.6 216.5 1525.6 218.4 1523.6 225.7 1517.7 231.6 1524.3 219.8 1516.4 214.5 1514.4 186.1 1496.3 190.7 1514.4 186.1 1529.6 216.5 1534.8 231.6 1526.3 234.9 1543.4 248.8 1546.7 252.8 1558.6 255.4 1559.9 269.3 1553.3 267.3 1546.7 269.9 1545.4 263.3 1535.5 281.1 1527.6 296.3 1528.2 300.3 1545.4 263.3 1539.5 222.4 1549.4 208.5 1539.5 222.4 1546.7 269.9 1552.7 283.1 1557.3 283.8 1559.9 291.0 1563.2 309.5 1557.3 283.8 1549.4 295.0 1528.2 299.0 1529.6 306.2 1518.3 332.6 1509.8 335.3 1510.4 349.1 1520.3 350.4 1524.3 358.4 1520.3 350.4 1498.5 368.9 1515.0 362.3 1532.2 385.4 1541.4 396.6 1528.2 411.2 1530.9 419.7 1521.6 442.2 1540.1 416.4 1565.2 387.4 1562.6 401.3 1559.3 409.2 1544.1 427.0 1540.1 441.5 1542.0 473.1 1538.6 482.3 1528.3 487.4 1551.1 491.4 1554.0 484.5 1576.2 458.3 1542.0 473.1 1538.6 495.9 1517.5 496.5 1494.7 499.3 1510.1 491.4 1522.1 473.1 1510.1 491.4 1507.3 495.4 1511.3 501.0 1495.3 508.5 1479.4 496.5 1495.3 508.5 1476.5 507.3 1495.3 508.5 1516.4 510.2 1532.9 503.9 1542.6 503.3 1548.8 499.3 1525.5 499.3 1551.1 491.4" fill="none" stroke="#0000ff" stroke-width="2.0"/><path d="M1474.1 368.9 1493.3 384.1 1474.1 368.9 1505.1 385.4 1520.3 396.6 1525.6 397.3 1495.2 396.6 1535.5 376.2 1553.3 368.3 1556.0 375.5 1551.3 380.1 1532.2 392.7 1518.3 392.7 1514.4 394.0 1514.4 378.8 1532.2 387.4 1461.6 383.4 1493.3 384.1 1461.6 383.4 1501.2 404.6 1525.6 397.3" fill="none" stroke="#0000ff" stroke-width="2.0"/><path d="M1492.7 190.7a3.6 3.6 0 1 0 7.2 0a3.6 3.6 0 1 0 -7.2 0M1485.7 169.6a3.6 3.6 0 1 0 7.2 0a3.6 3.6 0 1 0 -7.2 0M1486.4 161.7a3.6 3.6 0 1 0 7.2 0a3.6 3.6 0 1 0 -7.2 0M1488.3 158.4a3.6 3.6 0 1 0 7.2 0a3.6 3.6 0 1 0 -7.2 0M1485.7 154.4a3.6 3.6 0 1 0 7.2 0a3.6 3.6 0 1 0 -7.2 0M1502.9 145.6a3.6 3.6 0 1 0 7.2 0a3.6 3.6 0 1 0 -7.2 0M1502.9 157.1a3.6 3.6 0 1 0 7.2 0a3.6 3.6 0 1 0 -7.2 0M1504.2 160.4a3.6 3.6 0 1 0 7.2 0a3.6 3.6 0 1 0 -7.2 0M1526.0 216.5a3.6 3.6 0 1 0 7.2 0a3.6 3.6 0 1 0 -7.2 0M1522.0 218.4a3.6 3.6 0 1 0 7.2 0a3.6 3.6 0 1 0 -7.2 0M1520.0 225.7a3.6 3.6 0 1 0 7.2 0a3.6 3.6 0 1 0 -7.2 0M1514.1 231.6a3.6 3.6 0 1 0 7.2 0a3.6 3.6 0 1 0 -7.2 0M1520.7 219.8a3.6 3.6 0 1 0 7.2 0a3.6 3.6 0 1 0 -7.2 0M1512.8 214.5a3.6 3.6 0 1 0 7.2 0a3.6 3.6 0 1 0 -7.2 0M1510.8 186.1a3.6 3.6 0 1 0 7.2 0a3.6 3.6 0 1 0 -7.2 0M1492.7 190.7a3.6 3.6 0 1 0 7.2 0a3.6 3.6 0 1 0 -7.2 0M1510.8 186.1a3.6 3.6 0 1 0 7.2 0a3.6 3.6 0 1 0 -7.2 0M1526.0 216.5a3.6 3.6 0 1 0 7.2 0a3.6 3.6 0 1 0 -7.2 0M1531.2 231.6a3.6 3.6 0 1 0 7.2 0a3.6 3.6 0 1 0 -7.2 0M1522.7 234.9a3.6 3.6 0 1 0 7.2 0a3.6 3.6 0 1 0 -7.2 0M1539.8 248.8a3.6 3.6 0 1 0 7.2 0a3.6 3.6 0 1 0 -7.2 0M1543.1 252.8a3.6 3.6 0 1 0 7.2 0a3.6 3.6 0 1 0 -7.2 0M1555.0 255.4a3.6 3.6 0 1 0 7.2 0a3.6 3.6 0 1 0 -7.2 0M1556.3 269.3a3.6 3.6 0 1 0 7.2 0a3.6 3.6 0 1 0 -7.2 0M1549.7 267.3a3.6 3.6 0 1 0 7.2 0a3.6 3.6 0 1 0 -7.2 0M1543.1 269.9a3.6 3.6 0 1 0 7.2 0a3.6 3.6 0 1 0 -7.2 0M1541.8 263.3a3.6 3.6 0 1 0 7.2 0a3.6 3.6 0 1 0 -7.2 0M1531.9 281.1a3.6 3.6 0 1 0 7.2 0a3.6 3.6 0 1 0 -7.2 0M1524.0 296.3a3.6 3.6 0 1 0 7.2 0a3.6 3.6 0 1 0 -7.2 0M1524.6 300.3a3.6 3.6 0 1 0 7.2 0a3.6 3.6 0 1 0 -7.2 0M1541.8 263.3a3.6 3.6 0 1 0 7.2 0a3.6 3.6 0 1 0 -7.2 0M1535.9 222.4a3.6 3.6 0 1 0 7.2 0a3.6 3.6 0 1 0 -7.2 0M1545.8 208.5a3.6 3.6 0 1 0 7.2 0a3.6 3.6 0 1 0 -7.2 0M1535.9 222.4a3.6 3.6 0 1 0 7.2 0a3.6 3.6 0 1 0 -7.2 0M1543.1 269.9a3.6 3.6 0 1 0 7.2 0a3.6 3.6 0 1 0 -7.2 0M1549.1 283.1a3.6 3.6 0 1 0 7.2 0a3.6 3.6 0 1 0 -7.2 0M1553.7 283.8a3.6 3.6 0 1 0 7.2 0a3.6 3.6 0 1 0 -7.2 0M1556.3 291.0a3.6 3.6 0 1 0 7.2 0a3.6 3.6 0 1 0 -7.2 0M1559.6 309.5a3.6 3.6 0 1 0 7.2 0a3.6 3.6 0 1 0 -7.2 0M1553.7 283.8a3.6 3.6 0 1 0 7.2 0a3.6 3.6 0 1 0 -7.2 0M1545.8 295.0a3.6 3.6 0 1 0 7.2 0a3.6 3.6 0 1 0 -7.2 0M1524.6 299.0a3.6 3.6 0 1 0 7.2 0a3.6 3.6 0 1 0 -7.2 0M1526.0 306.2a3.6 3.6 0 1 0 7.2 0a3.6 3.6 0 1 0 -7.2 0M1514.7 332.6a3.6 3.6 0 1 0 7.2 0a3.6 3.6 0 1 0 -7.2 0M1506.2 335.3a3.6 3.6 0 1 0 7.2 0a3.6 3.6 0 1 0 -7.2 0M1506.8 349.1a3.6 3.6 0 1 0 7.2 0a3.6 3.6 0 1 0 -7.2 0M1516.7 350.4a3.6 3.6 0 1 0 7.2 0a3.6 3.6 0 1 0 -7.2 0M1520.7 358.4a3.6 3.6 0 1 0 7.2 0a3.6 3.6 0 1 0 -7.2 0M1516.7 350.4a3.6 3.6 0 1 0 7.2 0a3.6 3.6 0 1 0 -7.2 0M1494.9 368.9a3.6 3.6 0 1 0 7.2 0a3.6 3.6 0 1 0 -7.2 0M1511.4 362.3a3.6 3.6 0 1 0 7.2 0a3.6 3.6 0 1 0 -7.2 0M1528.6 385.4a3.6 3.6 0 1 0 7.2 0a3.6 3.6 0 1 0 -7.2 0M1537.8 396.6a3.6 3.6 0 1 0 7.2 0a3.6 3.6 0 1 0 -7.2 0M1524.6 411.2a3.6 3.6 0 1 0 7.2 0a3.6 3.6 0 1 0 -7.2 0M1527.3 419.7a3.6 3.6 0 1 0 7.2 0a3.6 3.6 0 1 0 -7.2 0M1518.0 442.2a3.6 3.6 0 1 0 7.2 0a3.6 3.6 0 1 0 -7.2 0M1536.5 416.4a3.6 3.6 0 1 0 7.2 0a3.6 3.6 0 1 0 -7.2 0M1561.6 387.4a3.6 3.6 0 1 0 7.2 0a3.6 3.6 0 1 0 -7.2 0M1559.0 401.3a3.6 3.6 0 1 0 7.2 0a3.6 3.6 0 1 0 -7.2 0M1555.7 409.2a3.6 3.6 0 1 0 7.2 0a3.6 3.6 0 1 0 -7.2 0M1540.5 427.0a3.6 3.6 0 1 0 7.2 0a3.6 3.6 0 1 0 -7.2 0M1536.5 441.5a3.6 3.6 0 1 0 7.2 0a3.6 3.6 0 1 0 -7.2 0M1538.4 473.1a3.6 3.6 0 1 0 7.2 0a3.6 3.6 0 1 0 -7.2 0M1535.0 482.3a3.6 3.6 0 1 0 7.2 0a3.6 3.6 0 1 0 -7.2 0M1524.7 487.4a3.6 3.6 0 1 0 7.2 0a3.6 3.6 0 1 0 -7.2 0M1547.5 491.4a3.6 3.6 0 1 0 7.2 0a3.6 3.6 0 1 0 -7.2 0M1550.4 484.5a3.6 3.6 0 1 0 7.2 0a3.6 3.6 0 1 0 -7.2 0M1572.6 458.3a3.6 3.6 0 1 0 7.2 0a3.6 3.6 0 1 0 -7.2 0M1538.4 473.1a3.6 3.6 0 1 0 7.2 0a3.6 3.6 0 1 0 -7.2 0M1535.0 495.9a3.6 3.6 0 1 0 7.2 0a3.6 3.6 0 1 0 -7.2 0M1513.9 496.5a3.6 3.6 0 1 0 7.2 0a3.6 3.6 0 1 0 -7.2 0M1491.1 499.3a3.6 3.6 0 1 0 7.2 0a3.6 3.6 0 1 0 -7.2 0M1506.5 491.4a3.6 3.6 0 1 0 7.2 0a3.6 3.6 0 1 0 -7.2 0M1518.5 473.1a3.6 3.6 0 1 0 7.2 0a3.6 3.6 0 1 0 -7.2 0M1506.5 491.4a3.6 3.6 0 1 0 7.2 0a3.6 3.6 0 1 0 -7.2 0M1503.7 495.4a3.6 3.6 0 1 0 7.2 0a3.6 3.6 0 1 0 -7.2 0M1507.7 501.0a3.6 3.6 0 1 0 7.2 0a3.6 3.6 0 1 0 -7.2 0M1491.7 508.5a3.6 3.6 0 1 0 7.2 0a3.6 3.6 0 1 0 -7.2 0M1475.8 496.5a3.6 3.6 0 1 0 7.2 0a3.6 3.6 0 1 0 -7.2 0M1491.7 508.5a3.6 3.6 0 1 0 7.2 0a3.6 3.6 0 1 0 -7.2 0M1472.9 507.3a3.6 3.6 0 1 0 7.2 0a3.6 3.6 0 1 0 -7.2 0M1491.7 508.5a3.6 3.6 0 1 0 7.2 0a3.6 3.6 0 1 0 -7.2 0M1512.8 510.2a3.6 3.6 0 1 0 7.2 0a3.6 3.6 0 1 0 -7.2 0M1529.3 503.9a3.6 3.6 0 1 0 7.2 0a3.6 3.6 0 1 0 -7.2 0M1539.0 503.3a3.6 3.6 0 1 0 7.2 0a3.6 3.6 0 1 0 -7.2 0M1545.2 499.3a3.6 3.6 0 1 0 7.2 0a3.6 3.6 0 1 0 -7.2 0M1521.9 499.3a3.6 3.6 0 1 0 7.2 0a3.6 3.6 0 1 0 -7.2 0M1547.5 491.4a3.6 3.6 0 1 0 7.2 0a3.6 3.6 0 1 0 -7.2 0M1470.5 368.9a3.6 3.6 0 1 0 7.2 0a3.6 3.6 0 1 0 -7.2 0M1489.7 384.1a3.6 3.6 0 1 0 7.2 0a3.6 3.6 0 1 0 -7.2 0M1470.5 368.9a3.6 3.6 0 1 0 7.2 0a3.6 3.6 0 1 0 -7.2 0M1501.5 385.4a3.6 3.6 0 1 0 7.2 0a3.6 3.6 0 1 0 -7.2 0M1516.7 396.6a3.6 3.6 0 1 0 7.2 0a3.6 3.6 0 1 0 -7.2 0M1522.0 397.3a3.6 3.6 0 1 0 7.2 0a3.6 3.6 0 1 0 -7.2 0M1491.6 396.6a3.6 3.6 0 1 0 7.2 0a3.6 3.6 0 1 0 -7.2 0M1531.9 376.2a3.6 3.6 0 1 0 7.2 0a3.6 3.6 0 1 0 -7.2 0M1549.7 368.3a3.6 3.6 0 1 0 7.2 0a3.6 3.6 0 1 0 -7.2 0M1552.4 375.5a3.6 3.6 0 1 0 7.2 0a3.6 3.6 0 1 0 -7.2 0M1547.7 380.1a3.6 3.6 0 1 0 7.2 0a3.6 3.6 0 1 0 -7.2 0M1528.6 392.7a3.6 3.6 0 1 0 7.2 0a3.6 3.6 0 1 0 -7.2 0M1514.7 392.7a3.6 3.6 0 1 0 7.2 0a3.6 3.6 0 1 0 -7.2 0M1510.8 394.0a3.6 3.6 0 1 0 7.2 0a3.6 3.6 0 1 0 -7.2 0M1510.8 378.8a3.6 3.6 0 1 0 7.2 0a3.6 3.6 0 1 0 -7.2 0M1528.6 387.4a3.6 3.6 0 1 0 7.2 0a3.6 3.6 0 1 0 -7.2 0M1458.0 383.4a3.6 3.6 0 1 0 7.2 0a3.6 3.6 0 1 0 -7.2 0M1489.7 384.1a3.6 3.6 0 1 0 7.2 0a3.6 3.6 0 1 0 -7.2 0M1458.0 383.4a3.6 3.6 0 1 0 7.2 0a3.6 3.6 0 1 0 -7.2 0M1497.6 404.6a3.6 3.6 0 1 0 7.2 0a3.6 3.6 0 1 0 -7.2 0M1522.0 397.3a3.6 3.6 0 1 0 7.2 0a3.6 3.6 0 1 0 -7.2 0" fill="#0000ff"/><path d="M848.6 714.3 838.6 737.9 826.7 730.3 861.5 741.5 849.6 741.8 833.6 743.4 849.6 752.8 859.5 765.4 849.6 739.9 910.4 809.2 823.7 744.8 863.5 776.7 837.6 763.8 827.6 759.8 823.7 755.8 816.7 749.8 811.7 754.8 807.7 759.8 805.7 763.8 815.7 768.8 820.7 773.7 833.6 771.7 843.6 770.7 841.6 763.8 835.6 775.7 833.6 779.7 817.7 787.7 810.7 765.8 833.6 779.7 855.5 797.6 860.5 807.6 856.5 832.5 843.6 831.5 855.5 853.4 864.5 854.4 952.2 859.4 926.3 845.5 933.3 835.5 930.3 819.6 916.3 815.6 887.4 812.6 885.4 828.5 873.5 840.5 864.5 848.5 885.4 837.5 896.4 840.5 885.4 837.5 898.4 822.0 913.3 847.5 926.3 845.5 910.4 809.2 885.4 797.6 866.5 815.6 863.5 823.6 875.5 839.5 886.4 839.5 916.3 814.6 864.5 854.4 872.5 868.4 887.4 862.4 893.4 865.4 908.4 868.4 895.4 882.3 881.5 899.3" fill="none" stroke="#0000ff" stroke-width="2.0"/><path d="M895.3 882.6 872.2 913.3 873.6 919.6 860.3 918.4 854.3 930.4 846.6 937.2 844.1 944.9 853.5 944.1 857.7 950.0 850.0 951.7 839.8 953.5 834.7 956.9 832.1 966.3 837.2 970.5 844.1 978.2 847.5 979.1 855.2 978.2 855.2 985.9 847.5 999.6 914.1 1023.5 842.4 1020.9 837.2 1026.9 831.2 1030.3 820.1 1033.7 817.6 1041.4 838.9 991.0 847.5 985.1 851.7 968.8 857.7 950.0 846.6 914.2 851.7 951.7 838.1 985.9 828.7 997.0 850.0 955.2 861.7 928.7 871.4 927.8 859.4 939.8 848.3 982.5 839.8 991.0" fill="none" stroke="#0000ff" stroke-width="2.0"/><path d="M895.0 868.4 999.5 904.4" fill="none" stroke="#0000ff" stroke-width="2.0"/><path d="M999.2 904.0 913.8 854.1 894.6 858.3 898.9 866.9 999.2 904.0" fill="none" stroke="#0000ff" stroke-width="2.0"/><path d="M881.8 839.1 898.9 830.6 890.4 845.5 907.4 839.1 883.9 832.7" fill="none" stroke="#0000ff" stroke-width="2.0"/><path d="M845.0 714.3a3.6 3.6 0 1 0 7.2 0a3.6 3.6 0 1 0 -7.2 0M835.0 737.9a3.6 3.6 0 1 0 7.2 0a3.6 3.6 0 1 0 -7.2 0M823.1 730.3a3.6 3.6 0 1 0 7.2 0a3.6 3.6 0 1 0 -7.2 0M857.9 741.5a3.6 3.6 0 1 0 7.2 0a3.6 3.6 0 1 0 -7.2 0M846.0 741.8a3.6 3.6 0 1 0 7.2 0a3.6 3.6 0 1 0 -7.2 0M830.0 743.4a3.6 3.6 0 1 0 7.2 0a3.6 3.6 0 1 0 -7.2 0M846.0 752.8a3.6 3.6 0 1 0 7.2 0a3.6 3.6 0 1 0 -7.2 0M855.9 765.4a3.6 3.6 0 1 0 7.2 0a3.6 3.6 0 1 0 -7.2 0M846.0 739.9a3.6 3.6 0 1 0 7.2 0a3.6 3.6 0 1 0 -7.2 0M906.8 809.2a3.6 3.6 0 1 0 7.2 0a3.6 3.6 0 1 0 -7.2 0M820.1 744.8a3.6 3.6 0 1 0 7.2 0a3.6 3.6 0 1 0 -7.2 0M859.9 776.7a3.6 3.6 0 1 0 7.2 0a3.6 3.6 0 1 0 -7.2 0M834.0 763.8a3.6 3.6 0 1 0 7.2 0a3.6 3.6 0 1 0 -7.2 0M824.0 759.8a3.6 3.6 0 1 0 7.2 0a3.6 3.6 0 1 0 -7.2 0M820.1 755.8a3.6 3.6 0 1 0 7.2 0a3.6 3.6 0 1 0 -7.2 0M813.1 749.8a3.6 3.6 0 1 0 7.2 0a3.6 3.6 0 1 0 -7.2 0M808.1 754.8a3.6 3.6 0 1 0 7.2 0a3.6 3.6 0 1 0 -7.2 0M804.1 759.8a3.6 3.6 0 1 0 7.2 0a3.6 3.6 0 1 0 -7.2 0M802.1 763.8a3.6 3.6 0 1 0 7.2 0a3.6 3.6 0 1 0 -7.2 0M812.1 768.8a3.6 3.6 0 1 0 7.2 0a3.6 3.6 0 1 0 -7.2 0M817.1 773.7a3.6 3.6 0 1 0 7.2 0a3.6 3.6 0 1 0 -7.2 0M830.0 771.7a3.6 3.6 0 1 0 7.2 0a3.6 3.6 0 1 0 -7.2 0M840.0 770.7a3.6 3.6 0 1 0 7.2 0a3.6 3.6 0 1 0 -7.2 0M838.0 763.8a3.6 3.6 0 1 0 7.2 0a3.6 3.6 0 1 0 -7.2 0M832.0 775.7a3.6 3.6 0 1 0 7.2 0a3.6 3.6 0 1 0 -7.2 0M830.0 779.7a3.6 3.6 0 1 0 7.2 0a3.6 3.6 0 1 0 -7.2 0M814.1 787.7a3.6 3.6 0 1 0 7.2 0a3.6 3.6 0 1 0 -7.2 0M807.1 765.8a3.6 3.6 0 1 0 7.2 0a3.6 3.6 0 1 0 -7.2 0M830.0 779.7a3.6 3.6 0 1 0 7.2 0a3.6 3.6 0 1 0 -7.2 0M851.9 797.6a3.6 3.6 0 1 0 7.2 0a3.6 3.6 0 1 0 -7.2 0M856.9 807.6a3.6 3.6 0 1 0 7.2 0a3.6 3.6 0 1 0 -7.2 0M852.9 832.5a3.6 3.6 0 1 0 7.2 0a3.6 3.6 0 1 0 -7.2 0M840.0 831.5a3.6 3.6 0 1 0 7.2 0a3.6 3.6 0 1 0 -7.2 0M851.9 853.4a3.6 3.6 0 1 0 7.2 0a3.6 3.6 0 1 0 -7.2 0M860.9 854.4a3.6 3.6 0 1 0 7.2 0a3.6 3.6 0 1 0 -7.2 0M948.6 859.4a3.6 3.6 0 1 0 7.2 0a3.6 3.6 0 1 0 -7.2 0M922.7 845.5a3.6 3.6 0 1 0 7.2 0a3.6 3.6 0 1 0 -7.2 0M929.7 835.5a3.6 3.6 0 1 0 7.2 0a3.6 3.6 0 1 0 -7.2 0M926.7 819.6a3.6 3.6 0 1 0 7.2 0a3.6 3.6 0 1 0 -7.2 0M912.7 815.6a3.6 3.6 0 1 0 7.2 0a3.6 3.6 0 1 0 -7.2 0M883.8 812.6a3.6 3.6 0 1 0 7.2 0a3.6 3.6 0 1 0 -7.2 0M881.8 828.5a3.6 3.6 0 1 0 7.2 0a3.6 3.6 0 1 0 -7.2 0M869.9 840.5a3.6 3.6 0 1 0 7.2 0a3.6 3.6 0 1 0 -7.2 0M860.9 848.5a3.6 3.6 0 1 0 7.2 0a3.6 3.6 0 1 0 -7.2 0M881.8 837.5a3.6 3.6 0 1 0 7.2 0a3.6 3.6 0 1 0 -7.2 0M892.8 840.5a3.6 3.6 0 1 0 7.2 0a3.6 3.6 0 1 0 -7.2 0M881.8 837.5a3.6 3.6 0 1 0 7.2 0a3.6 3.6 0 1 0 -7.2 0M894.8 822.0a3.6 3.6 0 1 0 7.2 0a3.6 3.6 0 1 0 -7.2 0M909.7 847.5a3.6 3.6 0 1 0 7.2 0a3.6 3.6 0 1 0 -7.2 0M922.7 845.5a3.6 3.6 0 1 0 7.2 0a3.6 3.6 0 1 0 -7.2 0M906.8 809.2a3.6 3.6 0 1 0 7.2 0a3.6 3.6 0 1 0 -7.2 0M881.8 797.6a3.6 3.6 0 1 0 7.2 0a3.6 3.6 0 1 0 -7.2 0M862.9 815.6a3.6 3.6 0 1 0 7.2 0a3.6 3.6 0 1 0 -7.2 0M859.9 823.6a3.6 3.6 0 1 0 7.2 0a3.6 3.6 0 1 0 -7.2 0M871.9 839.5a3.6 3.6 0 1 0 7.2 0a3.6 3.6 0 1 0 -7.2 0M882.8 839.5a3.6 3.6 0 1 0 7.2 0a3.6 3.6 0 1 0 -7.2 0M912.7 814.6a3.6 3.6 0 1 0 7.2 0a3.6 3.6 0 1 0 -7.2 0M860.9 854.4a3.6 3.6 0 1 0 7.2 0a3.6 3.6 0 1 0 -7.2 0M868.9 868.4a3.6 3.6 0 1 0 7.2 0a3.6 3.6 0 1 0 -7.2 0M883.8 862.4a3.6 3.6 0 1 0 7.2 0a3.6 3.6 0 1 0 -7.2 0M889.8 865.4a3.6 3.6 0 1 0 7.2 0a3.6 3.6 0 1 0 -7.2 0M904.8 868.4a3.6 3.6 0 1 0 7.2 0a3.6 3.6 0 1 0 -7.2 0M891.8 882.3a3.6 3.6 0 1 0 7.2 0a3.6 3.6 0 1 0 -7.2 0M877.9 899.3a3.6 3.6 0 1 0 7.2 0a3.6 3.6 0 1 0 -7.2 0M891.7 882.6a3.6 3.6 0 1 0 7.2 0a3.6 3.6 0 1 0 -7.2 0M868.6 913.3a3.6 3.6 0 1 0 7.2 0a3.6 3.6 0 1 0 -7.2 0M870.0 919.6a3.6 3.6 0 1 0 7.2 0a3.6 3.6 0 1 0 -7.2 0M856.7 918.4a3.6 3.6 0 1 0 7.2 0a3.6 3.6 0 1 0 -7.2 0M850.7 930.4a3.6 3.6 0 1 0 7.2 0a3.6 3.6 0 1 0 -7.2 0M843.0 937.2a3.6 3.6 0 1 0 7.2 0a3.6 3.6 0 1 0 -7.2 0M840.5 944.9a3.6 3.6 0 1 0 7.2 0a3.6 3.6 0 1 0 -7.2 0M849.9 944.1a3.6 3.6 0 1 0 7.2 0a3.6 3.6 0 1 0 -7.2 0M854.1 950.0a3.6 3.6 0 1 0 7.2 0a3.6 3.6 0 1 0 -7.2 0M846.4 951.7a3.6 3.6 0 1 0 7.2 0a3.6 3.6 0 1 0 -7.2 0M836.2 953.5a3.6 3.6 0 1 0 7.2 0a3.6 3.6 0 1 0 -7.2 0M831.1 956.9a3.6 3.6 0 1 0 7.2 0a3.6 3.6 0 1 0 -7.2 0M828.5 966.3a3.6 3.6 0 1 0 7.2 0a3.6 3.6 0 1 0 -7.2 0M833.6 970.5a3.6 3.6 0 1 0 7.2 0a3.6 3.6 0 1 0 -7.2 0M840.5 978.2a3.6 3.6 0 1 0 7.2 0a3.6 3.6 0 1 0 -7.2 0M843.9 979.1a3.6 3.6 0 1 0 7.2 0a3.6 3.6 0 1 0 -7.2 0M851.6 978.2a3.6 3.6 0 1 0 7.2 0a3.6 3.6 0 1 0 -7.2 0M851.6 985.9a3.6 3.6 0 1 0 7.2 0a3.6 3.6 0 1 0 -7.2 0M843.9 999.6a3.6 3.6 0 1 0 7.2 0a3.6 3.6 0 1 0 -7.2 0M910.5 1023.5a3.6 3.6 0 1 0 7.2 0a3.6 3.6 0 1 0 -7.2 0M838.8 1020.9a3.6 3.6 0 1 0 7.2 0a3.6 3.6 0 1 0 -7.2 0M833.6 1026.9a3.6 3.6 0 1 0 7.2 0a3.6 3.6 0 1 0 -7.2 0M827.6 1030.3a3.6 3.6 0 1 0 7.2 0a3.6 3.6 0 1 0 -7.2 0M816.5 1033.7a3.6 3.6 0 1 0 7.2 0a3.6 3.6 0 1 0 -7.2 0M814.0 1041.4a3.6 3.6 0 1 0 7.2 0a3.6 3.6 0 1 0 -7.2 0M835.3 991.0a3.6 3.6 0 1 0 7.2 0a3.6 3.6 0 1 0 -7.2 0M843.9 985.1a3.6 3.6 0 1 0 7.2 0a3.6 3.6 0 1 0 -7.2 0M848.1 968.8a3.6 3.6 0 1 0 7.2 0a3.6 3.6 0 1 0 -7.2 0M854.1 950.0a3.6 3.6 0 1 0 7.2 0a3.6 3.6 0 1 0 -7.2 0M843.0 914.2a3.6 3.6 0 1 0 7.2 0a3.6 3.6 0 1 0 -7.2 0M848.1 951.7a3.6 3.6 0 1 0 7.2 0a3.6 3.6 0 1 0 -7.2 0M834.5 985.9a3.6 3.6 0 1 0 7.2 0a3.6 3.6 0 1 0 -7.2 0M825.1 997.0a3.6 3.6 0 1 0 7.2 0a3.6 3.6 0 1 0 -7.2 0M846.4 955.2a3.6 3.6 0 1 0 7.2 0a3.6 3.6 0 1 0 -7.2 0M858.1 928.7a3.6 3.6 0 1 0 7.2 0a3.6 3.6 0 1 0 -7.2 0M867.8 927.8a3.6 3.6 0 1 0 7.2 0a3.6 3.6 0 1 0 -7.2 0M855.8 939.8a3.6 3.6 0 1 0 7.2 0a3.6 3.6 0 1 0 -7.2 0M844.7 982.5a3.6 3.6 0 1 0 7.2 0a3.6 3.6 0 1 0 -7.2 0M836.2 991.0a3.6 3.6 0 1 0 7.2 0a3.6 3.6 0 1 0 -7.2 0M995.9 904.4a3.6 3.6 0 1 0 7.2 0a3.6 3.6 0 1 0 -7.2 0M995.6 904.0a3.6 3.6 0 1 0 7.2 0a3.6 3.6 0 1 0 -7.2 0M910.2 854.1a3.6 3.6 0 1 0 7.2 0a3.6 3.6 0 1 0 -7.2 0M891.0 858.3a3.6 3.6 0 1 0 7.2 0a3.6 3.6 0 1 0 -7.2 0M895.3 866.9a3.6 3.6 0 1 0 7.2 0a3.6 3.6 0 1 0 -7.2 0M995.6 904.0a3.6 3.6 0 1 0 7.2 0a3.6 3.6 0 1 0 -7.2 0M878.2 839.1a3.6 3.6 0 1 0 7.2 0a3.6 3.6 0 1 0 -7.2 0M895.3 830.6a3.6 3.6 0 1 0 7.2 0a3.6 3.6 0 1 0 -7.2 0M886.8 845.5a3.6 3.6 0 1 0 7.2 0a3.6 3.6 0 1 0 -7.2 0M903.8 839.1a3.6 3.6 0 1 0 7.2 0a3.6 3.6 0 1 0 -7.2 0M880.3 832.7a3.6 3.6 0 1 0 7.2 0a3.6 3.6 0 1 0 -7.2 0" fill="#0000ff"/><path d="M1492.6 714.3 1472.2 740.8 1487.1 730.6 1475.6 753.7 1459.3 759.8 1474.2 740.8 1459.3 744.8 1440.3 755.7 1446.4 755.7 1435.5 761.8 1430.1 768.6 1417.2 787.6 1443.0 780.2 1453.9 770.7 1457.3 771.3 1448.4 763.9 1441.6 773.4 1424.6 809.4 1442.3 778.8 1441.0 797.1 1447.1 797.1 1453.2 807.3 1444.3 815.5 1428.0 832.5 1419.2 831.1 1417.2 859.6 1424.6 852.2 1430.8 854.9 1430.1 868.5 1411.1 904.5 1445.0 844.0 1433.5 849.5 1443.7 838.6 1451.1 823.6 1446.4 799.2 1443.0 819.6 1441.6 837.2 1452.5 839.9 1469.5 812.1 1465.4 818.2 1472.2 846.1 1482.4 835.2 1467.4 846.7 1453.2 832.5 1448.4 862.4 1453.9 867.1 1454.5 854.2 1460.7 861.7 1464.7 868.5 1469.5 882.1 1468.8 913.3 1460.7 918.8 1451.1 917.4 1440.3 929.6 1429.4 914.0 1434.8 937.8 1445.0 944.6 1448.4 939.1 1454.5 928.3 1457.9 925.5 1468.8 913.3" fill="none" stroke="#0000ff" stroke-width="2.0"/><path d="M1434.8 937.8 1433.5 952.7 1430.8 956.8 1434.8 966.3 1445.7 974.5 1441.6 965.6 1448.4 965.6 1444.3 974.5 1457.9 950.0 1457.9 977.2 1466.1 978.5 1471.5 984.0 1462.7 996.9 1456.6 1013.9 1445.7 1023.4 1472.9 1023.4 1481.7 1027.4 1480.4 1030.2 1470.2 1028.8 1455.9 1040.4 1454.5 1035.6 1456.6 1032.2 1456.6 992.1 1445.7 974.5 1434.8 988.0 1441.6 986.7 1456.6 984.0" fill="none" stroke="#0000ff" stroke-width="2.0"/><path d="M1430.0 765.0 1455.0 758.0 1435.0 775.0 1462.0 770.0 1440.0 752.0 1450.0 782.0 1428.0 760.0 1458.0 748.0 1445.0 770.0" fill="none" stroke="#0000ff" stroke-width="2.0"/><path d="M1440.0 830.0 1452.0 840.0 1430.0 850.0 1460.0 828.0 1445.0 815.0 1455.0 858.0 1425.0 845.0" fill="none" stroke="#0000ff" stroke-width="2.0"/><path d="M1435.0 950.0 1450.0 960.0 1430.0 975.0 1458.0 945.0 1440.0 985.0 1455.0 975.0 1445.0 935.0" fill="none" stroke="#0000ff" stroke-width="2.0"/><path d="M1489.0 714.3a3.6 3.6 0 1 0 7.2 0a3.6 3.6 0 1 0 -7.2 0M1468.6 740.8a3.6 3.6 0 1 0 7.2 0a3.6 3.6 0 1 0 -7.2 0M1483.5 730.6a3.6 3.6 0 1 0 7.2 0a3.6 3.6 0 1 0 -7.2 0M1472.0 753.7a3.6 3.6 0 1 0 7.2 0a3.6 3.6 0 1 0 -7.2 0M1455.7 759.8a3.6 3.6 0 1 0 7.2 0a3.6 3.6 0 1 0 -7.2 0M1470.6 740.8a3.6 3.6 0 1 0 7.2 0a3.6 3.6 0 1 0 -7.2 0M1455.7 744.8a3.6 3.6 0 1 0 7.2 0a3.6 3.6 0 1 0 -7.2 0M1436.7 755.7a3.6 3.6 0 1 0 7.2 0a3.6 3.6 0 1 0 -7.2 0M1442.8 755.7a3.6 3.6 0 1 0 7.2 0a3.6 3.6 0 1 0 -7.2 0M1431.9 761.8a3.6 3.6 0 1 0 7.2 0a3.6 3.6 0 1 0 -7.2 0M1426.5 768.6a3.6 3.6 0 1 0 7.2 0a3.6 3.6 0 1 0 -7.2 0M1413.6 787.6a3.6 3.6 0 1 0 7.2 0a3.6 3.6 0 1 0 -7.2 0M1439.4 780.2a3.6 3.6 0 1 0 7.2 0a3.6 3.6 0 1 0 -7.2 0M1450.3 770.7a3.6 3.6 0 1 0 7.2 0a3.6 3.6 0 1 0 -7.2 0M1453.7 771.3a3.6 3.6 0 1 0 7.2 0a3.6 3.6 0 1 0 -7.2 0M1444.8 763.9a3.6 3.6 0 1 0 7.2 0a3.6 3.6 0 1 0 -7.2 0M1438.0 773.4a3.6 3.6 0 1 0 7.2 0a3.6 3.6 0 1 0 -7.2 0M1421.0 809.4a3.6 3.6 0 1 0 7.2 0a3.6 3.6 0 1 0 -7.2 0M1438.7 778.8a3.6 3.6 0 1 0 7.2 0a3.6 3.6 0 1 0 -7.2 0M1437.4 797.1a3.6 3.6 0 1 0 7.2 0a3.6 3.6 0 1 0 -7.2 0M1443.5 797.1a3.6 3.6 0 1 0 7.2 0a3.6 3.6 0 1 0 -7.2 0M1449.6 807.3a3.6 3.6 0 1 0 7.2 0a3.6 3.6 0 1 0 -7.2 0M1440.7 815.5a3.6 3.6 0 1 0 7.2 0a3.6 3.6 0 1 0 -7.2 0M1424.4 832.5a3.6 3.6 0 1 0 7.2 0a3.6 3.6 0 1 0 -7.2 0M1415.6 831.1a3.6 3.6 0 1 0 7.2 0a3.6 3.6 0 1 0 -7.2 0M1413.6 859.6a3.6 3.6 0 1 0 7.2 0a3.6 3.6 0 1 0 -7.2 0M1421.0 852.2a3.6 3.6 0 1 0 7.2 0a3.6 3.6 0 1 0 -7.2 0M1427.2 854.9a3.6 3.6 0 1 0 7.2 0a3.6 3.6 0 1 0 -7.2 0M1426.5 868.5a3.6 3.6 0 1 0 7.2 0a3.6 3.6 0 1 0 -7.2 0M1407.5 904.5a3.6 3.6 0 1 0 7.2 0a3.6 3.6 0 1 0 -7.2 0M1441.4 844.0a3.6 3.6 0 1 0 7.2 0a3.6 3.6 0 1 0 -7.2 0M1429.9 849.5a3.6 3.6 0 1 0 7.2 0a3.6 3.6 0 1 0 -7.2 0M1440.1 838.6a3.6 3.6 0 1 0 7.2 0a3.6 3.6 0 1 0 -7.2 0M1447.5 823.6a3.6 3.6 0 1 0 7.2 0a3.6 3.6 0 1 0 -7.2 0M1442.8 799.2a3.6 3.6 0 1 0 7.2 0a3.6 3.6 0 1 0 -7.2 0M1439.4 819.6a3.6 3.6 0 1 0 7.2 0a3.6 3.6 0 1 0 -7.2 0M1438.0 837.2a3.6 3.6 0 1 0 7.2 0a3.6 3.6 0 1 0 -7.2 0M1448.9 839.9a3.6 3.6 0 1 0 7.2 0a3.6 3.6 0 1 0 -7.2 0M1465.9 812.1a3.6 3.6 0 1 0 7.2 0a3.6 3.6 0 1 0 -7.2 0M1461.8 818.2a3.6 3.6 0 1 0 7.2 0a3.6 3.6 0 1 0 -7.2 0M1468.6 846.1a3.6 3.6 0 1 0 7.2 0a3.6 3.6 0 1 0 -7.2 0M1478.8 835.2a3.6 3.6 0 1 0 7.2 0a3.6 3.6 0 1 0 -7.2 0M1463.8 846.7a3.6 3.6 0 1 0 7.2 0a3.6 3.6 0 1 0 -7.2 0M1449.6 832.5a3.6 3.6 0 1 0 7.2 0a3.6 3.6 0 1 0 -7.2 0M1444.8 862.4a3.6 3.6 0 1 0 7.2 0a3.6 3.6 0 1 0 -7.2 0M1450.3 867.1a3.6 3.6 0 1 0 7.2 0a3.6 3.6 0 1 0 -7.2 0M1450.9 854.2a3.6 3.6 0 1 0 7.2 0a3.6 3.6 0 1 0 -7.2 0M1457.1 861.7a3.6 3.6 0 1 0 7.2 0a3.6 3.6 0 1 0 -7.2 0M1461.1 868.5a3.6 3.6 0 1 0 7.2 0a3.6 3.6 0 1 0 -7.2 0M1465.9 882.1a3.6 3.6 0 1 0 7.2 0a3.6 3.6 0 1 0 -7.2 0M1465.2 913.3a3.6 3.6 0 1 0 7.2 0a3.6 3.6 0 1 0 -7.2 0M1457.1 918.8a3.6 3.6 0 1 0 7.2 0a3.6 3.6 0 1 0 -7.2 0M1447.5 917.4a3.6 3.6 0 1 0 7.2 0a3.6 3.6 0 1 0 -7.2 0M1436.7 929.6a3.6 3.6 0 1 0 7.2 0a3.6 3.6 0 1 0 -7.2 0M1425.8 914.0a3.6 3.6 0 1 0 7.2 0a3.6 3.6 0 1 0 -7.2 0M1431.2 937.8a3.6 3.6 0 1 0 7.2 0a3.6 3.6 0 1 0 -7.2 0M1441.4 944.6a3.6 3.6 0 1 0 7.2 0a3.6 3.6 0 1 0 -7.2 0M1444.8 939.1a3.6 3.6 0 1 0 7.2 0a3.6 3.6 0 1 0 -7.2 0M1450.9 928.3a3.6 3.6 0 1 0 7.2 0a3.6 3.6 0 1 0 -7.2 0M1454.3 925.5a3.6 3.6 0 1 0 7.2 0a3.6 3.6 0 1 0 -7.2 0M1465.2 913.3a3.6 3.6 0 1 0 7.2 0a3.6 3.6 0 1 0 -7.2 0M1431.2 937.8a3.6 3.6 0 1 0 7.2 0a3.6 3.6 0 1 0 -7.2 0M1429.9 952.7a3.6 3.6 0 1 0 7.2 0a3.6 3.6 0 1 0 -7.2 0M1427.2 956.8a3.6 3.6 0 1 0 7.2 0a3.6 3.6 0 1 0 -7.2 0M1431.2 966.3a3.6 3.6 0 1 0 7.2 0a3.6 3.6 0 1 0 -7.2 0M1442.1 974.5a3.6 3.6 0 1 0 7.2 0a3.6 3.6 0 1 0 -7.2 0M1438.0 965.6a3.6 3.6 0 1 0 7.2 0a3.6 3.6 0 1 0 -7.2 0M1444.8 965.6a3.6 3.6 0 1 0 7.2 0a3.6 3.6 0 1 0 -7.2 0M1440.7 974.5a3.6 3.6 0 1 0 7.2 0a3.6 3.6 0 1 0 -7.2 0M1454.3 950.0a3.6 3.6 0 1 0 7.2 0a3.6 3.6 0 1 0 -7.2 0M1454.3 977.2a3.6 3.6 0 1 0 7.2 0a3.6 3.6 0 1 0 -7.2 0M1462.5 978.5a3.6 3.6 0 1 0 7.2 0a3.6 3.6 0 1 0 -7.2 0M1467.9 984.0a3.6 3.6 0 1 0 7.2 0a3.6 3.6 0 1 0 -7.2 0M1459.1 996.9a3.6 3.6 0 1 0 7.2 0a3.6 3.6 0 1 0 -7.2 0M1453.0 1013.9a3.6 3.6 0 1 0 7.2 0a3.6 3.6 0 1 0 -7.2 0M1442.1 1023.4a3.6 3.6 0 1 0 7.2 0a3.6 3.6 0 1 0 -7.2 0M1469.3 1023.4a3.6 3.6 0 1 0 7.2 0a3.6 3.6 0 1 0 -7.2 0M1478.1 1027.4a3.6 3.6 0 1 0 7.2 0a3.6 3.6 0 1 0 -7.2 0M1476.8 1030.2a3.6 3.6 0 1 0 7.2 0a3.6 3.6 0 1 0 -7.2 0M1466.6 1028.8a3.6 3.6 0 1 0 7.2 0a3.6 3.6 0 1 0 -7.2 0M1452.3 1040.4a3.6 3.6 0 1 0 7.2 0a3.6 3.6 0 1 0 -7.2 0M1450.9 1035.6a3.6 3.6 0 1 0 7.2 0a3.6 3.6 0 1 0 -7.2 0M1453.0 1032.2a3.6 3.6 0 1 0 7.2 0a3.6 3.6 0 1 0 -7.2 0M1453.0 992.1a3.6 3.6 0 1 0 7.2 0a3.6 3.6 0 1 0 -7.2 0M1442.1 974.5a3.6 3.6 0 1 0 7.2 0a3.6 3.6 0 1 0 -7.2 0M1431.2 988.0a3.6 3.6 0 1 0 7.2 0a3.6 3.6 0 1 0 -7.2 0M1438.0 986.7a3.6 3.6 0 1 0 7.2 0a3.6 3.6 0 1 0 -7.2 0M1453.0 984.0a3.6 3.6 0 1 0 7.2 0a3.6 3.6 0 1 0 -7.2 0M1426.4 765.0a3.6 3.6 0 1 0 7.2 0a3.6 3.6 0 1 0 -7.2 0M1451.4 758.0a3.6 3.6 0 1 0 7.2 0a3.6 3.6 0 1 0 -7.2 0M1431.4 775.0a3.6 3.6 0 1 0 7.2 0a3.6 3.6 0 1 0 -7.2 0M1458.4 770.0a3.6 3.6 0 1 0 7.2 0a3.6 3.6 0 1 0 -7.2 0M1436.4 752.0a3.6 3.6 0 1 0 7.2 0a3.6 3.6 0 1 0 -7.2 0M1446.4 782.0a3.6 3.6 0 1 0 7.2 0a3.6 3.6 0 1 0 -7.2 0M1424.4 760.0a3.6 3.6 0 1 0 7.2 0a3.6 3.6 0 1 0 -7.2 0M1454.4 748.0a3.6 3.6 0 1 0 7.2 0a3.6 3.6 0 1 0 -7.2 0M1441.4 770.0a3.6 3.6 0 1 0 7.2 0a3.6 3.6 0 1 0 -7.2 0M1436.4 830.0a3.6 3.6 0 1 0 7.2 0a3.6 3.6 0 1 0 -7.2 0M1448.4 840.0a3.6 3.6 0 1 0 7.2 0a3.6 3.6 0 1 0 -7.2 0M1426.4 850.0a3.6 3.6 0 1 0 7.2 0a3.6 3.6 0 1 0 -7.2 0M1456.4 828.0a3.6 3.6 0 1 0 7.2 0a3.6 3.6 0 1 0 -7.2 0M1441.4 815.0a3.6 3.6 0 1 0 7.2 0a3.6 3.6 0 1 0 -7.2 0M1451.4 858.0a3.6 3.6 0 1 0 7.2 0a3.6 3.6 0 1 0 -7.2 0M1421.4 845.0a3.6 3.6 0 1 0 7.2 0a3.6 3.6 0 1 0 -7.2 0M1431.4 950.0a3.6 3.6 0 1 0 7.2 0a3.6 3.6 0 1 0 -7.2 0M1446.4 960.0a3.6 3.6 0 1 0 7.2 0a3.6 3.6 0 1 0 -7.2 0M1426.4 975.0a3.6 3.6 0 1 0 7.2 0a3.6 3.6 0 1 0 -7.2 0M1454.4 945.0a3.6 3.6 0 1 0 7.2 0a3.6 3.6 0 1 0 -7.2 0M1436.4 985.0a3.6 3.6 0 1 0 7.2 0a3.6 3.6 0 1 0 -7.2 0M1451.4 975.0a3.6 3.6 0 1 0 7.2 0a3.6 3.6 0 1 0 -7.2 0M1441.4 935.0a3.6 3.6 0 1 0 7.2 0a3.6 3.6 0 1 0 -7.2 0" fill="#0000ff"/><clipPath id="cD"><rect x="117" y="662" width="454" height="454"/></clipPath><g clip-path="url(#cD)"><path d="M174.5 745.0a5.5 5.5 0 1 0 11.0 0a5.5 5.5 0 1 0 -11.0 0M137.7 748.3a5.5 5.5 0 1 0 11.0 0a5.5 5.5 0 1 0 -11.0 0M144.2 753.2a5.5 5.5 0 1 0 11.0 0a5.5 5.5 0 1 0 -11.0 0M151.6 751.6a5.5 5.5 0 1 0 11.0 0a5.5 5.5 0 1 0 -11.0 0M155.7 758.1a5.5 5.5 0 1 0 11.0 0a5.5 5.5 0 1 0 -11.0 0M148.3 755.7a5.5 5.5 0 1 0 11.0 0a5.5 5.5 0 1 0 -11.0 0M170.4 776.9a5.5 5.5 0 1 0 11.0 0a5.5 5.5 0 1 0 -11.0 0M195.0 785.9a5.5 5.5 0 1 0 11.0 0a5.5 5.5 0 1 0 -11.0 0M200.7 787.6a5.5 5.5 0 1 0 11.0 0a5.5 5.5 0 1 0 -11.0 0M208.1 788.4a5.5 5.5 0 1 0 11.0 0a5.5 5.5 0 1 0 -11.0 0M214.6 790.0a5.5 5.5 0 1 0 11.0 0a5.5 5.5 0 1 0 -11.0 0M213.8 794.1a5.5 5.5 0 1 0 11.0 0a5.5 5.5 0 1 0 -11.0 0M204.0 798.2a5.5 5.5 0 1 0 11.0 0a5.5 5.5 0 1 0 -11.0 0M200.7 816.2a5.5 5.5 0 1 0 11.0 0a5.5 5.5 0 1 0 -11.0 0M230.2 803.1a5.5 5.5 0 1 0 11.0 0a5.5 5.5 0 1 0 -11.0 0M239.2 807.2a5.5 5.5 0 1 0 11.0 0a5.5 5.5 0 1 0 -11.0 0M250.6 803.9a5.5 5.5 0 1 0 11.0 0a5.5 5.5 0 1 0 -11.0 0M235.9 813.8a5.5 5.5 0 1 0 11.0 0a5.5 5.5 0 1 0 -11.0 0M238.4 817.9a5.5 5.5 0 1 0 11.0 0a5.5 5.5 0 1 0 -11.0 0M250.6 815.4a5.5 5.5 0 1 0 11.0 0a5.5 5.5 0 1 0 -11.0 0M251.5 820.3a5.5 5.5 0 1 0 11.0 0a5.5 5.5 0 1 0 -11.0 0M244.1 834.2a5.5 5.5 0 1 0 11.0 0a5.5 5.5 0 1 0 -11.0 0M262.1 824.4a5.5 5.5 0 1 0 11.0 0a5.5 5.5 0 1 0 -11.0 0M265.4 823.6a5.5 5.5 0 1 0 11.0 0a5.5 5.5 0 1 0 -11.0 0M274.4 822.0a5.5 5.5 0 1 0 11.0 0a5.5 5.5 0 1 0 -11.0 0M275.2 826.0a5.5 5.5 0 1 0 11.0 0a5.5 5.5 0 1 0 -11.0 0M260.5 832.6a5.5 5.5 0 1 0 11.0 0a5.5 5.5 0 1 0 -11.0 0M264.6 835.0a5.5 5.5 0 1 0 11.0 0a5.5 5.5 0 1 0 -11.0 0M275.2 841.6a5.5 5.5 0 1 0 11.0 0a5.5 5.5 0 1 0 -11.0 0M281.7 842.4a5.5 5.5 0 1 0 11.0 0a5.5 5.5 0 1 0 -11.0 0M290.7 851.4a5.5 5.5 0 1 0 11.0 0a5.5 5.5 0 1 0 -11.0 0M307.9 862.1a5.5 5.5 0 1 0 11.0 0a5.5 5.5 0 1 0 -11.0 0M310.4 871.1a5.5 5.5 0 1 0 11.0 0a5.5 5.5 0 1 0 -11.0 0M325.1 878.4a5.5 5.5 0 1 0 11.0 0a5.5 5.5 0 1 0 -11.0 0M330.8 880.9a5.5 5.5 0 1 0 11.0 0a5.5 5.5 0 1 0 -11.0 0M336.6 883.3a5.5 5.5 0 1 0 11.0 0a5.5 5.5 0 1 0 -11.0 0M341.5 885.0a5.5 5.5 0 1 0 11.0 0a5.5 5.5 0 1 0 -11.0 0" fill="#008000"/><path d="M363.8 876.2a5.5 5.5 0 1 0 11.0 0a5.5 5.5 0 1 0 -11.0 0M343.7 895.1a5.5 5.5 0 1 0 11.0 0a5.5 5.5 0 1 0 -11.0 0M383.8 887.6a5.5 5.5 0 1 0 11.0 0a5.5 5.5 0 1 0 -11.0 0M396.4 895.1a5.5 5.5 0 1 0 11.0 0a5.5 5.5 0 1 0 -11.0 0M372.1 893.5a5.5 5.5 0 1 0 11.0 0a5.5 5.5 0 1 0 -11.0 0M378.0 900.1a5.5 5.5 0 1 0 11.0 0a5.5 5.5 0 1 0 -11.0 0M384.7 903.5a5.5 5.5 0 1 0 11.0 0a5.5 5.5 0 1 0 -11.0 0M388.0 910.2a5.5 5.5 0 1 0 11.0 0a5.5 5.5 0 1 0 -11.0 0M403.1 910.2a5.5 5.5 0 1 0 11.0 0a5.5 5.5 0 1 0 -11.0 0M409.8 913.5a5.5 5.5 0 1 0 11.0 0a5.5 5.5 0 1 0 -11.0 0M418.1 911.8a5.5 5.5 0 1 0 11.0 0a5.5 5.5 0 1 0 -11.0 0M413.1 921.9a5.5 5.5 0 1 0 11.0 0a5.5 5.5 0 1 0 -11.0 0M423.1 923.6a5.5 5.5 0 1 0 11.0 0a5.5 5.5 0 1 0 -11.0 0M431.5 919.4a5.5 5.5 0 1 0 11.0 0a5.5 5.5 0 1 0 -11.0 0M444.9 922.7a5.5 5.5 0 1 0 11.0 0a5.5 5.5 0 1 0 -11.0 0M436.5 930.2a5.5 5.5 0 1 0 11.0 0a5.5 5.5 0 1 0 -11.0 0M441.5 936.9a5.5 5.5 0 1 0 11.0 0a5.5 5.5 0 1 0 -11.0 0M428.2 938.6a5.5 5.5 0 1 0 11.0 0a5.5 5.5 0 1 0 -11.0 0M414.8 935.3a5.5 5.5 0 1 0 11.0 0a5.5 5.5 0 1 0 -11.0 0M401.4 936.9a5.5 5.5 0 1 0 11.0 0a5.5 5.5 0 1 0 -11.0 0M398.1 940.3a5.5 5.5 0 1 0 11.0 0a5.5 5.5 0 1 0 -11.0 0M393.9 942.0a5.5 5.5 0 1 0 11.0 0a5.5 5.5 0 1 0 -11.0 0M398.1 949.5a5.5 5.5 0 1 0 11.0 0a5.5 5.5 0 1 0 -11.0 0M416.5 947.0a5.5 5.5 0 1 0 11.0 0a5.5 5.5 0 1 0 -11.0 0M423.1 950.3a5.5 5.5 0 1 0 11.0 0a5.5 5.5 0 1 0 -11.0 0M431.5 950.3a5.5 5.5 0 1 0 11.0 0a5.5 5.5 0 1 0 -11.0 0M438.2 945.3a5.5 5.5 0 1 0 11.0 0a5.5 5.5 0 1 0 -11.0 0M451.6 948.6a5.5 5.5 0 1 0 11.0 0a5.5 5.5 0 1 0 -11.0 0M454.9 953.7a5.5 5.5 0 1 0 11.0 0a5.5 5.5 0 1 0 -11.0 0M467.5 955.3a5.5 5.5 0 1 0 11.0 0a5.5 5.5 0 1 0 -11.0 0M419.8 964.5a5.5 5.5 0 1 0 11.0 0a5.5 5.5 0 1 0 -11.0 0M438.2 965.4a5.5 5.5 0 1 0 11.0 0a5.5 5.5 0 1 0 -11.0 0M451.6 974.6a5.5 5.5 0 1 0 11.0 0a5.5 5.5 0 1 0 -11.0 0M356.2 883.4a5.5 5.5 0 1 0 11.0 0a5.5 5.5 0 1 0 -11.0 0M390.2 899.9a5.5 5.5 0 1 0 11.0 0a5.5 5.5 0 1 0 -11.0 0M394.4 907.0a5.5 5.5 0 1 0 11.0 0a5.5 5.5 0 1 0 -11.0 0M398.0 915.6a5.5 5.5 0 1 0 11.0 0a5.5 5.5 0 1 0 -11.0 0M406.5 916.3a5.5 5.5 0 1 0 11.0 0a5.5 5.5 0 1 0 -11.0 0M424.3 916.3a5.5 5.5 0 1 0 11.0 0a5.5 5.5 0 1 0 -11.0 0M431.4 925.5a5.5 5.5 0 1 0 11.0 0a5.5 5.5 0 1 0 -11.0 0M420.8 929.1a5.5 5.5 0 1 0 11.0 0a5.5 5.5 0 1 0 -11.0 0M435.0 934.1a5.5 5.5 0 1 0 11.0 0a5.5 5.5 0 1 0 -11.0 0M403.0 941.2a5.5 5.5 0 1 0 11.0 0a5.5 5.5 0 1 0 -11.0 0M438.6 948.3a5.5 5.5 0 1 0 11.0 0a5.5 5.5 0 1 0 -11.0 0M427.9 951.9a5.5 5.5 0 1 0 11.0 0a5.5 5.5 0 1 0 -11.0 0M417.2 951.9a5.5 5.5 0 1 0 11.0 0a5.5 5.5 0 1 0 -11.0 0M442.1 937.6a5.5 5.5 0 1 0 11.0 0a5.5 5.5 0 1 0 -11.0 0M452.8 954.0a5.5 5.5 0 1 0 11.0 0a5.5 5.5 0 1 0 -11.0 0M435.0 955.4a5.5 5.5 0 1 0 11.0 0a5.5 5.5 0 1 0 -11.0 0M413.6 923.4a5.5 5.5 0 1 0 11.0 0a5.5 5.5 0 1 0 -11.0 0M395.9 930.5a5.5 5.5 0 1 0 11.0 0a5.5 5.5 0 1 0 -11.0 0" fill="#ff0000"/><path d="M337.0 883.4a5.5 5.5 0 1 0 11.0 0a5.5 5.5 0 1 0 -11.0 0M347.9 882.6a5.5 5.5 0 1 0 11.0 0a5.5 5.5 0 1 0 -11.0 0M359.6 885.9a5.5 5.5 0 1 0 11.0 0a5.5 5.5 0 1 0 -11.0 0M344.5 893.5a5.5 5.5 0 1 0 11.0 0a5.5 5.5 0 1 0 -11.0 0M354.6 898.5a5.5 5.5 0 1 0 11.0 0a5.5 5.5 0 1 0 -11.0 0M358.8 906.8a5.5 5.5 0 1 0 11.0 0a5.5 5.5 0 1 0 -11.0 0M369.6 897.6a5.5 5.5 0 1 0 11.0 0a5.5 5.5 0 1 0 -11.0 0M378.8 902.6a5.5 5.5 0 1 0 11.0 0a5.5 5.5 0 1 0 -11.0 0M369.6 911.8a5.5 5.5 0 1 0 11.0 0a5.5 5.5 0 1 0 -11.0 0M371.3 921.9a5.5 5.5 0 1 0 11.0 0a5.5 5.5 0 1 0 -11.0 0M384.7 921.9a5.5 5.5 0 1 0 11.0 0a5.5 5.5 0 1 0 -11.0 0M391.4 916.9a5.5 5.5 0 1 0 11.0 0a5.5 5.5 0 1 0 -11.0 0M398.1 900.1a5.5 5.5 0 1 0 11.0 0a5.5 5.5 0 1 0 -11.0 0M396.4 874.2a5.5 5.5 0 1 0 11.0 0a5.5 5.5 0 1 0 -11.0 0M401.4 928.6a5.5 5.5 0 1 0 11.0 0a5.5 5.5 0 1 0 -11.0 0M409.8 935.3a5.5 5.5 0 1 0 11.0 0a5.5 5.5 0 1 0 -11.0 0M424.0 945.3a5.5 5.5 0 1 0 11.0 0a5.5 5.5 0 1 0 -11.0 0M444.9 964.5a5.5 5.5 0 1 0 11.0 0a5.5 5.5 0 1 0 -11.0 0M458.3 960.4a5.5 5.5 0 1 0 11.0 0a5.5 5.5 0 1 0 -11.0 0M458.3 968.7a5.5 5.5 0 1 0 11.0 0a5.5 5.5 0 1 0 -11.0 0M468.3 973.7a5.5 5.5 0 1 0 11.0 0a5.5 5.5 0 1 0 -11.0 0M468.3 981.3a5.5 5.5 0 1 0 11.0 0a5.5 5.5 0 1 0 -11.0 0M476.7 968.7a5.5 5.5 0 1 0 11.0 0a5.5 5.5 0 1 0 -11.0 0M481.7 987.1a5.5 5.5 0 1 0 11.0 0a5.5 5.5 0 1 0 -11.0 0M485.9 924.4a5.5 5.5 0 1 0 11.0 0a5.5 5.5 0 1 0 -11.0 0M491.7 998.8a5.5 5.5 0 1 0 11.0 0a5.5 5.5 0 1 0 -11.0 0M490.9 1010.5a5.5 5.5 0 1 0 11.0 0a5.5 5.5 0 1 0 -11.0 0M480.0 977.1a5.5 5.5 0 1 0 11.0 0a5.5 5.5 0 1 0 -11.0 0M480.9 969.9a5.5 5.5 0 1 0 11.0 0a5.5 5.5 0 1 0 -11.0 0M478.0 984.8a5.5 5.5 0 1 0 11.0 0a5.5 5.5 0 1 0 -11.0 0M485.4 988.6a5.5 5.5 0 1 0 11.0 0a5.5 5.5 0 1 0 -11.0 0M472.0 977.4a5.5 5.5 0 1 0 11.0 0a5.5 5.5 0 1 0 -11.0 0M490.7 1001.3a5.5 5.5 0 1 0 11.0 0a5.5 5.5 0 1 0 -11.0 0M481.7 990.8a5.5 5.5 0 1 0 11.0 0a5.5 5.5 0 1 0 -11.0 0M363.8 826.3a5.5 5.5 0 1 0 11.0 0a5.5 5.5 0 1 0 -11.0 0" fill="#008000"/><path d="M405.6 931.9a5.5 5.5 0 1 0 11.0 0a5.5 5.5 0 1 0 -11.0 0M418.1 936.9a5.5 5.5 0 1 0 11.0 0a5.5 5.5 0 1 0 -11.0 0M421.5 935.3a5.5 5.5 0 1 0 11.0 0a5.5 5.5 0 1 0 -11.0 0M437.4 942.8a5.5 5.5 0 1 0 11.0 0a5.5 5.5 0 1 0 -11.0 0M446.6 945.3a5.5 5.5 0 1 0 11.0 0a5.5 5.5 0 1 0 -11.0 0M451.6 952.0a5.5 5.5 0 1 0 11.0 0a5.5 5.5 0 1 0 -11.0 0M474.2 956.2a5.5 5.5 0 1 0 11.0 0a5.5 5.5 0 1 0 -11.0 0M471.6 962.0a5.5 5.5 0 1 0 11.0 0a5.5 5.5 0 1 0 -11.0 0M479.2 981.3a5.5 5.5 0 1 0 11.0 0a5.5 5.5 0 1 0 -11.0 0M486.7 962.0a5.5 5.5 0 1 0 11.0 0a5.5 5.5 0 1 0 -11.0 0M493.4 960.4a5.5 5.5 0 1 0 11.0 0a5.5 5.5 0 1 0 -11.0 0M506.8 963.7a5.5 5.5 0 1 0 11.0 0a5.5 5.5 0 1 0 -11.0 0M501.8 972.1a5.5 5.5 0 1 0 11.0 0a5.5 5.5 0 1 0 -11.0 0M510.1 977.1a5.5 5.5 0 1 0 11.0 0a5.5 5.5 0 1 0 -11.0 0M495.1 983.8a5.5 5.5 0 1 0 11.0 0a5.5 5.5 0 1 0 -11.0 0M501.8 987.1a5.5 5.5 0 1 0 11.0 0a5.5 5.5 0 1 0 -11.0 0M515.1 982.1a5.5 5.5 0 1 0 11.0 0a5.5 5.5 0 1 0 -11.0 0M526.8 975.4a5.5 5.5 0 1 0 11.0 0a5.5 5.5 0 1 0 -11.0 0M521.8 985.4a5.5 5.5 0 1 0 11.0 0a5.5 5.5 0 1 0 -11.0 0M535.2 987.1a5.5 5.5 0 1 0 11.0 0a5.5 5.5 0 1 0 -11.0 0M538.5 987.1a5.5 5.5 0 1 0 11.0 0a5.5 5.5 0 1 0 -11.0 0M498.4 997.1a5.5 5.5 0 1 0 11.0 0a5.5 5.5 0 1 0 -11.0 0M510.1 998.8a5.5 5.5 0 1 0 11.0 0a5.5 5.5 0 1 0 -11.0 0M518.5 1002.2a5.5 5.5 0 1 0 11.0 0a5.5 5.5 0 1 0 -11.0 0M525.2 1000.5a5.5 5.5 0 1 0 11.0 0a5.5 5.5 0 1 0 -11.0 0M505.1 1007.2a5.5 5.5 0 1 0 11.0 0a5.5 5.5 0 1 0 -11.0 0M515.1 1008.9a5.5 5.5 0 1 0 11.0 0a5.5 5.5 0 1 0 -11.0 0M528.5 1012.2a5.5 5.5 0 1 0 11.0 0a5.5 5.5 0 1 0 -11.0 0M538.5 1015.5a5.5 5.5 0 1 0 11.0 0a5.5 5.5 0 1 0 -11.0 0M548.6 1010.5a5.5 5.5 0 1 0 11.0 0a5.5 5.5 0 1 0 -11.0 0M552.8 997.1a5.5 5.5 0 1 0 11.0 0a5.5 5.5 0 1 0 -11.0 0M543.6 998.8a5.5 5.5 0 1 0 11.0 0a5.5 5.5 0 1 0 -11.0 0M508.4 1018.9a5.5 5.5 0 1 0 11.0 0a5.5 5.5 0 1 0 -11.0 0M518.5 1020.6a5.5 5.5 0 1 0 11.0 0a5.5 5.5 0 1 0 -11.0 0M548.6 1022.2a5.5 5.5 0 1 0 11.0 0a5.5 5.5 0 1 0 -11.0 0M556.9 1025.6a5.5 5.5 0 1 0 11.0 0a5.5 5.5 0 1 0 -11.0 0M562.0 1028.9a5.5 5.5 0 1 0 11.0 0a5.5 5.5 0 1 0 -11.0 0M543.6 1035.6a5.5 5.5 0 1 0 11.0 0a5.5 5.5 0 1 0 -11.0 0M551.9 1040.6a5.5 5.5 0 1 0 11.0 0a5.5 5.5 0 1 0 -11.0 0M560.3 1044.0a5.5 5.5 0 1 0 11.0 0a5.5 5.5 0 1 0 -11.0 0M563.6 1052.3a5.5 5.5 0 1 0 11.0 0a5.5 5.5 0 1 0 -11.0 0M541.9 1050.7a5.5 5.5 0 1 0 11.0 0a5.5 5.5 0 1 0 -11.0 0M547.7 1056.5a5.5 5.5 0 1 0 11.0 0a5.5 5.5 0 1 0 -11.0 0M547.7 1062.4a5.5 5.5 0 1 0 11.0 0a5.5 5.5 0 1 0 -11.0 0M517.6 1059.0a5.5 5.5 0 1 0 11.0 0a5.5 5.5 0 1 0 -11.0 0M472.5 1016.4a5.5 5.5 0 1 0 11.0 0a5.5 5.5 0 1 0 -11.0 0M541.9 1085.0a5.5 5.5 0 1 0 11.0 0a5.5 5.5 0 1 0 -11.0 0M549.4 1115.9a5.5 5.5 0 1 0 11.0 0a5.5 5.5 0 1 0 -11.0 0M568.7 1027.3a5.5 5.5 0 1 0 11.0 0a5.5 5.5 0 1 0 -11.0 0M568.7 1037.3a5.5 5.5 0 1 0 11.0 0a5.5 5.5 0 1 0 -11.0 0M488.4 968.4a5.5 5.5 0 1 0 11.0 0a5.5 5.5 0 1 0 -11.0 0M495.9 962.4a5.5 5.5 0 1 0 11.0 0a5.5 5.5 0 1 0 -11.0 0M501.9 971.4a5.5 5.5 0 1 0 11.0 0a5.5 5.5 0 1 0 -11.0 0M506.4 966.2a5.5 5.5 0 1 0 11.0 0a5.5 5.5 0 1 0 -11.0 0M509.3 973.6a5.5 5.5 0 1 0 11.0 0a5.5 5.5 0 1 0 -11.0 0M498.1 981.1a5.5 5.5 0 1 0 11.0 0a5.5 5.5 0 1 0 -11.0 0M505.6 981.1a5.5 5.5 0 1 0 11.0 0a5.5 5.5 0 1 0 -11.0 0M513.1 984.8a5.5 5.5 0 1 0 11.0 0a5.5 5.5 0 1 0 -11.0 0M516.8 977.4a5.5 5.5 0 1 0 11.0 0a5.5 5.5 0 1 0 -11.0 0M509.3 992.3a5.5 5.5 0 1 0 11.0 0a5.5 5.5 0 1 0 -11.0 0M516.8 992.3a5.5 5.5 0 1 0 11.0 0a5.5 5.5 0 1 0 -11.0 0M520.6 988.6a5.5 5.5 0 1 0 11.0 0a5.5 5.5 0 1 0 -11.0 0M528.0 988.6a5.5 5.5 0 1 0 11.0 0a5.5 5.5 0 1 0 -11.0 0M524.3 996.1a5.5 5.5 0 1 0 11.0 0a5.5 5.5 0 1 0 -11.0 0M531.8 996.1a5.5 5.5 0 1 0 11.0 0a5.5 5.5 0 1 0 -11.0 0M498.1 999.8a5.5 5.5 0 1 0 11.0 0a5.5 5.5 0 1 0 -11.0 0M501.9 1003.5a5.5 5.5 0 1 0 11.0 0a5.5 5.5 0 1 0 -11.0 0M509.3 1007.3a5.5 5.5 0 1 0 11.0 0a5.5 5.5 0 1 0 -11.0 0M516.8 1003.5a5.5 5.5 0 1 0 11.0 0a5.5 5.5 0 1 0 -11.0 0M520.6 1007.3a5.5 5.5 0 1 0 11.0 0a5.5 5.5 0 1 0 -11.0 0M535.5 1003.5a5.5 5.5 0 1 0 11.0 0a5.5 5.5 0 1 0 -11.0 0M539.2 1007.3a5.5 5.5 0 1 0 11.0 0a5.5 5.5 0 1 0 -11.0 0M546.7 1003.5a5.5 5.5 0 1 0 11.0 0a5.5 5.5 0 1 0 -11.0 0M531.8 1011.0a5.5 5.5 0 1 0 11.0 0a5.5 5.5 0 1 0 -11.0 0M543.0 1014.7a5.5 5.5 0 1 0 11.0 0a5.5 5.5 0 1 0 -11.0 0M550.4 1018.5a5.5 5.5 0 1 0 11.0 0a5.5 5.5 0 1 0 -11.0 0M554.2 1025.9a5.5 5.5 0 1 0 11.0 0a5.5 5.5 0 1 0 -11.0 0M560.2 1029.7a5.5 5.5 0 1 0 11.0 0a5.5 5.5 0 1 0 -11.0 0M546.7 1029.7a5.5 5.5 0 1 0 11.0 0a5.5 5.5 0 1 0 -11.0 0M492.9 988.6a5.5 5.5 0 1 0 11.0 0a5.5 5.5 0 1 0 -11.0 0M560.2 1022.2a5.5 5.5 0 1 0 11.0 0a5.5 5.5 0 1 0 -11.0 0" fill="#0000ff"/><path d="M117 725.4L571 1030.4" stroke="#000" stroke-width="2.2" stroke-dasharray="13.5 12.5" fill="none"/></g></g><path d="M117.5 538v-8M117.5 84v8M173.5 538v-8M173.5 84v8M230.5 538v-8M230.5 84v8M287.5 538v-8M287.5 84v8M344.5 538v-8M344.5 84v8M400.5 538v-8M400.5 84v8M457.5 538v-8M457.5 84v8M514.5 538v-8M514.5 84v8M571.5 538v-8M571.5 84v8M117 493.5h8M571 493.5h-8M117 433.5h8M571 433.5h-8M117 372.5h8M571 372.5h-8M117 312.5h8M571 312.5h-8M117 251.5h8M571 251.5h-8M117 190.5h8M571 190.5h-8M117 130.5h8M571 130.5h-8" stroke="#000" stroke-width="1.2" fill="none"/><path d="M730.5 84V538M786.5 84V538M843.5 84V538M900.5 84V538M956.5 84V538M1013.5 84V538M1070.5 84V538M673.5 510.5H1127M673.5 453.5H1127M673.5 396.5H1127M673.5 340.5H1127M673.5 283.5H1127M673.5 226.5H1127M673.5 170.5H1127M673.5 113.5H1127" stroke="#000" stroke-width="1.1" stroke-dasharray="2.5 5.8" fill="none"/><path d="M673.5 538v-8M673.5 84v8M730.5 538v-8M730.5 84v8M786.5 538v-8M786.5 84v8M843.5 538v-8M843.5 84v8M900.5 538v-8M900.5 84v8M956.5 538v-8M956.5 84v8M1013.5 538v-8M1013.5 84v8M1070.5 538v-8M1070.5 84v8M1127.5 538v-8M1127.5 84v8M673.5 510.5h8M1127 510.5h-8M673.5 453.5h8M1127 453.5h-8M673.5 396.5h8M1127 396.5h-8M673.5 340.5h8M1127 340.5h-8M673.5 283.5h8M1127 283.5h-8M673.5 226.5h8M1127 226.5h-8M673.5 170.5h8M1127 170.5h-8M673.5 113.5h8M1127 113.5h-8" stroke="#000" stroke-width="1.2" fill="none"/><path d="M1294.5 84V538M1359.5 84V538M1424.5 84V538M1489.5 84V538M1554.5 84V538M1619.5 84V538M1229 474.5H1683M1229 409.5H1683M1229 344.5H1683M1229 279.5H1683M1229 214.5H1683M1229 149.5H1683" stroke="#000" stroke-width="1.1" stroke-dasharray="2.5 5.8" fill="none"/><path d="M1229.5 538v-8M1229.5 84v8M1294.5 538v-8M1294.5 84v8M1359.5 538v-8M1359.5 84v8M1424.5 538v-8M1424.5 84v8M1489.5 538v-8M1489.5 84v8M1554.5 538v-8M1554.5 84v8M1619.5 538v-8M1619.5 84v8M1683.5 538v-8M1683.5 84v8M1229 538.5h8M1683 538.5h-8M1229 474.5h8M1683 474.5h-8M1229 409.5h8M1683 409.5h-8M1229 344.5h8M1683 344.5h-8M1229 279.5h8M1683 279.5h-8M1229 214.5h8M1683 214.5h-8M1229 149.5h8M1683 149.5h-8M1229 84.5h8M1683 84.5h-8" stroke="#000" stroke-width="1.2" fill="none"/><path d="M154.5 1116v-8M154.5 662v8M219.5 1116v-8M219.5 662v8M285.5 1116v-8M285.5 662v8M350.5 1116v-8M350.5 662v8M416.5 1116v-8M416.5 662v8M481.5 1116v-8M481.5 662v8M547.5 1116v-8M547.5 662v8M117 1078.5h8M571 1078.5h-8M117 1012.5h8M571 1012.5h-8M117 947.5h8M571 947.5h-8M117 881.5h8M571 881.5h-8M117 816.5h8M571 816.5h-8M117 750.5h8M571 750.5h-8M117 685.5h8M571 685.5h-8" stroke="#000" stroke-width="1.2" fill="none"/><path d="M749.5 662V1116M824.5 662V1116M900.5 662V1116M975.5 662V1116M1051.5 662V1116M673.5 1040.5H1127M673.5 964.5H1127M673.5 889.5H1127M673.5 813.5H1127M673.5 737.5H1127" stroke="#000" stroke-width="1.1" stroke-dasharray="2.5 5.8" fill="none"/><path d="M673.5 1116v-8M673.5 662v8M749.5 1116v-8M749.5 662v8M824.5 1116v-8M824.5 662v8M900.5 1116v-8M900.5 662v8M975.5 1116v-8M975.5 662v8M1051.5 1116v-8M1051.5 662v8M1127.5 1116v-8M1127.5 662v8M673.5 1116.5h8M1127 1116.5h-8M673.5 1040.5h8M1127 1040.5h-8M673.5 964.5h8M1127 964.5h-8M673.5 889.5h8M1127 889.5h-8M673.5 813.5h8M1127 813.5h-8M673.5 737.5h8M1127 737.5h-8M673.5 662.5h8M1127 662.5h-8" stroke="#000" stroke-width="1.2" fill="none"/><path d="M1245.5 662V1116M1320.5 662V1116M1396.5 662V1116M1471.5 662V1116M1547.5 662V1116M1622.5 662V1116M1229 1040.5H1683M1229 964.5H1683M1229 889.5H1683M1229 813.5H1683M1229 737.5H1683" stroke="#000" stroke-width="1.1" stroke-dasharray="2.5 5.8" fill="none"/><path d="M1245.5 1116v-8M1245.5 662v8M1320.5 1116v-8M1320.5 662v8M1396.5 1116v-8M1396.5 662v8M1471.5 1116v-8M1471.5 662v8M1547.5 1116v-8M1547.5 662v8M1622.5 1116v-8M1622.5 662v8M1229 1116.5h8M1683 1116.5h-8M1229 1040.5h8M1683 1040.5h-8M1229 964.5h8M1683 964.5h-8M1229 889.5h8M1683 889.5h-8M1229 813.5h8M1683 813.5h-8M1229 737.5h8M1683 737.5h-8M1229 662.5h8M1683 662.5h-8" stroke="#000" stroke-width="1.2" fill="none"/><path d="M117.5 1526.8v-8M117.5 1305.0v8M340.5 1526.8v-8M340.5 1305.0v8M564.5 1526.8v-8M564.5 1305.0v8M788.5 1526.8v-8M788.5 1305.0v8M1011.5 1526.8v-8M1011.5 1305.0v8M1235.5 1526.8v-8M1235.5 1305.0v8M1459.5 1526.8v-8M1459.5 1305.0v8M1683.5 1526.8v-8M1683.5 1305.0v8M117 1327.5h8M1683 1327.5h-8M117 1371.5h8M1683 1371.5h-8M117 1415.5h8M1683 1415.5h-8M117 1460.5h8M1683 1460.5h-8M117 1504.5h8M1683 1504.5h-8" stroke="#000" stroke-width="1.2" fill="none"/><path d="M117.5 1860.3999999999999v-8M117.5 1638.6v8M340.5 1860.3999999999999v-8M340.5 1638.6v8M564.5 1860.3999999999999v-8M564.5 1638.6v8M788.5 1860.3999999999999v-8M788.5 1638.6v8M1011.5 1860.3999999999999v-8M1011.5 1638.6v8M1235.5 1860.3999999999999v-8M1235.5 1638.6v8M1459.5 1860.3999999999999v-8M1459.5 1638.6v8M1683.5 1860.3999999999999v-8M1683.5 1638.6v8M117 1860.5h8M1683 1860.5h-8M117 1828.5h8M1683 1828.5h-8M117 1797.5h8M1683 1797.5h-8M117 1765.5h8M1683 1765.5h-8M117 1733.5h8M1683 1733.5h-8M117 1701.5h8M1683 1701.5h-8M117 1670.5h8M1683 1670.5h-8M117 1638.5h8M1683 1638.5h-8" stroke="#000" stroke-width="1.2" fill="none"/><path d="M117.5 2194.0v-8M117.5 1972.2v8M340.5 2194.0v-8M340.5 1972.2v8M564.5 2194.0v-8M564.5 1972.2v8M788.5 2194.0v-8M788.5 1972.2v8M1011.5 2194.0v-8M1011.5 1972.2v8M1235.5 2194.0v-8M1235.5 1972.2v8M1459.5 2194.0v-8M1459.5 1972.2v8M1683.5 2194.0v-8M1683.5 1972.2v8M117 2194.5h8M1683 2194.5h-8M117 2169.5h8M1683 2169.5h-8M117 2144.5h8M1683 2144.5h-8M117 2120.5h8M1683 2120.5h-8M117 2095.5h8M1683 2095.5h-8M117 2070.5h8M1683 2070.5h-8M117 2046.5h8M1683 2046.5h-8M117 2021.5h8M1683 2021.5h-8M117 1996.5h8M1683 1996.5h-8M117 1972.5h8M1683 1972.5h-8" stroke="#000" stroke-width="1.2" fill="none"/><path d="M117.5 2527.6000000000004v-8M117.5 2305.8v8M340.5 2527.6000000000004v-8M340.5 2305.8v8M564.5 2527.6000000000004v-8M564.5 2305.8v8M788.5 2527.6000000000004v-8M788.5 2305.8v8M1011.5 2527.6000000000004v-8M1011.5 2305.8v8M1235.5 2527.6000000000004v-8M1235.5 2305.8v8M1459.5 2527.6000000000004v-8M1459.5 2305.8v8M1683.5 2527.6000000000004v-8M1683.5 2305.8v8M117 2527.5h8M1683 2527.5h-8M117 2490.5h8M1683 2490.5h-8M117 2453.5h8M1683 2453.5h-8M117 2416.5h8M1683 2416.5h-8M117 2379.5h8M1683 2379.5h-8M117 2342.5h8M1683 2342.5h-8M117 2305.5h8M1683 2305.5h-8" stroke="#000" stroke-width="1.2" fill="none"/><path d="M117.5 2861.2000000000003v-8M117.5 2639.4v8M340.5 2861.2000000000003v-8M340.5 2639.4v8M564.5 2861.2000000000003v-8M564.5 2639.4v8M788.5 2861.2000000000003v-8M788.5 2639.4v8M1011.5 2861.2000000000003v-8M1011.5 2639.4v8M1235.5 2861.2000000000003v-8M1235.5 2639.4v8M1459.5 2861.2000000000003v-8M1459.5 2639.4v8M1683.5 2861.2000000000003v-8M1683.5 2639.4v8M117 2861.5h8M1683 2861.5h-8M117 2805.5h8M1683 2805.5h-8M117 2750.5h8M1683 2750.5h-8M117 2694.5h8M1683 2694.5h-8M117 2639.5h8M1683 2639.5h-8" stroke="#000" stroke-width="1.2" fill="none"/><path d="M117.5 3194.8v-8M117.5 2973.0v8M340.5 3194.8v-8M340.5 2973.0v8M564.5 3194.8v-8M564.5 2973.0v8M788.5 3194.8v-8M788.5 2973.0v8M1011.5 3194.8v-8M1011.5 2973.0v8M1235.5 3194.8v-8M1235.5 2973.0v8M1459.5 3194.8v-8M1459.5 2973.0v8M1683.5 3194.8v-8M1683.5 2973.0v8M117 3194.5h8M1683 3194.5h-8M117 3163.5h8M1683 3163.5h-8M117 3131.5h8M1683 3131.5h-8M117 3099.5h8M1683 3099.5h-8M117 3068.5h8M1683 3068.5h-8M117 3036.5h8M1683 3036.5h-8M117 3004.5h8M1683 3004.5h-8M117 2973.5h8M1683 2973.5h-8" stroke="#000" stroke-width="1.2" fill="none"/><rect x="117" y="84" width="454" height="454" fill="none" stroke="#000" stroke-width="2.2"/><rect x="673.5" y="84" width="453.5" height="454" fill="none" stroke="#000" stroke-width="2.2"/><rect x="1229" y="84" width="454" height="454" fill="none" stroke="#000" stroke-width="2.2"/><rect x="117" y="662" width="454" height="454" fill="none" stroke="#000" stroke-width="2.2"/><rect x="673.5" y="662" width="453.5" height="454" fill="none" stroke="#000" stroke-width="2.2"/><rect x="1229" y="662" width="454" height="454" fill="none" stroke="#000" stroke-width="2.2"/><rect x="117" y="1305.0" width="1566" height="221.79999999999995" fill="none" stroke="#000" stroke-width="2.2"/><rect x="117" y="1638.6" width="1566" height="221.79999999999995" fill="none" stroke="#000" stroke-width="2.2"/><rect x="117" y="1972.2" width="1566" height="221.79999999999995" fill="none" stroke="#000" stroke-width="2.2"/><rect x="117" y="2305.8" width="1566" height="221.80000000000018" fill="none" stroke="#000" stroke-width="2.2"/><rect x="117" y="2639.4" width="1566" height="221.80000000000018" fill="none" stroke="#000" stroke-width="2.2"/><rect x="117" y="2973.0" width="1566" height="221.80000000000018" fill="none" stroke="#000" stroke-width="2.2"/><text x="117.0" y="559.5" font-size="18" text-anchor="middle" textLength="36.7" lengthAdjust="spacingAndGlyphs">0.00</text><text x="173.8" y="559.5" font-size="18" text-anchor="middle" textLength="36.7" lengthAdjust="spacingAndGlyphs">0.05</text><text x="230.5" y="559.5" font-size="18" text-anchor="middle" textLength="36.7" lengthAdjust="spacingAndGlyphs">0.10</text><text x="287.2" y="559.5" font-size="18" text-anchor="middle" textLength="36.7" lengthAdjust="spacingAndGlyphs">0.15</text><text x="344.0" y="559.5" font-size="18" text-anchor="middle" textLength="36.7" lengthAdjust="spacingAndGlyphs">0.20</text><text x="400.8" y="559.5" font-size="18" text-anchor="middle" textLength="36.7" lengthAdjust="spacingAndGlyphs">0.25</text><text x="457.5" y="559.5" font-size="18" text-anchor="middle" textLength="36.7" lengthAdjust="spacingAndGlyphs">0.30</text><text x="514.2" y="559.5" font-size="18" text-anchor="middle" textLength="36.7" lengthAdjust="spacingAndGlyphs">0.35</text><text x="571.0" y="559.5" font-size="18" text-anchor="middle" textLength="36.7" lengthAdjust="spacingAndGlyphs">0.40</text><text x="108.0" y="498.2" font-size="18" text-anchor="end" textLength="36.7" lengthAdjust="spacingAndGlyphs">0.56</text><text x="108.0" y="437.7" font-size="18" text-anchor="end" textLength="36.7" lengthAdjust="spacingAndGlyphs">0.64</text><text x="108.0" y="377.2" font-size="18" text-anchor="end" textLength="36.7" lengthAdjust="spacingAndGlyphs">0.72</text><text x="108.0" y="316.7" font-size="18" text-anchor="end" textLength="36.7" lengthAdjust="spacingAndGlyphs">0.80</text><text x="108.0" y="256.2" font-size="18" text-anchor="end" textLength="36.7" lengthAdjust="spacingAndGlyphs">0.88</text><text x="108.0" y="195.7" font-size="18" text-anchor="end" textLength="36.7" lengthAdjust="spacingAndGlyphs">0.96</text><text x="108.0" y="135.2" font-size="18" text-anchor="end" textLength="36.7" lengthAdjust="spacingAndGlyphs">1.04</text><text x="673.5" y="559.5" font-size="18" text-anchor="middle" textLength="45.3" lengthAdjust="spacingAndGlyphs">−200</text><text x="730.2" y="559.5" font-size="18" text-anchor="middle" textLength="45.3" lengthAdjust="spacingAndGlyphs">−150</text><text x="786.9" y="559.5" font-size="18" text-anchor="middle" textLength="45.3" lengthAdjust="spacingAndGlyphs">−100</text><text x="843.6" y="559.5" font-size="18" text-anchor="middle" textLength="34.8" lengthAdjust="spacingAndGlyphs">−50</text><text x="900.2" y="559.5" font-size="18" text-anchor="middle" textLength="10.5" lengthAdjust="spacingAndGlyphs">0</text><text x="956.9" y="559.5" font-size="18" text-anchor="middle" textLength="21.0" lengthAdjust="spacingAndGlyphs">50</text><text x="1013.6" y="559.5" font-size="18" text-anchor="middle" textLength="31.5" lengthAdjust="spacingAndGlyphs">100</text><text x="1070.3" y="559.5" font-size="18" text-anchor="middle" textLength="31.5" lengthAdjust="spacingAndGlyphs">150</text><text x="1127.0" y="559.5" font-size="18" text-anchor="middle" textLength="31.5" lengthAdjust="spacingAndGlyphs">200</text><text x="664.5" y="514.9" font-size="18" text-anchor="end" textLength="45.3" lengthAdjust="spacingAndGlyphs">−150</text><text x="664.5" y="458.2" font-size="18" text-anchor="end" textLength="45.3" lengthAdjust="spacingAndGlyphs">−100</text><text x="664.5" y="401.6" font-size="18" text-anchor="end" textLength="34.8" lengthAdjust="spacingAndGlyphs">−50</text><text x="664.5" y="344.9" font-size="18" text-anchor="end" textLength="10.5" lengthAdjust="spacingAndGlyphs">0</text><text x="664.5" y="288.2" font-size="18" text-anchor="end" textLength="21.0" lengthAdjust="spacingAndGlyphs">50</text><text x="664.5" y="231.5" font-size="18" text-anchor="end" textLength="31.5" lengthAdjust="spacingAndGlyphs">100</text><text x="664.5" y="174.9" font-size="18" text-anchor="end" textLength="31.5" lengthAdjust="spacingAndGlyphs">150</text><text x="664.5" y="118.2" font-size="18" text-anchor="end" textLength="31.5" lengthAdjust="spacingAndGlyphs">200</text><text x="1229.5" y="559.5" font-size="18" text-anchor="middle" textLength="45.3" lengthAdjust="spacingAndGlyphs">−150</text><text x="1294.5" y="559.5" font-size="18" text-anchor="middle" textLength="45.3" lengthAdjust="spacingAndGlyphs">−100</text><text x="1359.5" y="559.5" font-size="18" text-anchor="middle" textLength="34.8" lengthAdjust="spacingAndGlyphs">−50</text><text x="1424.4" y="559.5" font-size="18" text-anchor="middle" textLength="10.5" lengthAdjust="spacingAndGlyphs">0</text><text x="1489.4" y="559.5" font-size="18" text-anchor="middle" textLength="21.0" lengthAdjust="spacingAndGlyphs">50</text><text x="1554.3" y="559.5" font-size="18" text-anchor="middle" textLength="31.5" lengthAdjust="spacingAndGlyphs">100</text><text x="1619.3" y="559.5" font-size="18" text-anchor="middle" textLength="31.5" lengthAdjust="spacingAndGlyphs">150</text><text x="1684.2" y="559.5" font-size="18" text-anchor="middle" textLength="31.5" lengthAdjust="spacingAndGlyphs">200</text><text x="1220.0" y="544.4" font-size="18" text-anchor="end" textLength="45.3" lengthAdjust="spacingAndGlyphs">−150</text><text x="1220.0" y="479.3" font-size="18" text-anchor="end" textLength="45.3" lengthAdjust="spacingAndGlyphs">−100</text><text x="1220.0" y="414.2" font-size="18" text-anchor="end" textLength="34.8" lengthAdjust="spacingAndGlyphs">−50</text><text x="1220.0" y="349.2" font-size="18" text-anchor="end" textLength="10.5" lengthAdjust="spacingAndGlyphs">0</text><text x="1220.0" y="284.1" font-size="18" text-anchor="end" textLength="21.0" lengthAdjust="spacingAndGlyphs">50</text><text x="1220.0" y="219.1" font-size="18" text-anchor="end" textLength="31.5" lengthAdjust="spacingAndGlyphs">100</text><text x="1220.0" y="154.1" font-size="18" text-anchor="end" textLength="31.5" lengthAdjust="spacingAndGlyphs">150</text><text x="1220.0" y="89.0" font-size="18" text-anchor="end" textLength="31.5" lengthAdjust="spacingAndGlyphs">200</text><text x="154.4" y="1137.5" font-size="18" text-anchor="middle" textLength="45.3" lengthAdjust="spacingAndGlyphs">−150</text><text x="219.9" y="1137.5" font-size="18" text-anchor="middle" textLength="45.3" lengthAdjust="spacingAndGlyphs">−100</text><text x="285.4" y="1137.5" font-size="18" text-anchor="middle" textLength="34.8" lengthAdjust="spacingAndGlyphs">−50</text><text x="350.9" y="1137.5" font-size="18" text-anchor="middle" textLength="10.5" lengthAdjust="spacingAndGlyphs">0</text><text x="416.3" y="1137.5" font-size="18" text-anchor="middle" textLength="21.0" lengthAdjust="spacingAndGlyphs">50</text><text x="481.8" y="1137.5" font-size="18" text-anchor="middle" textLength="31.5" lengthAdjust="spacingAndGlyphs">100</text><text x="547.3" y="1137.5" font-size="18" text-anchor="middle" textLength="31.5" lengthAdjust="spacingAndGlyphs">150</text><text x="108.0" y="1083.2" font-size="18" text-anchor="end" textLength="45.3" lengthAdjust="spacingAndGlyphs">−150</text><text x="108.0" y="1017.6" font-size="18" text-anchor="end" textLength="45.3" lengthAdjust="spacingAndGlyphs">−100</text><text x="108.0" y="952.0" font-size="18" text-anchor="end" textLength="34.8" lengthAdjust="spacingAndGlyphs">−50</text><text x="108.0" y="886.5" font-size="18" text-anchor="end" textLength="10.5" lengthAdjust="spacingAndGlyphs">0</text><text x="108.0" y="820.9" font-size="18" text-anchor="end" textLength="21.0" lengthAdjust="spacingAndGlyphs">50</text><text x="108.0" y="755.3" font-size="18" text-anchor="end" textLength="31.5" lengthAdjust="spacingAndGlyphs">100</text><text x="108.0" y="689.7" font-size="18" text-anchor="end" textLength="31.5" lengthAdjust="spacingAndGlyphs">150</text><text x="673.5" y="1137.5" font-size="18" text-anchor="middle" textLength="34.8" lengthAdjust="spacingAndGlyphs">−50</text><text x="749.1" y="1137.5" font-size="18" text-anchor="middle" textLength="10.5" lengthAdjust="spacingAndGlyphs">0</text><text x="824.7" y="1137.5" font-size="18" text-anchor="middle" textLength="21.0" lengthAdjust="spacingAndGlyphs">50</text><text x="900.2" y="1137.5" font-size="18" text-anchor="middle" textLength="31.5" lengthAdjust="spacingAndGlyphs">100</text><text x="975.8" y="1137.5" font-size="18" text-anchor="middle" textLength="31.5" lengthAdjust="spacingAndGlyphs">150</text><text x="1051.4" y="1137.5" font-size="18" text-anchor="middle" textLength="31.5" lengthAdjust="spacingAndGlyphs">200</text><text x="1127.0" y="1137.5" font-size="18" text-anchor="middle" textLength="31.5" lengthAdjust="spacingAndGlyphs">250</text><text x="664.5" y="1120.7" font-size="18" text-anchor="end" textLength="45.3" lengthAdjust="spacingAndGlyphs">−150</text><text x="664.5" y="1045.0" font-size="18" text-anchor="end" textLength="45.3" lengthAdjust="spacingAndGlyphs">−100</text><text x="664.5" y="969.4" font-size="18" text-anchor="end" textLength="34.8" lengthAdjust="spacingAndGlyphs">−50</text><text x="664.5" y="893.7" font-size="18" text-anchor="end" textLength="10.5" lengthAdjust="spacingAndGlyphs">0</text><text x="664.5" y="818.0" font-size="18" text-anchor="end" textLength="21.0" lengthAdjust="spacingAndGlyphs">50</text><text x="664.5" y="742.4" font-size="18" text-anchor="end" textLength="31.5" lengthAdjust="spacingAndGlyphs">100</text><text x="664.5" y="666.7" font-size="18" text-anchor="end" textLength="31.5" lengthAdjust="spacingAndGlyphs">150</text><text x="1245.0" y="1137.5" font-size="18" text-anchor="middle" textLength="45.3" lengthAdjust="spacingAndGlyphs">−200</text><text x="1320.6" y="1137.5" font-size="18" text-anchor="middle" textLength="45.3" lengthAdjust="spacingAndGlyphs">−150</text><text x="1396.1" y="1137.5" font-size="18" text-anchor="middle" textLength="45.3" lengthAdjust="spacingAndGlyphs">−100</text><text x="1471.7" y="1137.5" font-size="18" text-anchor="middle" textLength="34.8" lengthAdjust="spacingAndGlyphs">−50</text><text x="1547.2" y="1137.5" font-size="18" text-anchor="middle" textLength="10.5" lengthAdjust="spacingAndGlyphs">0</text><text x="1622.8" y="1137.5" font-size="18" text-anchor="middle" textLength="21.0" lengthAdjust="spacingAndGlyphs">50</text><text x="1220.0" y="1120.7" font-size="18" text-anchor="end" textLength="45.3" lengthAdjust="spacingAndGlyphs">−150</text><text x="1220.0" y="1045.0" font-size="18" text-anchor="end" textLength="45.3" lengthAdjust="spacingAndGlyphs">−100</text><text x="1220.0" y="969.4" font-size="18" text-anchor="end" textLength="34.8" lengthAdjust="spacingAndGlyphs">−50</text><text x="1220.0" y="893.7" font-size="18" text-anchor="end" textLength="10.5" lengthAdjust="spacingAndGlyphs">0</text><text x="1220.0" y="818.0" font-size="18" text-anchor="end" textLength="21.0" lengthAdjust="spacingAndGlyphs">50</text><text x="1220.0" y="742.4" font-size="18" text-anchor="end" textLength="31.5" lengthAdjust="spacingAndGlyphs">100</text><text x="1220.0" y="666.7" font-size="18" text-anchor="end" textLength="31.5" lengthAdjust="spacingAndGlyphs">150</text><text x="117.0" y="1549.8" font-size="18" text-anchor="middle" textLength="128.0" lengthAdjust="spacingAndGlyphs">09/23 14:07:52</text><text x="340.7" y="1549.8" font-size="18" text-anchor="middle" textLength="128.0" lengthAdjust="spacingAndGlyphs">09/23 14:08:07</text><text x="564.4" y="1549.8" font-size="18" text-anchor="middle" textLength="128.0" lengthAdjust="spacingAndGlyphs">09/23 14:08:22</text><text x="788.1" y="1549.8" font-size="18" text-anchor="middle" textLength="128.0" lengthAdjust="spacingAndGlyphs">09/23 14:08:37</text><text x="1011.9" y="1549.8" font-size="18" text-anchor="middle" textLength="128.0" lengthAdjust="spacingAndGlyphs">09/23 14:08:52</text><text x="1235.6" y="1549.8" font-size="18" text-anchor="middle" textLength="128.0" lengthAdjust="spacingAndGlyphs">09/23 14:09:07</text><text x="1459.3" y="1549.8" font-size="18" text-anchor="middle" textLength="128.0" lengthAdjust="spacingAndGlyphs">09/23 14:09:22</text><text x="1683.0" y="1549.8" font-size="18" text-anchor="middle" textLength="128.0" lengthAdjust="spacingAndGlyphs">09/23 14:09:37</text><text x="108.0" y="1331.9" font-size="18" text-anchor="end" textLength="21.0" lengthAdjust="spacingAndGlyphs">20</text><text x="108.0" y="1376.2" font-size="18" text-anchor="end" textLength="10.5" lengthAdjust="spacingAndGlyphs">0</text><text x="108.0" y="1420.6" font-size="18" text-anchor="end" textLength="34.8" lengthAdjust="spacingAndGlyphs">−20</text><text x="108.0" y="1465.0" font-size="18" text-anchor="end" textLength="34.8" lengthAdjust="spacingAndGlyphs">−40</text><text x="108.0" y="1509.3" font-size="18" text-anchor="end" textLength="34.8" lengthAdjust="spacingAndGlyphs">−60</text><text x="117.0" y="1883.4" font-size="18" text-anchor="middle" textLength="128.0" lengthAdjust="spacingAndGlyphs">09/23 14:07:52</text><text x="340.7" y="1883.4" font-size="18" text-anchor="middle" textLength="128.0" lengthAdjust="spacingAndGlyphs">09/23 14:08:07</text><text x="564.4" y="1883.4" font-size="18" text-anchor="middle" textLength="128.0" lengthAdjust="spacingAndGlyphs">09/23 14:08:22</text><text x="788.1" y="1883.4" font-size="18" text-anchor="middle" textLength="128.0" lengthAdjust="spacingAndGlyphs">09/23 14:08:37</text><text x="1011.9" y="1883.4" font-size="18" text-anchor="middle" textLength="128.0" lengthAdjust="spacingAndGlyphs">09/23 14:08:52</text><text x="1235.6" y="1883.4" font-size="18" text-anchor="middle" textLength="128.0" lengthAdjust="spacingAndGlyphs">09/23 14:09:07</text><text x="1459.3" y="1883.4" font-size="18" text-anchor="middle" textLength="128.0" lengthAdjust="spacingAndGlyphs">09/23 14:09:22</text><text x="1683.0" y="1883.4" font-size="18" text-anchor="middle" textLength="128.0" lengthAdjust="spacingAndGlyphs">09/23 14:09:37</text><text x="108.0" y="1865.1" font-size="18" text-anchor="end" textLength="34.8" lengthAdjust="spacingAndGlyphs">−60</text><text x="108.0" y="1833.4" font-size="18" text-anchor="end" textLength="34.8" lengthAdjust="spacingAndGlyphs">−40</text><text x="108.0" y="1801.7" font-size="18" text-anchor="end" textLength="34.8" lengthAdjust="spacingAndGlyphs">−20</text><text x="108.0" y="1770.0" font-size="18" text-anchor="end" textLength="10.5" lengthAdjust="spacingAndGlyphs">0</text><text x="108.0" y="1738.4" font-size="18" text-anchor="end" textLength="21.0" lengthAdjust="spacingAndGlyphs">20</text><text x="108.0" y="1706.7" font-size="18" text-anchor="end" textLength="21.0" lengthAdjust="spacingAndGlyphs">40</text><text x="108.0" y="1675.0" font-size="18" text-anchor="end" textLength="21.0" lengthAdjust="spacingAndGlyphs">60</text><text x="108.0" y="1643.3" font-size="18" text-anchor="end" textLength="21.0" lengthAdjust="spacingAndGlyphs">80</text><text x="117.0" y="2217.0" font-size="18" text-anchor="middle" textLength="128.0" lengthAdjust="spacingAndGlyphs">09/23 14:07:52</text><text x="340.7" y="2217.0" font-size="18" text-anchor="middle" textLength="128.0" lengthAdjust="spacingAndGlyphs">09/23 14:08:07</text><text x="564.4" y="2217.0" font-size="18" text-anchor="middle" textLength="128.0" lengthAdjust="spacingAndGlyphs">09/23 14:08:22</text><text x="788.1" y="2217.0" font-size="18" text-anchor="middle" textLength="128.0" lengthAdjust="spacingAndGlyphs">09/23 14:08:37</text><text x="1011.9" y="2217.0" font-size="18" text-anchor="middle" textLength="128.0" lengthAdjust="spacingAndGlyphs">09/23 14:08:52</text><text x="1235.6" y="2217.0" font-size="18" text-anchor="middle" textLength="128.0" lengthAdjust="spacingAndGlyphs">09/23 14:09:07</text><text x="1459.3" y="2217.0" font-size="18" text-anchor="middle" textLength="128.0" lengthAdjust="spacingAndGlyphs">09/23 14:09:22</text><text x="1683.0" y="2217.0" font-size="18" text-anchor="middle" textLength="128.0" lengthAdjust="spacingAndGlyphs">09/23 14:09:37</text><text x="108.0" y="2198.7" font-size="18" text-anchor="end" textLength="45.3" lengthAdjust="spacingAndGlyphs">−200</text><text x="108.0" y="2174.1" font-size="18" text-anchor="end" textLength="45.3" lengthAdjust="spacingAndGlyphs">−100</text><text x="108.0" y="2149.4" font-size="18" text-anchor="end" textLength="10.5" lengthAdjust="spacingAndGlyphs">0</text><text x="108.0" y="2124.8" font-size="18" text-anchor="end" textLength="31.5" lengthAdjust="spacingAndGlyphs">100</text><text x="108.0" y="2100.1" font-size="18" text-anchor="end" textLength="31.5" lengthAdjust="spacingAndGlyphs">200</text><text x="108.0" y="2075.5" font-size="18" text-anchor="end" textLength="31.5" lengthAdjust="spacingAndGlyphs">300</text><text x="108.0" y="2050.8" font-size="18" text-anchor="end" textLength="31.5" lengthAdjust="spacingAndGlyphs">400</text><text x="108.0" y="2026.2" font-size="18" text-anchor="end" textLength="31.5" lengthAdjust="spacingAndGlyphs">500</text><text x="108.0" y="2001.5" font-size="18" text-anchor="end" textLength="31.5" lengthAdjust="spacingAndGlyphs">600</text><text x="108.0" y="1976.9" font-size="18" text-anchor="end" textLength="31.5" lengthAdjust="spacingAndGlyphs">700</text><text x="117.0" y="2550.6" font-size="18" text-anchor="middle" textLength="128.0" lengthAdjust="spacingAndGlyphs">09/23 14:07:52</text><text x="340.7" y="2550.6" font-size="18" text-anchor="middle" textLength="128.0" lengthAdjust="spacingAndGlyphs">09/23 14:08:07</text><text x="564.4" y="2550.6" font-size="18" text-anchor="middle" textLength="128.0" lengthAdjust="spacingAndGlyphs">09/23 14:08:22</text><text x="788.1" y="2550.6" font-size="18" text-anchor="middle" textLength="128.0" lengthAdjust="spacingAndGlyphs">09/23 14:08:37</text><text x="1011.9" y="2550.6" font-size="18" text-anchor="middle" textLength="128.0" lengthAdjust="spacingAndGlyphs">09/23 14:08:52</text><text x="1235.6" y="2550.6" font-size="18" text-anchor="middle" textLength="128.0" lengthAdjust="spacingAndGlyphs">09/23 14:09:07</text><text x="1459.3" y="2550.6" font-size="18" text-anchor="middle" textLength="128.0" lengthAdjust="spacingAndGlyphs">09/23 14:09:22</text><text x="1683.0" y="2550.6" font-size="18" text-anchor="middle" textLength="128.0" lengthAdjust="spacingAndGlyphs">09/23 14:09:37</text><text x="108.0" y="2532.3" font-size="18" text-anchor="end" textLength="36.7" lengthAdjust="spacingAndGlyphs">0.05</text><text x="108.0" y="2495.3" font-size="18" text-anchor="end" textLength="36.7" lengthAdjust="spacingAndGlyphs">0.10</text><text x="108.0" y="2458.4" font-size="18" text-anchor="end" textLength="36.7" lengthAdjust="spacingAndGlyphs">0.15</text><text x="108.0" y="2421.4" font-size="18" text-anchor="end" textLength="36.7" lengthAdjust="spacingAndGlyphs">0.20</text><text x="108.0" y="2384.4" font-size="18" text-anchor="end" textLength="36.7" lengthAdjust="spacingAndGlyphs">0.25</text><text x="108.0" y="2347.5" font-size="18" text-anchor="end" textLength="36.7" lengthAdjust="spacingAndGlyphs">0.30</text><text x="108.0" y="2310.5" font-size="18" text-anchor="end" textLength="36.7" lengthAdjust="spacingAndGlyphs">0.35</text><text x="117.0" y="2884.2" font-size="18" text-anchor="middle" textLength="128.0" lengthAdjust="spacingAndGlyphs">09/23 14:07:52</text><text x="340.7" y="2884.2" font-size="18" text-anchor="middle" textLength="128.0" lengthAdjust="spacingAndGlyphs">09/23 14:08:07</text><text x="564.4" y="2884.2" font-size="18" text-anchor="middle" textLength="128.0" lengthAdjust="spacingAndGlyphs">09/23 14:08:22</text><text x="788.1" y="2884.2" font-size="18" text-anchor="middle" textLength="128.0" lengthAdjust="spacingAndGlyphs">09/23 14:08:37</text><text x="1011.9" y="2884.2" font-size="18" text-anchor="middle" textLength="128.0" lengthAdjust="spacingAndGlyphs">09/23 14:08:52</text><text x="1235.6" y="2884.2" font-size="18" text-anchor="middle" textLength="128.0" lengthAdjust="spacingAndGlyphs">09/23 14:09:07</text><text x="1459.3" y="2884.2" font-size="18" text-anchor="middle" textLength="128.0" lengthAdjust="spacingAndGlyphs">09/23 14:09:22</text><text x="1683.0" y="2884.2" font-size="18" text-anchor="middle" textLength="128.0" lengthAdjust="spacingAndGlyphs">09/23 14:09:37</text><text x="108.0" y="2865.9" font-size="18" text-anchor="end" textLength="21.0" lengthAdjust="spacingAndGlyphs">55</text><text x="108.0" y="2810.4" font-size="18" text-anchor="end" textLength="21.0" lengthAdjust="spacingAndGlyphs">60</text><text x="108.0" y="2755.0" font-size="18" text-anchor="end" textLength="21.0" lengthAdjust="spacingAndGlyphs">65</text><text x="108.0" y="2699.6" font-size="18" text-anchor="end" textLength="21.0" lengthAdjust="spacingAndGlyphs">70</text><text x="108.0" y="2644.1" font-size="18" text-anchor="end" textLength="21.0" lengthAdjust="spacingAndGlyphs">75</text><text x="117.0" y="3217.8" font-size="18" text-anchor="middle" textLength="128.0" lengthAdjust="spacingAndGlyphs">09/23 14:07:52</text><text x="340.7" y="3217.8" font-size="18" text-anchor="middle" textLength="128.0" lengthAdjust="spacingAndGlyphs">09/23 14:08:07</text><text x="564.4" y="3217.8" font-size="18" text-anchor="middle" textLength="128.0" lengthAdjust="spacingAndGlyphs">09/23 14:08:22</text><text x="788.1" y="3217.8" font-size="18" text-anchor="middle" textLength="128.0" lengthAdjust="spacingAndGlyphs">09/23 14:08:37</text><text x="1011.9" y="3217.8" font-size="18" text-anchor="middle" textLength="128.0" lengthAdjust="spacingAndGlyphs">09/23 14:08:52</text><text x="1235.6" y="3217.8" font-size="18" text-anchor="middle" textLength="128.0" lengthAdjust="spacingAndGlyphs">09/23 14:09:07</text><text x="1459.3" y="3217.8" font-size="18" text-anchor="middle" textLength="128.0" lengthAdjust="spacingAndGlyphs">09/23 14:09:22</text><text x="1683.0" y="3217.8" font-size="18" text-anchor="middle" textLength="128.0" lengthAdjust="spacingAndGlyphs">09/23 14:09:37</text><text x="108.0" y="3199.5" font-size="18" text-anchor="end" textLength="36.7" lengthAdjust="spacingAndGlyphs">0.15</text><text x="108.0" y="3167.8" font-size="18" text-anchor="end" textLength="36.7" lengthAdjust="spacingAndGlyphs">0.20</text><text x="108.0" y="3136.1" font-size="18" text-anchor="end" textLength="36.7" lengthAdjust="spacingAndGlyphs">0.25</text><text x="108.0" y="3104.4" font-size="18" text-anchor="end" textLength="36.7" lengthAdjust="spacingAndGlyphs">0.30</text><text x="108.0" y="3072.8" font-size="18" text-anchor="end" textLength="36.7" lengthAdjust="spacingAndGlyphs">0.35</text><text x="108.0" y="3041.1" font-size="18" text-anchor="end" textLength="36.7" lengthAdjust="spacingAndGlyphs">0.40</text><text x="108.0" y="3009.4" font-size="18" text-anchor="end" textLength="36.7" lengthAdjust="spacingAndGlyphs">0.45</text><text x="108.0" y="2977.7" font-size="18" text-anchor="end" textLength="36.7" lengthAdjust="spacingAndGlyphs">0.50</text><text x="344.0" y="74.2" font-size="24" text-anchor="middle" textLength="232.8" lengthAdjust="spacingAndGlyphs">Transverse pressure</text><text x="900.2" y="74.2" font-size="24" text-anchor="middle" textLength="362.3" lengthAdjust="spacingAndGlyphs">Hodogram(V2_V1 MVAB frame)</text><text x="1456.0" y="74.2" font-size="24" text-anchor="middle" textLength="362.3" lengthAdjust="spacingAndGlyphs">Hodogram(V3_V1 MVAB frame)</text><text x="344.0" y="589.9" font-size="18" text-anchor="middle" textLength="65.3" lengthAdjust="spacingAndGlyphs">A' (T·m)</text><text x="900.2" y="589.9" font-size="18" text-anchor="middle" textLength="74.4" lengthAdjust="spacingAndGlyphs">V2(km/s)</text><text x="1456.0" y="589.9" font-size="18" text-anchor="middle" textLength="74.4" lengthAdjust="spacingAndGlyphs">V3(km/s)</text><text x="56.0" y="312.4" font-size="18" text-anchor="middle" textLength="68.8" lengthAdjust="spacingAndGlyphs" transform="rotate(-90 56.0 312.4)">Pt' (nPa)</text><text x="604.0" y="313.5" font-size="18" text-anchor="middle" textLength="74.4" lengthAdjust="spacingAndGlyphs" transform="rotate(-90 604.0 313.5)">V1(km/s)</text><text x="1160.0" y="313.5" font-size="18" text-anchor="middle" textLength="74.4" lengthAdjust="spacingAndGlyphs" transform="rotate(-90 1160.0 313.5)">V1(km/s)</text><text x="344.0" y="652.2" font-size="24" text-anchor="middle" textLength="116.8" lengthAdjust="spacingAndGlyphs">WalenTest</text><text x="900.2" y="1166.2" font-size="18" text-anchor="middle" textLength="74.4" lengthAdjust="spacingAndGlyphs">V2(km/s)</text><text x="1456.0" y="1166.2" font-size="18" text-anchor="middle" textLength="74.4" lengthAdjust="spacingAndGlyphs">V3(km/s)</text><text x="604.0" y="891.5" font-size="18" text-anchor="middle" textLength="74.4" lengthAdjust="spacingAndGlyphs" transform="rotate(-90 604.0 891.5)">V1(km/s)</text><text x="1160.0" y="891.5" font-size="18" text-anchor="middle" textLength="74.4" lengthAdjust="spacingAndGlyphs" transform="rotate(-90 1160.0 891.5)">V1(km/s)</text><text x="900.0" y="1294.5" font-size="24" text-anchor="middle" textLength="318.2" lengthAdjust="spacingAndGlyphs">Magnetic Field (RTN Frame)</text><text x="900.0" y="1628.1" font-size="24" text-anchor="middle" textLength="386.2" lengthAdjust="spacingAndGlyphs">Magnetic Field (Flux Rope Frame)</text><text x="900.0" y="1961.7" font-size="24" text-anchor="middle" textLength="374.3" lengthAdjust="spacingAndGlyphs">Solar Wind Velocity (RTN Frame)</text><text x="900.0" y="2295.3" font-size="24" text-anchor="middle" textLength="144.4" lengthAdjust="spacingAndGlyphs">Plasma Beta</text><text x="900.0" y="2628.9" font-size="24" text-anchor="middle" textLength="270.9" lengthAdjust="spacingAndGlyphs">Proton Number Density</text><text x="59.9" y="1418.5" font-size="18" text-anchor="middle" textLength="44.7" lengthAdjust="spacingAndGlyphs" transform="rotate(-90 59.9 1418.5)">B(nT)</text><text x="59.9" y="1752.1" font-size="18" text-anchor="middle" textLength="44.7" lengthAdjust="spacingAndGlyphs" transform="rotate(-90 59.9 1752.1)">B(nT)</text><text x="48.0" y="2085.7" font-size="18" text-anchor="middle" textLength="86.0" lengthAdjust="spacingAndGlyphs" transform="rotate(-90 48.0 2085.7)">Vsw(km/s)</text><text x="73.8" y="2752.9" font-size="18" text-anchor="middle" textLength="73.2" lengthAdjust="spacingAndGlyphs" transform="rotate(-90 73.8 2752.9)">Np(#/cc)</text><text x="678.3" y="649.9" font-size="24" textLength="283.0" lengthAdjust="spacingAndGlyphs">Hodogram (V2_V1 MVAV</text><text x="961.3" y="653.4" font-size="17" font-family="Liberation Serif" font-style="italic" textLength="75.6" lengthAdjust="spacingAndGlyphs">remaining</text><text x="1036.9" y="649.9" font-size="24" textLength="85.2" lengthAdjust="spacingAndGlyphs"> frame)</text><text x="1234.1" y="649.9" font-size="24" textLength="283.0" lengthAdjust="spacingAndGlyphs">Hodogram (V3_V1 MVAV</text><text x="1517.1" y="653.4" font-size="17" font-family="Liberation Serif" font-style="italic" textLength="75.6" lengthAdjust="spacingAndGlyphs">remaining</text><text x="1592.7" y="649.9" font-size="24" textLength="85.2" lengthAdjust="spacingAndGlyphs"> frame)</text><g transform="rotate(-90 45.5 889.4)"><text x="-12.5" y="889.4" font-size="18" textLength="11.3" lengthAdjust="spacingAndGlyphs">V</text><text x="-1.2" y="892.9" font-size="12.5" font-family="Liberation Serif" font-style="italic" textLength="52.1" lengthAdjust="spacingAndGlyphs">remaining</text><text x="50.9" y="889.4" font-size="18" textLength="52.7" lengthAdjust="spacingAndGlyphs">(km/s)</text></g><text x="307.8" y="1166.2" font-size="18" textLength="11.3" lengthAdjust="spacingAndGlyphs">V</text><text x="319.1" y="1169.7" font-size="12.5" font-family="Liberation Serif" font-style="italic" textLength="8.5" lengthAdjust="spacingAndGlyphs">A</text><text x="327.6" y="1166.2" font-size="18" textLength="52.7" lengthAdjust="spacingAndGlyphs">(km/s)</text><g transform="rotate(-90 52 2417.5)"><text x="43.0" y="2417.5" font-size="17" font-family="Liberation Serif" font-style="italic" textLength="9.5" lengthAdjust="spacingAndGlyphs">β</text><text x="52.5" y="2420.5" font-size="12" font-family="Liberation Serif" font-style="italic" textLength="6.0" lengthAdjust="spacingAndGlyphs">p</text></g><g transform="rotate(-90 55 3084.8)"><text x="22.7" y="3084.8" font-size="18" textLength="27.0" lengthAdjust="spacingAndGlyphs">Tp(</text><text x="49.7" y="3084.8" font-size="15" font-family="Liberation Serif" textLength="15.3" lengthAdjust="spacingAndGlyphs">10</text><text x="65.0" y="3077.8" font-size="10" font-family="Liberation Serif" textLength="5.0" lengthAdjust="spacingAndGlyphs">6</text><text x="70.0" y="3084.8" font-size="18" textLength="17.3" lengthAdjust="spacingAndGlyphs">K)</text></g><text x="729.3" y="2960.7" font-size="24" textLength="287.5" lengthAdjust="spacingAndGlyphs">Proton Temperature and </text><text x="1016.8" y="2960.7" font-size="25" font-family="Liberation Serif" font-style="italic" textLength="14.0" lengthAdjust="spacingAndGlyphs">T</text><text x="1030.8" y="2964.7" font-size="17" font-family="Liberation Serif" font-style="italic" textLength="9.0" lengthAdjust="spacingAndGlyphs">e</text><text x="1039.8" y="2960.7" font-size="24" font-family="Liberation Serif" textLength="10.0" lengthAdjust="spacingAndGlyphs">/</text><text x="1049.8" y="2960.7" font-size="25" font-family="Liberation Serif" font-style="italic" textLength="14.0" lengthAdjust="spacingAndGlyphs">T</text><text x="1063.8" y="2964.7" font-size="17" font-family="Liberation Serif" font-style="italic" textLength="9.0" lengthAdjust="spacingAndGlyphs">p</text><text x="684.8" y="515.2" font-size="18" font-family="Liberation Serif" font-style="italic" textLength="9.8" lengthAdjust="spacingAndGlyphs">λ</text><text x="695.0" y="518.7" font-size="12.5" font-family="Liberation Serif" textLength="5.2" lengthAdjust="spacingAndGlyphs">1</text><text x="702.8" y="515.2" font-size="18" font-family="Liberation Serif" textLength="8" lengthAdjust="spacingAndGlyphs">/</text><text x="713.0" y="515.2" font-size="18" font-family="Liberation Serif" font-style="italic" textLength="9.8" lengthAdjust="spacingAndGlyphs">λ</text><text x="722.6" y="518.7" font-size="12.5" font-family="Liberation Serif" textLength="5.8" lengthAdjust="spacingAndGlyphs">2</text><text x="734.4" y="515.2" font-size="18" font-family="Liberation Serif" textLength="14" lengthAdjust="spacingAndGlyphs">≈</text><text x="755.3" y="515.2" font-size="19.5" text-anchor="start" textLength="51.5" lengthAdjust="spacingAndGlyphs">13.31</text><text x="1261.2" y="515.2" font-size="18" font-family="Liberation Serif" font-style="italic" textLength="9.8" lengthAdjust="spacingAndGlyphs">λ</text><text x="1271.4" y="518.7" font-size="12.5" font-family="Liberation Serif" textLength="5.2" lengthAdjust="spacingAndGlyphs">1</text><text x="1279.2" y="515.2" font-size="18" font-family="Liberation Serif" textLength="8" lengthAdjust="spacingAndGlyphs">/</text><text x="1289.4" y="515.2" font-size="18" font-family="Liberation Serif" font-style="italic" textLength="9.8" lengthAdjust="spacingAndGlyphs">λ</text><text x="1299.0" y="518.7" font-size="12.5" font-family="Liberation Serif" textLength="5.8" lengthAdjust="spacingAndGlyphs">3</text><text x="1310.8" y="515.2" font-size="18" font-family="Liberation Serif" textLength="14" lengthAdjust="spacingAndGlyphs">≈</text><text x="1331.7" y="515.2" font-size="19.5" text-anchor="start" textLength="51.5" lengthAdjust="spacingAndGlyphs">23.95</text><text x="684.8" y="1091.4" font-size="18" font-family="Liberation Serif" font-style="italic" textLength="9.8" lengthAdjust="spacingAndGlyphs">λ</text><text x="695.0" y="1094.9" font-size="12.5" font-family="Liberation Serif" textLength="5.2" lengthAdjust="spacingAndGlyphs">1</text><text x="702.8" y="1091.4" font-size="18" font-family="Liberation Serif" textLength="8" lengthAdjust="spacingAndGlyphs">/</text><text x="713.0" y="1091.4" font-size="18" font-family="Liberation Serif" font-style="italic" textLength="9.8" lengthAdjust="spacingAndGlyphs">λ</text><text x="722.6" y="1094.9" font-size="12.5" font-family="Liberation Serif" textLength="5.8" lengthAdjust="spacingAndGlyphs">2</text><text x="734.4" y="1091.4" font-size="18" font-family="Liberation Serif" textLength="14" lengthAdjust="spacingAndGlyphs">≈</text><text x="755.3" y="1091.4" font-size="19.5" text-anchor="start" textLength="40.1" lengthAdjust="spacingAndGlyphs">7.85</text><text x="1261.2" y="1091.4" font-size="18" font-family="Liberation Serif" font-style="italic" textLength="9.8" lengthAdjust="spacingAndGlyphs">λ</text><text x="1271.4" y="1094.9" font-size="12.5" font-family="Liberation Serif" textLength="5.2" lengthAdjust="spacingAndGlyphs">1</text><text x="1279.2" y="1091.4" font-size="18" font-family="Liberation Serif" textLength="8" lengthAdjust="spacingAndGlyphs">/</text><text x="1289.4" y="1091.4" font-size="18" font-family="Liberation Serif" font-style="italic" textLength="9.8" lengthAdjust="spacingAndGlyphs">λ</text><text x="1299.0" y="1094.9" font-size="12.5" font-family="Liberation Serif" textLength="5.8" lengthAdjust="spacingAndGlyphs">3</text><text x="1310.8" y="1091.4" font-size="18" font-family="Liberation Serif" textLength="14" lengthAdjust="spacingAndGlyphs">≈</text><text x="1331.7" y="1091.4" font-size="19.5" text-anchor="start" textLength="51.5" lengthAdjust="spacingAndGlyphs">32.88</text><rect x="413" y="91" width="151" height="49" fill="#fff" stroke="#000" stroke-width="2.2"/><path d="M423.4 103.7H444.5" stroke="#ff0000" stroke-width="2"/><path d="M423.4 126.8H444.5" stroke="#0000ff" stroke-width="2"/><circle cx="423.4" cy="103.7" r="6.3" fill="#ff0000" stroke="#000" stroke-width="1.1"/><path d="M423.4 120.6L417.2 133L429.59999999999997 133Z" fill="#0000ff" stroke="#000" stroke-width="1.1"/><circle cx="444.5" cy="103.7" r="6.3" fill="#ff0000" stroke="#000" stroke-width="1.1"/><path d="M444.5 120.6L438.3 133L450.7 133Z" fill="#0000ff" stroke="#000" stroke-width="1.1"/><text x="460.5" y="109.3" font-size="17" text-anchor="start" textLength="93.8" lengthAdjust="spacingAndGlyphs">1st half path</text><text x="460.5" y="132.4" font-size="17" text-anchor="start" textLength="99.0" lengthAdjust="spacingAndGlyphs">2nd half path</text><rect x="1007" y="91" width="113" height="59" fill="#fff" stroke="#000" stroke-width="2.2"/><path d="M1017.4 107.4H1037.3" stroke="#0000ff" stroke-width="2"/><path d="M1017.4 133.3H1037.3" stroke="#ff0000" stroke-width="2"/><circle cx="1017.4" cy="107.4" r="3.6" fill="#0000ff"/><circle cx="1037.3" cy="107.4" r="3.6" fill="#0000ff"/><circle cx="1017.4" cy="133.3" r="3.6" fill="#ff0000"/><circle cx="1037.3" cy="133.3" r="3.6" fill="#ff0000"/><text x="1054.7" y="110.8" font-size="17" text-anchor="start" textLength="15.1" lengthAdjust="spacingAndGlyphs">B/</text><path d="M1069.7 108L1072.3 106.6L1075.5 113.5L1080.5 99.4H1107.5" fill="none" stroke="#000" stroke-width="0.9"/><text x="1082.0" y="110.5" font-size="15" font-family="Liberation Serif" font-style="italic" textLength="8" lengthAdjust="spacingAndGlyphs">μ</text><text x="1090.0" y="112.8" font-size="11" font-family="Liberation Serif" textLength="4.6" lengthAdjust="spacingAndGlyphs">0</text><text x="1096.5" y="110.5" font-size="15" font-family="Liberation Serif" font-style="italic" textLength="8.5" lengthAdjust="spacingAndGlyphs">ρ</text><text x="1054.7" y="137.9" font-size="17" text-anchor="start" textLength="10.1" lengthAdjust="spacingAndGlyphs">V</text><text x="1063.7" y="140" font-size="11" font-family="Liberation Serif" font-style="italic" textLength="48.3" lengthAdjust="spacingAndGlyphs">remaining</text><rect x="1563" y="91" width="113" height="59" fill="#fff" stroke="#000" stroke-width="2.2"/><path d="M1573.4 107.4H1593.3" stroke="#0000ff" stroke-width="2"/><path d="M1573.4 133.3H1593.3" stroke="#ff0000" stroke-width="2"/><circle cx="1573.4" cy="107.4" r="3.6" fill="#0000ff"/><circle cx="1593.3" cy="107.4" r="3.6" fill="#0000ff"/><circle cx="1573.4" cy="133.3" r="3.6" fill="#ff0000"/><circle cx="1593.3" cy="133.3" r="3.6" fill="#ff0000"/><text x="1610.7" y="110.8" font-size="17" text-anchor="start" textLength="15.1" lengthAdjust="spacingAndGlyphs">B/</text><path d="M1625.7 108L1628.3 106.6L1631.5 113.5L1636.5 99.4H1663.5" fill="none" stroke="#000" stroke-width="0.9"/><text x="1638.0" y="110.5" font-size="15" font-family="Liberation Serif" font-style="italic" textLength="8" lengthAdjust="spacingAndGlyphs">μ</text><text x="1646.0" y="112.8" font-size="11" font-family="Liberation Serif" textLength="4.6" lengthAdjust="spacingAndGlyphs">0</text><text x="1652.5" y="110.5" font-size="15" font-family="Liberation Serif" font-style="italic" textLength="8.5" lengthAdjust="spacingAndGlyphs">ρ</text><text x="1610.7" y="137.9" font-size="17" text-anchor="start" textLength="10.1" lengthAdjust="spacingAndGlyphs">V</text><text x="1619.7" y="140" font-size="11" font-family="Liberation Serif" font-style="italic" textLength="48.3" lengthAdjust="spacingAndGlyphs">remaining</text><rect x="1604" y="1312" width="72" height="71" fill="#fff" stroke="#000" stroke-width="2.2"/><path d="M1612.9 1324.9H1636" stroke="#ff0000" stroke-width="2.2"/><text x="1651.7" y="1330.6" font-size="17" text-anchor="start" textLength="16.2" lengthAdjust="spacingAndGlyphs">Br</text><path d="M1612.9 1347H1636" stroke="#008000" stroke-width="2.2"/><text x="1651.7" y="1352.7" font-size="17" text-anchor="start" textLength="16.0" lengthAdjust="spacingAndGlyphs">Bt</text><path d="M1612.9 1369.7H1636" stroke="#0000ff" stroke-width="2.2"/><text x="1651.7" y="1375.4" font-size="17" text-anchor="start" textLength="19.5" lengthAdjust="spacingAndGlyphs">Bn</text><rect x="1601.2" y="1646.2" width="74.59999999999991" height="93.0" fill="#fff" stroke="#000" stroke-width="2.2"/><path d="M1609.9 1658.9H1632" stroke="#ff0000" stroke-width="2.2"/><text x="1648.7" y="1664.6" font-size="17" text-anchor="start" textLength="23.0" lengthAdjust="spacingAndGlyphs">Bx'</text><path d="M1609.9 1680.8H1632" stroke="#008000" stroke-width="2.2"/><text x="1648.7" y="1686.5" font-size="17" text-anchor="start" textLength="23.0" lengthAdjust="spacingAndGlyphs">By'</text><path d="M1609.9 1702.9H1632" stroke="#0000ff" stroke-width="2.2"/><text x="1648.7" y="1708.6" font-size="17" text-anchor="start" textLength="22.0" lengthAdjust="spacingAndGlyphs">Bz'</text><path d="M1609.9 1724.8H1632" stroke="#000" stroke-width="2.2"/><text x="1648.7" y="1730.5" font-size="17" text-anchor="start" textLength="20.1" lengthAdjust="spacingAndGlyphs">|B|</text><rect x="1603" y="1979" width="73" height="71.40000000000009" fill="#fff" stroke="#000" stroke-width="2.2"/><path d="M1612.9 1991.6H1636" stroke="#ff0000" stroke-width="2.2"/><text x="1651.7" y="1997.3" font-size="17" text-anchor="start" textLength="16.2" lengthAdjust="spacingAndGlyphs">Vr</text><path d="M1612.9 2013.7H1636" stroke="#008000" stroke-width="2.2"/><text x="1651.7" y="2019.4" font-size="17" text-anchor="start" textLength="15.9" lengthAdjust="spacingAndGlyphs">Vt</text><path d="M1612.9 2036.4H1636" stroke="#0000ff" stroke-width="2.2"/><text x="1651.7" y="2042.1" font-size="17" text-anchor="start" textLength="19.5" lengthAdjust="spacingAndGlyphs">Vn</text><rect x="123.7" y="2979.9" width="71.49999999999999" height="27.0" fill="#fff" stroke="#000" stroke-width="2.2"/><path d="M134 2993H156" stroke="#0000ff" stroke-width="2.2"/><text x="171.0" y="2998.7" font-size="17" text-anchor="start" textLength="18.4" lengthAdjust="spacingAndGlyphs">Tp</text><rect x="125" y="669" width="145" height="71.60000000000002" fill="#fff" stroke="#000" stroke-width="2.2"/><text x="128.6" y="686.4" font-size="19" text-anchor="start" textLength="135.0" lengthAdjust="spacingAndGlyphs">slope = -0.677</text><text x="129.2" y="708.2" font-size="19" font-family="Liberation Serif" font-style="italic" textLength="9" lengthAdjust="spacingAndGlyphs">r</text><text x="142.0" y="708.2" font-size="19" text-anchor="start" textLength="81.4" lengthAdjust="spacingAndGlyphs">= -0.973</text><text x="129.9" y="730" font-size="19" font-family="Liberation Serif" font-style="italic" textLength="17" lengthAdjust="spacingAndGlyphs">M</text><text x="147" y="733.5" font-size="13" font-family="Liberation Serif" font-style="italic" textLength="9" lengthAdjust="spacingAndGlyphs">A</text><text x="165.0" y="730.0" font-size="19" text-anchor="start" textLength="73.0" lengthAdjust="spacingAndGlyphs">= 0.696</text>
</svg></body></html>
